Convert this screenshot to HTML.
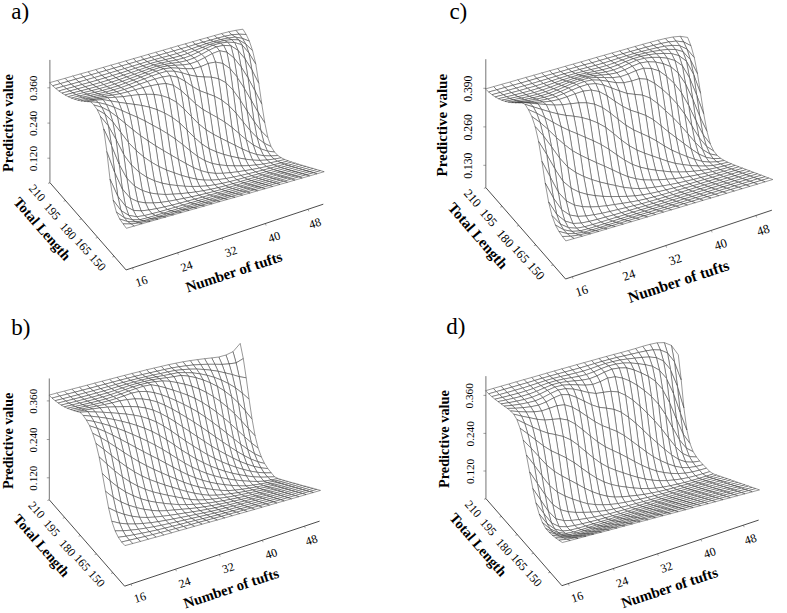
<!DOCTYPE html>
<html><head><meta charset="utf-8"><style>
html,body{margin:0;padding:0;background:#fff;width:787px;height:613px;overflow:hidden}
svg{display:block}
text{font-family:"Liberation Serif",serif;fill:#000}
.ax{stroke:#000;stroke-width:0.55;fill:none}
.ax2{stroke:#111;stroke-width:0.75;fill:none}
.tk{stroke:#444;stroke-width:0.5;fill:none}
.m path{fill:#fff;stroke:#333;stroke-width:0.5;stroke-linejoin:round}
</style></head><body>
<svg width="787" height="613" viewBox="0 0 787 613">
<g><path class="ax" d="M49.94 182.34L49.90 59.92"/>
<path class="ax2" d="M49.64 182.34L126.09 269.95L323.27 204.20"/>
<path class="tk" d="M49.9 158.2h-2.5M49.9 123.1h-2.5M49.9 87.8h-2.5M132.5 267.8l0.8 2M177.6 252.8l0.8 2M221.9 238.0l0.8 2M265.3 223.5l0.8 2M308.0 209.3l0.8 2M114.3 256.4l-2 0.6M97.7 237.5l-2 0.6M81.5 218.9l-2 0.6M65.6 200.6l-2 0.6M50.0 182.8l-2 0.6"/>
<text x="11.3" y="18.6" font-size="23">a)</text>
<text transform="translate(33.4 158.6) rotate(-90.0)" font-size="11.2" text-anchor="middle" dominant-baseline="central">0.120</text>
<text transform="translate(33.4 123.5) rotate(-90.0)" font-size="11.2" text-anchor="middle" dominant-baseline="central">0.240</text>
<text transform="translate(33.4 88.2) rotate(-90.0)" font-size="11.2" text-anchor="middle" dominant-baseline="central">0.360</text>
<text transform="translate(141.5 281.3) rotate(-18.4)" font-size="12.0" text-anchor="middle" dominant-baseline="central">16</text>
<text transform="translate(186.6 266.3) rotate(-18.4)" font-size="12.0" text-anchor="middle" dominant-baseline="central">24</text>
<text transform="translate(230.9 251.5) rotate(-18.4)" font-size="12.0" text-anchor="middle" dominant-baseline="central">32</text>
<text transform="translate(274.3 237.0) rotate(-18.4)" font-size="12.0" text-anchor="middle" dominant-baseline="central">40</text>
<text transform="translate(315.0 223.3) rotate(-18.4)" font-size="12.0" text-anchor="middle" dominant-baseline="central">48</text>
<text transform="translate(97.8 262.4) rotate(48.9)" font-size="12.0" text-anchor="middle" dominant-baseline="central">150</text>
<text transform="translate(83.3 246.3) rotate(48.9)" font-size="12.0" text-anchor="middle" dominant-baseline="central">165</text>
<text transform="translate(68.3 231.2) rotate(48.9)" font-size="12.0" text-anchor="middle" dominant-baseline="central">180</text>
<text transform="translate(52.4 211.3) rotate(48.9)" font-size="12.0" text-anchor="middle" dominant-baseline="central">195</text>
<text transform="translate(37.2 192.9) rotate(48.9)" font-size="12.0" text-anchor="middle" dominant-baseline="central">210</text>
<text transform="translate(8.1 123.0) rotate(-90.0)" font-size="14.3" font-weight="bold" text-anchor="middle" dominant-baseline="central">Predictive value</text>
<text transform="translate(42.4 228.7) rotate(48.9)" font-size="14.3" font-weight="bold" text-anchor="middle" dominant-baseline="central">Total Length</text>
<text transform="translate(233.9 271.9) rotate(-18.4)" font-size="14.8" font-weight="bold" text-anchor="middle" dominant-baseline="central">Number of tufts</text></g>
<g class="m"><path d="M239.1 34.2L246.2 34.5L242.9 29.2L235.8 30.3z"/>
<path d="M231.9 34.8L239.1 34.2L235.8 30.3L228.6 31.8z"/>
<path d="M242.4 38.4L249.4 41.2L246.2 34.5L239.1 34.2z"/>
<path d="M245.7 44.1L252.6 50.7L249.4 41.2L242.4 38.4z"/>
<path d="M224.7 36.3L231.9 34.8L228.6 31.8L221.4 33.6z"/>
<path d="M235.2 37.1L242.4 38.4L239.1 34.2L231.9 34.8z"/>
<path d="M248.9 53.0L255.8 64.2L252.6 50.7L245.7 44.1z"/>
<path d="M217.5 38.2L224.7 36.3L221.4 33.6L214.2 35.6z"/>
<path d="M251.9 70.0L258.8 83.5L255.8 64.2L248.9 53.0z"/>
<path d="M228.1 38.1L235.2 37.1L231.9 34.8L224.7 36.3z"/>
<path d="M254.9 90.8L261.8 104.2L258.8 83.5L251.9 70.0z"/>
<path d="M257.9 112.1L264.8 122.9L261.8 104.2L254.9 90.8z"/>
<path d="M238.6 39.9L245.7 44.1L242.4 38.4L235.2 37.1z"/>
<path d="M260.9 130.7L267.9 137.7L264.8 122.9L257.9 112.1z"/>
<path d="M210.3 40.2L217.5 38.2L214.2 35.6L207.0 37.7z"/>
<path d="M264.1 143.2L271.1 146.6L267.9 137.7L260.9 130.7z"/>
<path d="M220.8 39.6L228.1 38.1L224.7 36.3L217.5 38.2z"/>
<path d="M241.9 44.8L248.9 53.0L245.7 44.1L238.6 39.9z"/>
<path d="M231.4 39.7L238.6 39.9L235.2 37.1L228.1 38.1z"/>
<path d="M267.4 151.1L274.5 152.0L271.1 146.6L264.1 143.2z"/>
<path d="M203.0 42.2L210.3 40.2L207.0 37.7L199.7 39.7z"/>
<path d="M245.0 58.9L251.9 70.0L248.9 53.0L241.9 44.8z"/>
<path d="M248.0 77.9L254.9 90.8L251.9 70.0L245.0 58.9z"/>
<path d="M213.6 41.5L220.8 39.6L217.5 38.2L210.3 40.2z"/>
<path d="M251.0 99.9L257.9 112.1L254.9 90.8L248.0 77.9z"/>
<path d="M254.0 121.4L260.9 130.7L257.9 112.1L251.0 99.9z"/>
<path d="M257.1 137.7L264.1 143.2L260.9 130.7L254.0 121.4z"/>
<path d="M224.2 40.6L231.4 39.7L228.1 38.1L220.8 39.6z"/>
<path d="M234.7 42.6L241.9 44.8L238.6 39.9L231.4 39.7z"/>
<path d="M270.8 156.0L277.9 155.5L274.5 152.0L267.4 151.1z"/>
<path d="M195.7 44.4L203.0 42.2L199.7 39.7L192.4 41.8z"/>
<path d="M260.3 148.7L267.4 151.1L264.1 143.2L257.1 137.7z"/>
<path d="M206.3 43.7L213.6 41.5L210.3 40.2L203.0 42.2z"/>
<path d="M216.9 42.3L224.2 40.6L220.8 39.6L213.6 41.5z"/>
<path d="M238.0 50.4L245.0 58.9L241.9 44.8L234.7 42.6z"/>
<path d="M227.5 42.2L234.7 42.6L231.4 39.7L224.2 40.6z"/>
<path d="M188.4 46.6L195.7 44.4L192.4 41.8L185.1 43.9z"/>
<path d="M263.6 155.7L270.8 156.0L267.4 151.1L260.3 148.7z"/>
<path d="M274.2 159.1L281.3 157.8L277.9 155.5L270.8 156.0z"/>
<path d="M241.1 66.9L248.0 77.9L245.0 58.9L238.0 50.4z"/>
<path d="M247.0 110.7L254.0 121.4L251.0 99.9L244.1 87.8z"/>
<path d="M244.1 87.8L251.0 99.9L248.0 77.9L241.1 66.9z"/>
<path d="M199.0 46.2L206.3 43.7L203.0 42.2L195.7 44.4z"/>
<path d="M250.1 130.5L257.1 137.7L254.0 121.4L247.0 110.7z"/>
<path d="M209.6 44.6L216.9 42.3L213.6 41.5L206.3 43.7z"/>
<path d="M253.2 144.9L260.3 148.7L257.1 137.7L250.1 130.5z"/>
<path d="M181.0 48.8L188.4 46.6L185.1 43.9L177.8 45.9z"/>
<path d="M220.3 43.2L227.5 42.2L224.2 40.6L216.9 42.3z"/>
<path d="M230.9 45.8L238.0 50.4L234.7 42.6L227.5 42.2z"/>
<path d="M191.6 48.8L199.0 46.2L195.7 44.4L188.4 46.6z"/>
<path d="M267.0 160.0L274.2 159.1L270.8 156.0L263.6 155.7z"/>
<path d="M256.5 154.5L263.6 155.7L260.3 148.7L253.2 144.9z"/>
<path d="M277.6 161.3L284.8 159.5L281.3 157.8L274.2 159.1z"/>
<path d="M202.3 47.5L209.6 44.6L206.3 43.7L199.0 46.2z"/>
<path d="M234.0 58.1L241.1 66.9L238.0 50.4L230.9 45.8z"/>
<path d="M173.7 51.0L181.0 48.8L177.8 45.9L170.4 48.1z"/>
<path d="M213.0 45.3L220.3 43.2L216.9 42.3L209.6 44.6z"/>
<path d="M243.0 121.8L250.1 130.5L247.0 110.7L240.1 99.7z"/>
<path d="M240.1 99.7L247.0 110.7L244.1 87.8L237.1 77.0z"/>
<path d="M237.1 77.0L244.1 87.8L241.1 66.9L234.0 58.1z"/>
<path d="M184.3 51.3L191.6 48.8L188.4 46.6L181.0 48.8z"/>
<path d="M246.1 139.6L253.2 144.9L250.1 130.5L243.0 121.8z"/>
<path d="M223.6 45.4L230.9 45.8L227.5 42.2L220.3 43.2z"/>
<path d="M259.8 160.4L267.0 160.0L263.6 155.7L256.5 154.5z"/>
<path d="M270.4 162.8L277.6 161.3L274.2 159.1L267.0 160.0z"/>
<path d="M194.9 50.5L202.3 47.5L199.0 46.2L191.6 48.8z"/>
<path d="M281.1 162.9L288.3 160.9L284.8 159.5L277.6 161.3z"/>
<path d="M249.3 152.1L256.5 154.5L253.2 144.9L246.1 139.6z"/>
<path d="M166.3 53.1L173.7 51.0L170.4 48.1L163.1 50.2z"/>
<path d="M205.6 48.6L213.0 45.3L209.6 44.6L202.3 47.5z"/>
<path d="M176.9 53.6L184.3 51.3L181.0 48.8L173.7 51.0z"/>
<path d="M226.9 52.2L234.0 58.1L230.9 45.8L223.6 45.4z"/>
<path d="M216.3 46.9L223.6 45.4L220.3 43.2L213.0 45.3z"/>
<path d="M187.6 53.5L194.9 50.5L191.6 48.8L184.3 51.3z"/>
<path d="M263.2 164.1L270.4 162.8L267.0 160.0L259.8 160.4z"/>
<path d="M252.6 160.1L259.8 160.4L256.5 154.5L249.3 152.1z"/>
<path d="M273.9 164.8L281.1 162.9L277.6 161.3L270.4 162.8z"/>
<path d="M230.0 68.6L237.1 77.0L234.0 58.1L226.9 52.2z"/>
<path d="M236.0 113.1L243.0 121.8L240.1 99.7L233.0 89.9z"/>
<path d="M239.0 133.5L246.1 139.6L243.0 121.8L236.0 113.1z"/>
<path d="M198.2 52.2L205.6 48.6L202.3 47.5L194.9 50.5z"/>
<path d="M158.9 55.2L166.3 53.1L163.1 50.2L155.7 52.3z"/>
<path d="M233.0 89.9L240.1 99.7L237.1 77.0L230.0 68.6z"/>
<path d="M284.6 164.2L291.8 162.1L288.3 160.9L281.1 162.9z"/>
<path d="M169.5 55.7L176.9 53.6L173.7 51.0L166.3 53.1z"/>
<path d="M242.1 148.9L249.3 152.1L246.1 139.6L239.0 133.5z"/>
<path d="M208.9 50.3L216.3 46.9L213.0 45.3L205.6 48.6z"/>
<path d="M180.2 55.9L187.6 53.5L184.3 51.3L176.9 53.6z"/>
<path d="M219.6 50.8L226.9 52.2L223.6 45.4L216.3 46.9z"/>
<path d="M256.0 165.0L263.2 164.1L259.8 160.4L252.6 160.1z"/>
<path d="M190.9 55.6L198.2 52.2L194.9 50.5L187.6 53.5z"/>
<path d="M266.7 166.5L273.9 164.8L270.4 162.8L263.2 164.1z"/>
<path d="M245.4 159.2L252.6 160.1L249.3 152.1L242.1 148.9z"/>
<path d="M151.4 57.3L158.9 55.2L155.7 52.3L148.2 54.4z"/>
<path d="M277.4 166.3L284.6 164.2L281.1 162.9L273.9 164.8z"/>
<path d="M162.1 57.6L169.5 55.7L166.3 53.1L158.9 55.2z"/>
<path d="M201.6 54.3L208.9 50.3L205.6 48.6L198.2 52.2z"/>
<path d="M222.8 63.5L230.0 68.6L226.9 52.2L219.6 50.8z"/>
<path d="M172.8 57.9L180.2 55.9L176.9 53.6L169.5 55.7z"/>
<path d="M288.1 165.4L295.4 163.2L291.8 162.1L284.6 164.2z"/>
<path d="M231.9 127.4L239.0 133.5L236.0 113.1L228.9 105.5z"/>
<path d="M228.9 105.5L236.0 113.1L233.0 89.9L225.9 82.7z"/>
<path d="M212.3 53.6L219.6 50.8L216.3 46.9L208.9 50.3z"/>
<path d="M225.9 82.7L233.0 89.9L230.0 68.6L222.8 63.5z"/>
<path d="M235.0 145.3L242.1 148.9L239.0 133.5L231.9 127.4z"/>
<path d="M183.5 58.2L190.9 55.6L187.6 53.5L180.2 55.9z"/>
<path d="M248.7 165.6L256.0 165.0L252.6 160.1L245.4 159.2z"/>
<path d="M259.4 168.1L266.7 166.5L263.2 164.1L256.0 165.0z"/>
<path d="M144.0 59.4L151.4 57.3L148.2 54.4L140.8 56.6z"/>
<path d="M194.2 58.0L201.6 54.3L198.2 52.2L190.9 55.6z"/>
<path d="M270.1 168.2L277.4 166.3L273.9 164.8L266.7 166.5z"/>
<path d="M238.2 157.9L245.4 159.2L242.1 148.9L235.0 145.3z"/>
<path d="M154.7 59.6L162.1 57.6L158.9 55.2L151.4 57.3z"/>
<path d="M165.4 59.7L172.8 57.9L169.5 55.7L162.1 57.6z"/>
<path d="M204.9 57.6L212.3 53.6L208.9 50.3L201.6 54.3z"/>
<path d="M280.9 167.5L288.1 165.4L284.6 164.2L277.4 166.3z"/>
<path d="M215.5 62.1L222.8 63.5L219.6 50.8L212.3 53.6z"/>
<path d="M176.0 60.1L183.5 58.2L180.2 55.9L172.8 57.9z"/>
<path d="M291.7 166.5L298.9 164.3L295.4 163.2L288.1 165.4z"/>
<path d="M136.5 61.6L144.0 59.4L140.8 56.6L133.3 58.7z"/>
<path d="M252.1 169.5L259.4 168.1L256.0 165.0L248.7 165.6z"/>
<path d="M241.4 165.9L248.7 165.6L245.4 159.2L238.2 157.9z"/>
<path d="M218.6 78.8L225.9 82.7L222.8 63.5L215.5 62.1z"/>
<path d="M186.7 60.7L194.2 58.0L190.9 55.6L183.5 58.2z"/>
<path d="M224.7 122.1L231.9 127.4L228.9 105.5L221.7 100.0z"/>
<path d="M221.7 100.0L228.9 105.5L225.9 82.7L218.6 78.8z"/>
<path d="M227.7 141.7L235.0 145.3L231.9 127.4L224.7 122.1z"/>
<path d="M147.2 61.7L154.7 59.6L151.4 57.3L144.0 59.4z"/>
<path d="M262.9 170.2L270.1 168.2L266.7 166.5L259.4 168.1z"/>
<path d="M197.5 61.3L204.9 57.6L201.6 54.3L194.2 58.0z"/>
<path d="M157.9 61.5L165.4 59.7L162.1 57.6L154.7 59.6z"/>
<path d="M230.9 156.3L238.2 157.9L235.0 145.3L227.7 141.7z"/>
<path d="M273.6 169.6L280.9 167.5L277.4 166.3L270.1 168.2z"/>
<path d="M208.2 63.5L215.5 62.1L212.3 53.6L204.9 57.6z"/>
<path d="M168.6 61.5L176.0 60.1L172.8 57.9L165.4 59.7z"/>
<path d="M284.4 168.6L291.7 166.5L288.1 165.4L280.9 167.5z"/>
<path d="M129.0 63.8L136.5 61.6L133.3 58.7L125.8 60.9z"/>
<path d="M179.3 62.3L186.7 60.7L183.5 58.2L176.0 60.1z"/>
<path d="M244.8 170.7L252.1 169.5L248.7 165.6L241.4 165.9z"/>
<path d="M139.7 64.0L147.2 61.7L144.0 59.4L136.5 61.6z"/>
<path d="M234.2 165.9L241.4 165.9L238.2 157.9L230.9 156.3z"/>
<path d="M255.6 172.0L262.9 170.2L259.4 168.1L252.1 169.5z"/>
<path d="M211.3 77.2L218.6 78.8L215.5 62.1L208.2 63.5z"/>
<path d="M295.2 167.5L302.5 165.4L298.9 164.3L291.7 166.5z"/>
<path d="M190.0 63.9L197.5 61.3L194.2 58.0L186.7 60.7z"/>
<path d="M150.4 63.5L157.9 61.5L154.7 59.6L147.2 61.7z"/>
<path d="M200.7 66.7L208.2 63.5L204.9 57.6L197.5 61.3z"/>
<path d="M214.4 96.2L221.7 100.0L218.6 78.8L211.3 77.2z"/>
<path d="M266.3 171.7L273.6 169.6L270.1 168.2L262.9 170.2z"/>
<path d="M217.4 117.6L224.7 122.1L221.7 100.0L214.4 96.2z"/>
<path d="M220.5 138.0L227.7 141.7L224.7 122.1L217.4 117.6z"/>
<path d="M161.2 63.1L168.6 61.5L165.4 59.7L157.9 61.5z"/>
<path d="M223.6 154.4L230.9 156.3L227.7 141.7L220.5 138.0z"/>
<path d="M121.5 66.0L129.0 63.8L125.8 60.9L118.3 63.1z"/>
<path d="M277.1 170.8L284.4 168.6L280.9 167.5L273.6 169.6z"/>
<path d="M171.9 63.3L179.3 62.3L176.0 60.1L168.6 61.5z"/>
<path d="M132.2 66.3L139.7 64.0L136.5 61.6L129.0 63.8z"/>
<path d="M237.5 171.8L244.8 170.7L241.4 165.9L234.2 165.9z"/>
<path d="M288.0 169.7L295.2 167.5L291.7 166.5L284.4 168.6z"/>
<path d="M248.2 173.8L255.6 172.0L252.1 169.5L244.8 170.7z"/>
<path d="M182.6 65.0L190.0 63.9L186.7 60.7L179.3 62.3z"/>
<path d="M204.0 77.0L211.3 77.2L208.2 63.5L200.7 66.7z"/>
<path d="M226.8 165.6L234.2 165.9L230.9 156.3L223.6 154.4z"/>
<path d="M193.3 68.7L200.7 66.7L197.5 61.3L190.0 63.9z"/>
<path d="M142.9 65.9L150.4 63.5L147.2 61.7L139.7 64.0z"/>
<path d="M259.0 173.8L266.3 171.7L262.9 170.2L255.6 172.0z"/>
<path d="M298.8 168.6L306.1 166.4L302.5 165.4L295.2 167.5z"/>
<path d="M207.1 93.5L214.4 96.2L211.3 77.2L204.0 77.0z"/>
<path d="M153.7 65.0L161.2 63.1L157.9 61.5L150.4 63.5z"/>
<path d="M113.9 68.2L121.5 66.0L118.3 63.1L110.8 65.2z"/>
<path d="M269.8 173.0L277.1 170.8L273.6 169.6L266.3 171.7z"/>
<path d="M210.1 113.6L217.4 117.6L214.4 96.2L207.1 93.5z"/>
<path d="M213.2 134.2L220.5 138.0L217.4 117.6L210.1 113.6z"/>
<path d="M164.4 64.5L171.9 63.3L168.6 61.5L161.2 63.1z"/>
<path d="M124.7 68.6L132.2 66.3L129.0 63.8L121.5 66.0z"/>
<path d="M216.3 151.9L223.6 154.4L220.5 138.0L213.2 134.2z"/>
<path d="M280.7 171.9L288.0 169.7L284.4 168.6L277.1 170.8z"/>
<path d="M230.2 172.7L237.5 171.8L234.2 165.9L226.8 165.6z"/>
<path d="M240.9 175.5L248.2 173.8L244.8 170.7L237.5 171.8z"/>
<path d="M175.2 65.3L182.6 65.0L179.3 62.3L171.9 63.3z"/>
<path d="M196.6 76.4L204.0 77.0L200.7 66.7L193.3 68.7z"/>
<path d="M135.4 68.3L142.9 65.9L139.7 64.0L132.2 66.3z"/>
<path d="M185.9 68.8L193.3 68.7L190.0 63.9L182.6 65.0z"/>
<path d="M251.7 175.8L259.0 173.8L255.6 172.0L248.2 173.8z"/>
<path d="M219.5 164.9L226.8 165.6L223.6 154.4L216.3 151.9z"/>
<path d="M291.5 170.8L298.8 168.6L295.2 167.5L288.0 169.7z"/>
<path d="M146.2 67.5L153.7 65.0L150.4 63.5L142.9 65.9z"/>
<path d="M106.4 70.4L113.9 68.2L110.8 65.2L103.2 67.4z"/>
<path d="M262.5 175.1L269.8 173.0L266.3 171.7L259.0 173.8z"/>
<path d="M302.4 169.6L309.7 167.5L306.1 166.4L298.8 168.6z"/>
<path d="M199.7 90.7L207.1 93.5L204.0 77.0L196.6 76.4z"/>
<path d="M117.1 70.8L124.7 68.6L121.5 66.0L113.9 68.2z"/>
<path d="M156.9 66.2L164.4 64.5L161.2 63.1L153.7 65.0z"/>
<path d="M273.4 174.1L280.7 171.9L277.1 170.8L269.8 173.0z"/>
<path d="M202.8 109.4L210.1 113.6L207.1 93.5L199.7 90.7z"/>
<path d="M233.5 177.1L240.9 175.5L237.5 171.8L230.2 172.7z"/>
<path d="M205.9 129.7L213.2 134.2L210.1 113.6L202.8 109.4z"/>
<path d="M222.8 173.3L230.2 172.7L226.8 165.6L219.5 164.9z"/>
<path d="M127.9 70.7L135.4 68.3L132.2 66.3L124.7 68.6z"/>
<path d="M167.7 65.9L175.2 65.3L171.9 63.3L164.4 64.5z"/>
<path d="M189.2 75.0L196.6 76.4L193.3 68.7L185.9 68.8z"/>
<path d="M209.0 148.7L216.3 151.9L213.2 134.2L205.9 129.7z"/>
<path d="M244.3 177.8L251.7 175.8L248.2 173.8L240.9 175.5z"/>
<path d="M178.5 68.2L185.9 68.8L182.6 65.0L175.2 65.3z"/>
<path d="M284.2 172.9L291.5 170.8L288.0 169.7L280.7 171.9z"/>
<path d="M138.6 70.1L146.2 67.5L142.9 65.9L135.4 68.3z"/>
<path d="M98.8 72.6L106.4 70.4L103.2 67.4L95.6 69.6z"/>
<path d="M255.2 177.3L262.5 175.1L259.0 173.8L251.7 175.8z"/>
<path d="M212.2 163.5L219.5 164.9L216.3 151.9L209.0 148.7z"/>
<path d="M295.1 171.8L302.4 169.6L298.8 168.6L291.5 170.8z"/>
<path d="M109.5 73.1L117.1 70.8L113.9 68.2L106.4 70.4z"/>
<path d="M149.4 68.8L156.9 66.2L153.7 65.0L146.2 67.5z"/>
<path d="M266.0 176.3L273.4 174.1L269.8 173.0L262.5 175.1z"/>
<path d="M192.4 86.5L199.7 90.7L196.6 76.4L189.2 75.0z"/>
<path d="M120.3 73.2L127.9 70.7L124.7 68.6L117.1 70.8z"/>
<path d="M306.0 170.7L313.3 168.5L309.7 167.5L302.4 169.6z"/>
<path d="M226.1 178.5L233.5 177.1L230.2 172.7L222.8 173.3z"/>
<path d="M160.2 67.4L167.7 65.9L164.4 64.5L156.9 66.2z"/>
<path d="M215.4 173.4L222.8 173.3L219.5 164.9L212.2 163.5z"/>
<path d="M237.0 179.8L244.3 177.8L240.9 175.5L233.5 177.1z"/>
<path d="M276.9 175.1L284.2 172.9L280.7 171.9L273.4 174.1z"/>
<path d="M195.5 103.8L202.8 109.4L199.7 90.7L192.4 86.5z"/>
<path d="M131.1 72.6L138.6 70.1L135.4 68.3L127.9 70.7z"/>
<path d="M171.0 67.9L178.5 68.2L175.2 65.3L167.7 65.9z"/>
<path d="M181.8 72.8L189.2 75.0L185.9 68.8L178.5 68.2z"/>
<path d="M91.1 74.8L98.8 72.6L95.6 69.6L88.0 71.8z"/>
<path d="M198.6 123.8L205.9 129.7L202.8 109.4L195.5 103.8z"/>
<path d="M247.8 179.4L255.2 177.3L251.7 175.8L244.3 177.8z"/>
<path d="M201.7 143.9L209.0 148.7L205.9 129.7L198.6 123.8z"/>
<path d="M287.8 174.0L295.1 171.8L291.5 170.8L284.2 172.9z"/>
<path d="M141.9 71.5L149.4 68.8L146.2 67.5L138.6 70.1z"/>
<path d="M101.9 75.4L109.5 73.1L106.4 70.4L98.8 72.6z"/>
<path d="M204.8 160.7L212.2 163.5L209.0 148.7L201.7 143.9z"/>
<path d="M258.7 178.5L266.0 176.3L262.5 175.1L255.2 177.3z"/>
<path d="M112.7 75.5L120.3 73.2L117.1 70.8L109.5 73.1z"/>
<path d="M298.7 172.8L306.0 170.7L302.4 169.6L295.1 171.8z"/>
<path d="M152.7 70.0L160.2 67.4L156.9 66.2L149.4 68.8z"/>
<path d="M218.7 179.6L226.1 178.5L222.8 173.3L215.4 173.4z"/>
<path d="M229.6 181.7L237.0 179.8L233.5 177.1L226.1 178.5z"/>
<path d="M269.6 177.3L276.9 175.1L273.4 174.1L266.0 176.3z"/>
<path d="M185.0 81.3L192.4 86.5L189.2 75.0L181.8 72.8z"/>
<path d="M123.5 75.2L131.1 72.6L127.9 70.7L120.3 73.2z"/>
<path d="M309.6 171.7L316.9 169.6L313.3 168.5L306.0 170.7z"/>
<path d="M208.0 172.6L215.4 173.4L212.2 163.5L204.8 160.7z"/>
<path d="M163.5 68.9L171.0 67.9L167.7 65.9L160.2 67.4z"/>
<path d="M83.5 77.0L91.1 74.8L88.0 71.8L80.4 73.9z"/>
<path d="M240.4 181.6L247.8 179.4L244.3 177.8L237.0 179.8z"/>
<path d="M174.3 71.2L181.8 72.8L178.5 68.2L171.0 67.9z"/>
<path d="M280.5 176.2L287.8 174.0L284.2 172.9L276.9 175.1z"/>
<path d="M134.3 74.3L141.9 71.5L138.6 70.1L131.1 72.6z"/>
<path d="M94.3 77.6L101.9 75.4L98.8 72.6L91.1 74.8z"/>
<path d="M188.2 96.9L195.5 103.8L192.4 86.5L185.0 81.3z"/>
<path d="M251.3 180.7L258.7 178.5L255.2 177.3L247.8 179.4z"/>
<path d="M105.1 77.9L112.7 75.5L109.5 73.1L101.9 75.4z"/>
<path d="M291.4 175.0L298.7 172.8L295.1 171.8L287.8 174.0z"/>
<path d="M145.1 72.9L152.7 70.0L149.4 68.8L141.9 71.5z"/>
<path d="M191.3 116.4L198.6 123.8L195.5 103.8L188.2 96.9z"/>
<path d="M194.3 137.4L201.7 143.9L198.6 123.8L191.3 116.4z"/>
<path d="M262.2 179.6L269.6 177.3L266.0 176.3L258.7 178.5z"/>
<path d="M115.9 77.7L123.5 75.2L120.3 73.2L112.7 75.5z"/>
<path d="M211.3 180.2L218.7 179.6L215.4 173.4L208.0 172.6z"/>
<path d="M222.1 183.4L229.6 181.7L226.1 178.5L218.7 179.6z"/>
<path d="M197.4 156.3L204.8 160.7L201.7 143.9L194.3 137.4z"/>
<path d="M302.3 173.8L309.6 171.7L306.0 170.7L298.7 172.8z"/>
<path d="M75.8 79.2L83.5 77.0L80.4 73.9L72.7 76.1z"/>
<path d="M156.0 71.3L163.5 68.9L160.2 67.4L152.7 70.0z"/>
<path d="M233.0 183.7L240.4 181.6L237.0 179.8L229.6 181.7z"/>
<path d="M126.7 77.0L134.3 74.3L131.1 72.6L123.5 75.2z"/>
<path d="M177.6 77.2L185.0 81.3L181.8 72.8L174.3 71.2z"/>
<path d="M273.1 178.4L280.5 176.2L276.9 175.1L269.6 177.3z"/>
<path d="M86.6 79.8L94.3 77.6L91.1 74.8L83.5 77.0z"/>
<path d="M166.8 71.3L174.3 71.2L171.0 67.9L163.5 68.9z"/>
<path d="M200.6 170.6L208.0 172.6L204.8 160.7L197.4 156.3z"/>
<path d="M313.3 172.8L320.5 170.7L316.9 169.6L309.6 171.7z"/>
<path d="M243.9 182.9L251.3 180.7L247.8 179.4L240.4 181.6z"/>
<path d="M97.4 80.2L105.1 77.9L101.9 75.4L94.3 77.6z"/>
<path d="M137.5 75.8L145.1 72.9L141.9 71.5L134.3 74.3z"/>
<path d="M284.0 177.2L291.4 175.0L287.8 174.0L280.5 176.2z"/>
<path d="M108.3 80.2L115.9 77.7L112.7 75.5L105.1 77.9z"/>
<path d="M254.8 181.8L262.2 179.6L258.7 178.5L251.3 180.7z"/>
<path d="M180.8 90.3L188.2 96.9L185.0 81.3L177.6 77.2z"/>
<path d="M214.7 184.8L222.1 183.4L218.7 179.6L211.3 180.2z"/>
<path d="M148.4 74.3L156.0 71.3L152.7 70.0L145.1 72.9z"/>
<path d="M295.0 176.0L302.3 173.8L298.7 172.8L291.4 175.0z"/>
<path d="M68.1 81.4L75.8 79.2L72.7 76.1L65.0 78.3z"/>
<path d="M203.9 180.1L211.3 180.2L208.0 172.6L200.6 170.6z"/>
<path d="M225.6 185.8L233.0 183.7L229.6 181.7L222.1 183.4z"/>
<path d="M119.1 79.7L126.7 77.0L123.5 75.2L115.9 77.7z"/>
<path d="M265.7 180.6L273.1 178.4L269.6 177.3L262.2 179.6z"/>
<path d="M79.0 82.0L86.6 79.8L83.5 77.0L75.8 79.2z"/>
<path d="M183.9 108.8L191.3 116.4L188.2 96.9L180.8 90.3z"/>
<path d="M159.3 73.4L166.8 71.3L163.5 68.9L156.0 71.3z"/>
<path d="M305.9 174.9L313.3 172.8L309.6 171.7L302.3 173.8z"/>
<path d="M187.0 130.0L194.3 137.4L191.3 116.4L183.9 108.8z"/>
<path d="M190.1 150.7L197.4 156.3L194.3 137.4L187.0 130.0z"/>
<path d="M170.1 75.8L177.6 77.2L174.3 71.2L166.8 71.3z"/>
<path d="M236.5 185.2L243.9 182.9L240.4 181.6L233.0 183.7z"/>
<path d="M89.8 82.4L97.4 80.2L94.3 77.6L86.6 79.8z"/>
<path d="M129.9 78.6L137.5 75.8L134.3 74.3L126.7 77.0z"/>
<path d="M276.7 179.3L284.0 177.2L280.5 176.2L273.1 178.4z"/>
<path d="M193.2 167.5L200.6 170.6L197.4 156.3L190.1 150.7z"/>
<path d="M316.9 173.8L324.2 171.7L320.5 170.7L313.3 172.8z"/>
<path d="M100.6 82.5L108.3 80.2L105.1 77.9L97.4 80.2z"/>
<path d="M247.4 184.1L254.8 181.8L251.3 180.7L243.9 182.9z"/>
<path d="M140.8 77.2L148.4 74.3L145.1 72.9L137.5 75.8z"/>
<path d="M60.4 83.6L68.1 81.4L65.0 78.3L57.3 80.5z"/>
<path d="M287.6 178.1L295.0 176.0L291.4 175.0L284.0 177.2z"/>
<path d="M207.2 185.9L214.7 184.8L211.3 180.2L203.9 180.1z"/>
<path d="M111.5 82.2L119.1 79.7L115.9 77.7L108.3 80.2z"/>
<path d="M218.1 187.7L225.6 185.8L222.1 183.4L214.7 184.8z"/>
<path d="M258.3 182.8L265.7 180.6L262.2 179.6L254.8 181.8z"/>
<path d="M71.2 84.2L79.0 82.0L75.8 79.2L68.1 81.4z"/>
<path d="M196.4 179.2L203.9 180.1L200.6 170.6L193.2 167.5z"/>
<path d="M151.7 76.1L159.3 73.4L156.0 71.3L148.4 74.3z"/>
<path d="M173.3 85.3L180.8 90.3L177.6 77.2L170.1 75.8z"/>
<path d="M298.6 177.0L305.9 174.9L302.3 173.8L295.0 176.0z"/>
<path d="M229.0 187.4L236.5 185.2L233.0 183.7L225.6 185.8z"/>
<path d="M122.3 81.4L129.9 78.6L126.7 77.0L119.1 79.7z"/>
<path d="M82.1 84.5L89.8 82.4L86.6 79.8L79.0 82.0z"/>
<path d="M162.5 77.0L170.1 75.8L166.8 71.3L159.3 73.4z"/>
<path d="M269.3 181.5L276.7 179.3L273.1 178.4L265.7 180.6z"/>
<path d="M309.6 175.9L316.9 173.8L313.3 172.8L305.9 174.9z"/>
<path d="M92.9 84.7L100.6 82.5L97.4 80.2L89.8 82.4z"/>
<path d="M176.5 102.3L183.9 108.8L180.8 90.3L173.3 85.3z"/>
<path d="M239.9 186.3L247.4 184.1L243.9 182.9L236.5 185.2z"/>
<path d="M133.2 80.2L140.8 77.2L137.5 75.8L129.9 78.6z"/>
<path d="M52.7 85.8L60.4 83.6L57.3 80.5L49.6 82.7z"/>
<path d="M179.6 122.9L187.0 130.0L183.9 108.8L176.5 102.3z"/>
<path d="M280.3 180.3L287.6 178.1L284.0 177.2L276.7 179.3z"/>
<path d="M182.7 144.6L190.1 150.7L187.0 130.0L179.6 122.9z"/>
<path d="M103.8 84.6L111.5 82.2L108.3 80.2L100.6 82.5z"/>
<path d="M199.7 186.4L207.2 185.9L203.9 180.1L196.4 179.2z"/>
<path d="M185.8 163.5L193.2 167.5L190.1 150.7L182.7 144.6z"/>
<path d="M210.6 189.4L218.1 187.7L214.7 184.8L207.2 185.9z"/>
<path d="M250.9 185.0L258.3 182.8L254.8 181.8L247.4 184.1z"/>
<path d="M63.5 86.3L71.2 84.2L68.1 81.4L60.4 83.6z"/>
<path d="M144.1 79.0L151.7 76.1L148.4 74.3L140.8 77.2z"/>
<path d="M291.2 179.1L298.6 177.0L295.0 176.0L287.6 178.1z"/>
<path d="M114.7 84.1L122.3 81.4L119.1 79.7L111.5 82.2z"/>
<path d="M221.5 189.5L229.0 187.4L225.6 185.8L218.1 187.7z"/>
<path d="M74.4 86.7L82.1 84.5L79.0 82.0L71.2 84.2z"/>
<path d="M155.0 79.1L162.5 77.0L159.3 73.4L151.7 76.1z"/>
<path d="M165.8 83.5L173.3 85.3L170.1 75.8L162.5 77.0z"/>
<path d="M261.9 183.7L269.3 181.5L265.7 180.6L258.3 182.8z"/>
<path d="M189.0 177.5L196.4 179.2L193.2 167.5L185.8 163.5z"/>
<path d="M302.2 178.0L309.6 175.9L305.9 174.9L298.6 177.0z"/>
<path d="M85.2 86.8L92.9 84.7L89.8 82.4L82.1 84.5z"/>
<path d="M125.5 83.1L133.2 80.2L129.9 78.6L122.3 81.4z"/>
<path d="M232.5 188.6L239.9 186.3L236.5 185.2L229.0 187.4z"/>
<path d="M272.9 182.5L280.3 180.3L276.7 179.3L269.3 181.5z"/>
<path d="M96.1 86.8L103.8 84.6L100.6 82.5L92.9 84.7z"/>
<path d="M136.4 81.9L144.1 79.0L140.8 77.2L133.2 80.2z"/>
<path d="M243.4 187.3L250.9 185.0L247.4 184.1L239.9 186.3z"/>
<path d="M55.8 88.5L63.5 86.3L60.4 83.6L52.7 85.8z"/>
<path d="M169.0 98.1L176.5 102.3L173.3 85.3L165.8 83.5z"/>
<path d="M203.1 190.8L210.6 189.4L207.2 185.9L199.7 186.4z"/>
<path d="M192.2 186.5L199.7 186.4L196.4 179.2L189.0 177.5z"/>
<path d="M283.9 181.3L291.2 179.1L287.6 178.1L280.3 180.3z"/>
<path d="M107.0 86.6L114.7 84.1L111.5 82.2L103.8 84.6z"/>
<path d="M214.0 191.5L221.5 189.5L218.1 187.7L210.6 189.4z"/>
<path d="M66.6 88.8L74.4 86.7L71.2 84.2L63.5 86.3z"/>
<path d="M172.1 117.3L179.6 122.9L176.5 102.3L169.0 98.1z"/>
<path d="M147.4 81.5L155.0 79.1L151.7 76.1L144.1 79.0z"/>
<path d="M175.2 138.9L182.7 144.6L179.6 122.9L172.1 117.3z"/>
<path d="M254.4 186.0L261.9 183.7L258.3 182.8L250.9 185.0z"/>
<path d="M178.3 159.3L185.8 163.5L182.7 144.6L175.2 138.9z"/>
<path d="M158.2 84.4L165.8 83.5L162.5 77.0L155.0 79.1z"/>
<path d="M117.9 85.9L125.5 83.1L122.3 81.4L114.7 84.1z"/>
<path d="M294.9 180.1L302.2 178.0L298.6 177.0L291.2 179.1z"/>
<path d="M77.5 88.9L85.2 86.8L82.1 84.5L74.4 86.7z"/>
<path d="M225.0 190.8L232.5 188.6L229.0 187.4L221.5 189.5z"/>
<path d="M181.5 175.4L189.0 177.5L185.8 163.5L178.3 159.3z"/>
<path d="M265.4 184.7L272.9 182.5L269.3 181.5L261.9 183.7z"/>
<path d="M88.4 88.9L96.1 86.8L92.9 84.7L85.2 86.8z"/>
<path d="M128.8 84.8L136.4 81.9L133.2 80.2L125.5 83.1z"/>
<path d="M236.0 189.6L243.4 187.3L239.9 186.3L232.5 188.6z"/>
<path d="M195.6 192.0L203.1 190.8L199.7 186.4L192.2 186.5z"/>
<path d="M276.4 183.4L283.9 181.3L280.3 180.3L272.9 182.5z"/>
<path d="M99.3 88.7L107.0 86.6L103.8 84.6L96.1 86.8z"/>
<path d="M58.9 91.0L66.6 88.8L63.5 86.3L55.8 88.5z"/>
<path d="M139.7 84.2L147.4 81.5L144.1 79.0L136.4 81.9z"/>
<path d="M161.4 95.6L169.0 98.1L165.8 83.5L158.2 84.4z"/>
<path d="M206.5 193.4L214.0 191.5L210.6 189.4L203.1 190.8z"/>
<path d="M184.7 186.3L192.2 186.5L189.0 177.5L181.5 175.4z"/>
<path d="M247.0 188.2L254.4 186.0L250.9 185.0L243.4 187.3z"/>
<path d="M150.6 85.8L158.2 84.4L155.0 79.1L147.4 81.5z"/>
<path d="M110.2 88.3L117.9 85.9L114.7 84.1L107.0 86.6z"/>
<path d="M287.5 182.3L294.9 180.1L291.2 179.1L283.9 181.3z"/>
<path d="M69.8 91.0L77.5 88.9L74.4 86.7L66.6 88.8z"/>
<path d="M217.5 193.0L225.0 190.8L221.5 189.5L214.0 191.5z"/>
<path d="M164.6 113.1L172.1 117.3L169.0 98.1L161.4 95.6z"/>
<path d="M258.0 186.9L265.4 184.7L261.9 183.7L254.4 186.0z"/>
<path d="M167.7 133.8L175.2 138.9L172.1 117.3L164.6 113.1z"/>
<path d="M121.1 87.6L128.8 84.8L125.5 83.1L117.9 85.9z"/>
<path d="M80.7 90.9L88.4 88.9L85.2 86.8L77.5 88.9z"/>
<path d="M170.8 154.9L178.3 159.3L175.2 138.9L167.7 133.8z"/>
<path d="M228.5 191.8L236.0 189.6L232.5 188.6L225.0 190.8z"/>
<path d="M174.0 172.8L181.5 175.4L178.3 159.3L170.8 154.9z"/>
<path d="M269.0 185.6L276.4 183.4L272.9 182.5L265.4 184.7z"/>
<path d="M91.6 90.7L99.3 88.7L96.1 86.8L88.4 88.9z"/>
<path d="M132.1 86.9L139.7 84.2L136.4 81.9L128.8 84.8z"/>
<path d="M188.0 192.9L195.6 192.0L192.2 186.5L184.7 186.3z"/>
<path d="M199.0 195.2L206.5 193.4L203.1 190.8L195.6 192.0z"/>
<path d="M239.5 190.5L247.0 188.2L243.4 187.3L236.0 189.6z"/>
<path d="M153.9 94.4L161.4 95.6L158.2 84.4L150.6 85.8z"/>
<path d="M102.5 90.5L110.2 88.3L107.0 86.6L99.3 88.7z"/>
<path d="M143.0 87.7L150.6 85.8L147.4 81.5L139.7 84.2z"/>
<path d="M280.0 184.4L287.5 182.3L283.9 181.3L276.4 183.4z"/>
<path d="M62.0 93.1L69.8 91.0L66.6 88.8L58.9 91.0z"/>
<path d="M177.2 185.6L184.7 186.3L181.5 175.4L174.0 172.8z"/>
<path d="M209.9 195.1L217.5 193.0L214.0 191.5L206.5 193.4z"/>
<path d="M250.5 189.1L258.0 186.9L254.4 186.0L247.0 188.2z"/>
<path d="M113.4 90.0L121.1 87.6L117.9 85.9L110.2 88.3z"/>
<path d="M72.9 92.9L80.7 90.9L77.5 88.9L69.8 91.0z"/>
<path d="M221.0 194.1L228.5 191.8L225.0 190.8L217.5 193.0z"/>
<path d="M157.0 109.7L164.6 113.1L161.4 95.6L153.9 94.4z"/>
<path d="M261.6 187.8L269.0 185.6L265.4 184.7L258.0 186.9z"/>
<path d="M83.8 92.6L91.6 90.7L88.4 88.9L80.7 90.9z"/>
<path d="M124.4 89.5L132.1 86.9L128.8 84.8L121.1 87.6z"/>
<path d="M160.2 129.3L167.7 133.8L164.6 113.1L157.0 109.7z"/>
<path d="M163.3 150.5L170.8 154.9L167.7 133.8L160.2 129.3z"/>
<path d="M232.0 192.7L239.5 190.5L236.0 189.6L228.5 191.8z"/>
<path d="M191.4 196.9L199.0 195.2L195.6 192.0L188.0 192.9z"/>
<path d="M180.5 193.7L188.0 192.9L184.7 186.3L177.2 185.6z"/>
<path d="M166.4 170.0L174.0 172.8L170.8 154.9L163.3 150.5z"/>
<path d="M135.3 89.8L143.0 87.7L139.7 84.2L132.1 86.9z"/>
<path d="M94.8 92.4L102.5 90.5L99.3 88.7L91.6 90.7z"/>
<path d="M272.6 186.5L280.0 184.4L276.4 183.4L269.0 185.6z"/>
<path d="M146.2 94.3L153.9 94.4L150.6 85.8L143.0 87.7z"/>
<path d="M202.4 197.2L209.9 195.1L206.5 193.4L199.0 195.2z"/>
<path d="M243.0 191.3L250.5 189.1L247.0 188.2L239.5 190.5z"/>
<path d="M105.7 92.1L113.4 90.0L110.2 88.3L102.5 90.5z"/>
<path d="M169.6 184.7L177.2 185.6L174.0 172.8L166.4 170.0z"/>
<path d="M65.1 95.0L72.9 92.9L69.8 91.0L62.0 93.1z"/>
<path d="M213.4 196.3L221.0 194.1L217.5 193.0L209.9 195.1z"/>
<path d="M116.7 91.8L124.4 89.5L121.1 87.6L113.4 90.0z"/>
<path d="M254.1 189.9L261.6 187.8L258.0 186.9L250.5 189.1z"/>
<path d="M76.1 94.6L83.8 92.6L80.7 90.9L72.9 92.9z"/>
<path d="M149.4 107.2L157.0 109.7L153.9 94.4L146.2 94.3z"/>
<path d="M224.4 195.0L232.0 192.7L228.5 191.8L221.0 194.1z"/>
<path d="M127.6 91.9L135.3 89.8L132.1 86.9L124.4 89.5z"/>
<path d="M183.8 198.4L191.4 196.9L188.0 192.9L180.5 193.7z"/>
<path d="M87.0 94.2L94.8 92.4L91.6 90.7L83.8 92.6z"/>
<path d="M265.1 188.7L272.6 186.5L269.0 185.6L261.6 187.8z"/>
<path d="M172.9 194.2L180.5 193.7L177.2 185.6L169.6 184.7z"/>
<path d="M138.6 94.7L146.2 94.3L143.0 87.7L135.3 89.8z"/>
<path d="M152.6 125.2L160.2 129.3L157.0 109.7L149.4 107.2z"/>
<path d="M194.8 199.2L202.4 197.2L199.0 195.2L191.4 196.9z"/>
<path d="M235.5 193.5L243.0 191.3L239.5 190.5L232.0 192.7z"/>
<path d="M155.7 145.9L163.3 150.5L160.2 129.3L152.6 125.2z"/>
<path d="M98.0 93.8L105.7 92.1L102.5 90.5L94.8 92.4z"/>
<path d="M158.8 166.5L166.4 170.0L163.3 150.5L155.7 145.9z"/>
<path d="M205.8 198.5L213.4 196.3L209.9 195.1L202.4 197.2z"/>
<path d="M108.9 93.6L116.7 91.8L113.4 90.0L105.7 92.1z"/>
<path d="M162.0 183.2L169.6 184.7L166.4 170.0L158.8 166.5z"/>
<path d="M246.6 192.1L254.1 189.9L250.5 189.1L243.0 191.3z"/>
<path d="M68.3 96.7L76.1 94.6L72.9 92.9L65.1 95.0z"/>
<path d="M216.9 197.2L224.4 195.0L221.0 194.1L213.4 196.3z"/>
<path d="M119.9 93.8L127.6 91.9L124.4 89.5L116.7 91.8z"/>
<path d="M141.8 105.5L149.4 107.2L146.2 94.3L138.6 94.7z"/>
<path d="M79.2 96.0L87.0 94.2L83.8 92.6L76.1 94.6z"/>
<path d="M176.2 199.9L183.8 198.4L180.5 193.7L172.9 194.2z"/>
<path d="M257.6 190.8L265.1 188.7L261.6 187.8L254.1 189.9z"/>
<path d="M130.9 95.6L138.6 94.7L135.3 89.8L127.6 91.9z"/>
<path d="M187.2 201.2L194.8 199.2L191.4 196.9L183.8 198.4z"/>
<path d="M165.3 194.5L172.9 194.2L169.6 184.7L162.0 183.2z"/>
<path d="M227.9 195.8L235.5 193.5L232.0 192.7L224.4 195.0z"/>
<path d="M90.2 95.5L98.0 93.8L94.8 92.4L87.0 94.2z"/>
<path d="M145.0 121.0L152.6 125.2L149.4 107.2L141.8 105.5z"/>
<path d="M198.2 200.7L205.8 198.5L202.4 197.2L194.8 199.2z"/>
<path d="M101.2 95.1L108.9 93.6L105.7 92.1L98.0 93.8z"/>
<path d="M239.0 194.3L246.6 192.1L243.0 191.3L235.5 193.5z"/>
<path d="M148.1 140.9L155.7 145.9L152.6 125.2L145.0 121.0z"/>
<path d="M151.2 162.1L158.8 166.5L155.7 145.9L148.1 140.9z"/>
<path d="M209.3 199.5L216.9 197.2L213.4 196.3L205.8 198.5z"/>
<path d="M112.2 95.2L119.9 93.8L116.7 91.8L108.9 93.6z"/>
<path d="M154.4 180.8L162.0 183.2L158.8 166.5L151.2 162.1z"/>
<path d="M71.4 98.1L79.2 96.0L76.1 94.6L68.3 96.7z"/>
<path d="M250.1 193.0L257.6 190.8L254.1 189.9L246.6 192.1z"/>
<path d="M168.6 201.3L176.2 199.9L172.9 194.2L165.3 194.5z"/>
<path d="M134.1 104.4L141.8 105.5L138.6 94.7L130.9 95.6z"/>
<path d="M123.2 96.7L130.9 95.6L127.6 91.9L119.9 93.8z"/>
<path d="M179.6 203.2L187.2 201.2L183.8 198.4L176.2 199.9z"/>
<path d="M220.4 198.0L227.9 195.8L224.4 195.0L216.9 197.2z"/>
<path d="M82.4 97.3L90.2 95.5L87.0 94.2L79.2 96.0z"/>
<path d="M157.6 194.1L165.3 194.5L162.0 183.2L154.4 180.8z"/>
<path d="M190.6 202.9L198.2 200.7L194.8 199.2L187.2 201.2z"/>
<path d="M231.5 196.5L239.0 194.3L235.5 193.5L227.9 195.8z"/>
<path d="M93.4 96.6L101.2 95.1L98.0 93.8L90.2 95.5z"/>
<path d="M137.3 117.3L145.0 121.0L141.8 105.5L134.1 104.4z"/>
<path d="M201.7 201.7L209.3 199.5L205.8 198.5L198.2 200.7z"/>
<path d="M104.4 96.4L112.2 95.2L108.9 93.6L101.2 95.1z"/>
<path d="M242.6 195.1L250.1 193.0L246.6 192.1L239.0 194.3z"/>
<path d="M140.5 135.7L148.1 140.9L145.0 121.0L137.3 117.3z"/>
<path d="M160.9 202.4L168.6 201.3L165.3 194.5L157.6 194.1z"/>
<path d="M115.4 97.3L123.2 96.7L119.9 93.8L112.2 95.2z"/>
<path d="M171.9 205.2L179.6 203.2L176.2 199.9L168.6 201.3z"/>
<path d="M212.8 200.3L220.4 198.0L216.9 197.2L209.3 199.5z"/>
<path d="M143.6 156.9L151.2 162.1L148.1 140.9L140.5 135.7z"/>
<path d="M126.4 103.4L134.1 104.4L130.9 95.6L123.2 96.7z"/>
<path d="M74.6 99.2L82.4 97.3L79.2 96.0L71.4 98.1z"/>
<path d="M146.8 177.3L154.4 180.8L151.2 162.1L143.6 156.9z"/>
<path d="M183.0 205.1L190.6 202.9L187.2 201.2L179.6 203.2z"/>
<path d="M223.9 198.7L231.5 196.5L227.9 195.8L220.4 198.0z"/>
<path d="M150.0 193.0L157.6 194.1L154.4 180.8L146.8 177.3z"/>
<path d="M85.6 98.3L93.4 96.6L90.2 95.5L82.4 97.3z"/>
<path d="M194.1 204.0L201.7 201.7L198.2 200.7L190.6 202.9z"/>
<path d="M96.6 97.6L104.4 96.4L101.2 95.1L93.4 96.6z"/>
<path d="M235.0 197.3L242.6 195.1L239.0 194.3L231.5 196.5z"/>
<path d="M129.6 114.0L137.3 117.3L134.1 104.4L126.4 103.4z"/>
<path d="M205.2 202.5L212.8 200.3L209.3 199.5L201.7 201.7z"/>
<path d="M164.2 207.0L171.9 205.2L168.6 201.3L160.9 202.4z"/>
<path d="M107.7 97.8L115.4 97.3L112.2 95.2L104.4 96.4z"/>
<path d="M153.2 203.0L160.9 202.4L157.6 194.1L150.0 193.0z"/>
<path d="M118.7 102.3L126.4 103.4L123.2 96.7L115.4 97.3z"/>
<path d="M175.3 207.3L183.0 205.1L179.6 203.2L171.9 205.2z"/>
<path d="M132.8 129.7L140.5 135.7L137.3 117.3L129.6 114.0z"/>
<path d="M216.3 201.0L223.9 198.7L220.4 198.0L212.8 200.3z"/>
<path d="M77.8 100.2L85.6 98.3L82.4 97.3L74.6 99.2z"/>
<path d="M136.0 150.4L143.6 156.9L140.5 135.7L132.8 129.7z"/>
<path d="M139.1 172.2L146.8 177.3L143.6 156.9L136.0 150.4z"/>
<path d="M186.4 206.3L194.1 204.0L190.6 202.9L183.0 205.1z"/>
<path d="M142.3 190.5L150.0 193.0L146.8 177.3L139.1 172.2z"/>
<path d="M227.4 199.4L235.0 197.3L231.5 196.5L223.9 198.7z"/>
<path d="M88.8 99.1L96.6 97.6L93.4 96.6L85.6 98.3z"/>
<path d="M197.5 204.8L205.2 202.5L201.7 201.7L194.1 204.0z"/>
<path d="M121.9 110.6L129.6 114.0L126.4 103.4L118.7 102.3z"/>
<path d="M156.5 208.7L164.2 207.0L160.9 202.4L153.2 203.0z"/>
<path d="M99.9 98.5L107.7 97.8L104.4 96.4L96.6 97.6z"/>
<path d="M167.6 209.5L175.3 207.3L171.9 205.2L164.2 207.0z"/>
<path d="M110.9 101.0L118.7 102.3L115.4 97.3L107.7 97.8z"/>
<path d="M145.5 202.9L153.2 203.0L150.0 193.0L142.3 190.5z"/>
<path d="M208.7 203.2L216.3 201.0L212.8 200.3L205.2 202.5z"/>
<path d="M178.7 208.6L186.4 206.3L183.0 205.1L175.3 207.3z"/>
<path d="M125.1 123.4L132.8 129.7L129.6 114.0L121.9 110.6z"/>
<path d="M219.8 201.6L227.4 199.4L223.9 198.7L216.3 201.0z"/>
<path d="M81.0 100.9L88.8 99.1L85.6 98.3L77.8 100.2z"/>
<path d="M189.9 207.1L197.5 204.8L194.1 204.0L186.4 206.3z"/>
<path d="M128.3 142.3L136.0 150.4L132.8 129.7L125.1 123.4z"/>
<path d="M131.4 164.9L139.1 172.2L136.0 150.4L128.3 142.3z"/>
<path d="M148.8 210.0L156.5 208.7L153.2 203.0L145.5 202.9z"/>
<path d="M92.0 99.7L99.9 98.5L96.6 97.6L88.8 99.1z"/>
<path d="M134.6 186.2L142.3 190.5L139.1 172.2L131.4 164.9z"/>
<path d="M159.9 211.7L167.6 209.5L164.2 207.0L156.5 208.7z"/>
<path d="M114.2 107.3L121.9 110.6L118.7 102.3L110.9 101.0z"/>
<path d="M201.0 205.4L208.7 203.2L205.2 202.5L197.5 204.8z"/>
<path d="M103.1 99.7L110.9 101.0L107.7 97.8L99.9 98.5z"/>
<path d="M137.8 201.7L145.5 202.9L142.3 190.5L134.6 186.2z"/>
<path d="M171.0 210.9L178.7 208.6L175.3 207.3L167.6 209.5z"/>
<path d="M212.2 203.8L219.8 201.6L216.3 201.0L208.7 203.2z"/>
<path d="M182.2 209.4L189.9 207.1L186.4 206.3L178.7 208.6z"/>
<path d="M117.4 117.0L125.1 123.4L121.9 110.6L114.2 107.3z"/>
<path d="M84.2 101.3L92.0 99.7L88.8 99.1L81.0 100.9z"/>
<path d="M141.1 210.9L148.8 210.0L145.5 202.9L137.8 201.7z"/>
<path d="M152.1 213.7L159.9 211.7L156.5 208.7L148.8 210.0z"/>
<path d="M193.3 207.7L201.0 205.4L197.5 204.8L189.9 207.1z"/>
<path d="M95.3 100.2L103.1 99.7L99.9 98.5L92.0 99.7z"/>
<path d="M163.3 213.2L171.0 210.9L167.6 209.5L159.9 211.7z"/>
<path d="M106.4 104.5L114.2 107.3L110.9 101.0L103.1 99.7z"/>
<path d="M120.6 132.2L128.3 142.3L125.1 123.4L117.4 117.0z"/>
<path d="M204.5 206.0L212.2 203.8L208.7 203.2L201.0 205.4z"/>
<path d="M126.9 178.3L134.6 186.2L131.4 164.9L123.7 154.4z"/>
<path d="M123.7 154.4L131.4 164.9L128.3 142.3L120.6 132.2z"/>
<path d="M174.4 211.7L182.2 209.4L178.7 208.6L171.0 210.9z"/>
<path d="M130.1 198.1L137.8 201.7L134.6 186.2L126.9 178.3z"/>
<path d="M144.4 215.6L152.1 213.7L148.8 210.0L141.1 210.9z"/>
<path d="M185.6 209.9L193.3 207.7L189.9 207.1L182.2 209.4z"/>
<path d="M133.3 210.4L141.1 210.9L137.8 201.7L130.1 198.1z"/>
<path d="M155.5 215.5L163.3 213.2L159.9 211.7L152.1 213.7z"/>
<path d="M87.4 101.6L95.3 100.2L92.0 99.7L84.2 101.3z"/>
<path d="M109.6 111.3L117.4 117.0L114.2 107.3L106.4 104.5z"/>
<path d="M196.8 208.2L204.5 206.0L201.0 205.4L193.3 207.7z"/>
<path d="M98.5 102.6L106.4 104.5L103.1 99.7L95.3 100.2z"/>
<path d="M166.7 214.0L174.4 211.7L171.0 210.9L163.3 213.2z"/>
<path d="M112.8 122.0L120.6 132.2L117.4 117.0L109.6 111.3z"/>
<path d="M177.9 212.2L185.6 209.9L182.2 209.4L174.4 211.7z"/>
<path d="M136.6 216.8L144.4 215.6L141.1 210.9L133.3 210.4z"/>
<path d="M147.7 217.8L155.5 215.5L152.1 213.7L144.4 215.6z"/>
<path d="M122.3 188.9L130.1 198.1L126.9 178.3L119.2 164.2z"/>
<path d="M116.0 139.5L123.7 154.4L120.6 132.2L112.8 122.0z"/>
<path d="M119.2 164.2L126.9 178.3L123.7 154.4L116.0 139.5z"/>
<path d="M189.1 210.4L196.8 208.2L193.3 207.7L185.6 209.9z"/>
<path d="M125.5 206.1L133.3 210.4L130.1 198.1L122.3 188.9z"/>
<path d="M158.9 216.4L166.7 214.0L163.3 213.2L155.5 215.5z"/>
<path d="M101.8 107.3L109.6 111.3L106.4 104.5L98.5 102.6z"/>
<path d="M90.7 101.8L98.5 102.6L95.3 100.2L87.4 101.6z"/>
<path d="M170.1 214.5L177.9 212.2L174.4 211.7L166.7 214.0z"/>
<path d="M139.9 219.7L147.7 217.8L144.4 215.6L136.6 216.8z"/>
<path d="M128.8 215.4L136.6 216.8L133.3 210.4L125.5 206.1z"/>
<path d="M181.3 212.6L189.1 210.4L185.6 209.9L177.9 212.2z"/>
<path d="M105.0 114.2L112.8 122.0L109.6 111.3L101.8 107.3z"/>
<path d="M151.1 218.7L158.9 216.4L155.5 215.5L147.7 217.8z"/>
<path d="M93.9 105.0L101.8 107.3L98.5 102.6L90.7 101.8z"/>
<path d="M162.3 216.8L170.1 214.5L166.7 214.0L158.9 216.4z"/>
<path d="M108.3 125.8L116.0 139.5L112.8 122.0L105.0 114.2z"/>
<path d="M117.8 196.4L125.5 206.1L122.3 188.9L114.6 172.0z"/>
<path d="M132.1 219.8L139.9 219.7L136.6 216.8L128.8 215.4z"/>
<path d="M114.6 172.0L122.3 188.9L119.2 164.2L111.5 145.4z"/>
<path d="M173.6 214.8L181.3 212.6L177.9 212.2L170.1 214.5z"/>
<path d="M111.5 145.4L119.2 164.2L116.0 139.5L108.3 125.8z"/>
<path d="M143.3 220.9L151.1 218.7L147.7 217.8L139.9 219.7z"/>
<path d="M121.0 210.6L128.8 215.4L125.5 206.1L117.8 196.4z"/>
<path d="M154.5 219.1L162.3 216.8L158.9 216.4L151.1 218.7z"/>
<path d="M97.2 109.6L105.0 114.2L101.8 107.3L93.9 105.0z"/>
<path d="M165.8 217.0L173.6 214.8L170.1 214.5L162.3 216.8z"/>
<path d="M124.3 217.8L132.1 219.8L128.8 215.4L121.0 210.6z"/>
<path d="M135.5 221.9L143.3 220.9L139.9 219.7L132.1 219.8z"/>
<path d="M100.4 116.4L108.3 125.8L105.0 114.2L97.2 109.6z"/>
<path d="M146.7 221.3L154.5 219.1L151.1 218.7L143.3 220.9z"/>
<path d="M158.0 219.2L165.8 217.0L162.3 216.8L154.5 219.1z"/>
<path d="M110.0 179.1L117.8 196.4L114.6 172.0L106.8 151.2z"/>
<path d="M113.2 200.2L121.0 210.6L117.8 196.4L110.0 179.1z"/>
<path d="M103.7 128.9L111.5 145.4L108.3 125.8L100.4 116.4z"/>
<path d="M106.8 151.2L114.6 172.0L111.5 145.4L103.7 128.9z"/>
<path d="M127.6 221.6L135.5 221.9L132.1 219.8L124.3 217.8z"/>
<path d="M138.8 223.0L146.7 221.3L143.3 220.9L135.5 221.9z"/>
<path d="M116.4 212.1L124.3 217.8L121.0 210.6L113.2 200.2z"/>
<path d="M150.1 221.5L158.0 219.2L154.5 219.1L146.7 221.3z"/>
<path d="M131.0 224.0L138.8 223.0L135.5 221.9L127.6 221.6z"/>
<path d="M119.7 219.0L127.6 221.6L124.3 217.8L116.4 212.1z"/>
<path d="M142.2 223.7L150.1 221.5L146.7 221.3L138.8 223.0z"/>
<path d="M123.1 223.9L131.0 224.0L127.6 221.6L119.7 219.0z"/>
<path d="M134.3 226.0L142.2 223.7L138.8 223.0L131.0 224.0z"/>
<path d="M126.4 228.3L134.3 226.0L131.0 224.0L123.1 223.9z"/></g>
<g><path class="ax" d="M49.32 499.53L49.28 378.48"/>
<path class="ax2" d="M49.02 499.53L124.61 586.15L319.59 521.14"/>
<path class="tk" d="M49.3 477.8h-2.5M49.3 439.5h-2.5M49.3 400.9h-2.5M131.0 584.0l0.8 2M175.6 569.2l0.8 2M219.3 554.6l0.8 2M262.3 540.2l0.8 2M304.5 526.2l0.8 2M113.0 572.8l-2 0.6M96.6 554.0l-2 0.6M80.5 535.6l-2 0.6M64.8 517.6l-2 0.6M49.4 499.9l-2 0.6"/>
<text x="11.3" y="334.8" font-size="23">b)</text>
<text transform="translate(33.0 478.2) rotate(-90.0)" font-size="11.1" text-anchor="middle" dominant-baseline="central">0.120</text>
<text transform="translate(33.0 439.9) rotate(-90.0)" font-size="11.1" text-anchor="middle" dominant-baseline="central">0.240</text>
<text transform="translate(33.0 401.3) rotate(-90.0)" font-size="11.1" text-anchor="middle" dominant-baseline="central">0.360</text>
<text transform="translate(139.9 597.4) rotate(-18.4)" font-size="11.9" text-anchor="middle" dominant-baseline="central">16</text>
<text transform="translate(184.5 582.5) rotate(-18.4)" font-size="11.9" text-anchor="middle" dominant-baseline="central">24</text>
<text transform="translate(228.2 567.9) rotate(-18.4)" font-size="11.9" text-anchor="middle" dominant-baseline="central">32</text>
<text transform="translate(271.2 553.6) rotate(-18.4)" font-size="11.9" text-anchor="middle" dominant-baseline="central">40</text>
<text transform="translate(311.4 540.0) rotate(-18.4)" font-size="11.9" text-anchor="middle" dominant-baseline="central">48</text>
<text transform="translate(96.7 578.7) rotate(48.9)" font-size="11.9" text-anchor="middle" dominant-baseline="central">150</text>
<text transform="translate(82.3 562.7) rotate(48.9)" font-size="11.9" text-anchor="middle" dominant-baseline="central">165</text>
<text transform="translate(67.5 547.8) rotate(48.9)" font-size="11.9" text-anchor="middle" dominant-baseline="central">180</text>
<text transform="translate(51.8 528.2) rotate(48.9)" font-size="11.9" text-anchor="middle" dominant-baseline="central">195</text>
<text transform="translate(36.7 509.9) rotate(48.9)" font-size="11.9" text-anchor="middle" dominant-baseline="central">210</text>
<text transform="translate(8.0 440.9) rotate(-90.0)" font-size="14.1" font-weight="bold" text-anchor="middle" dominant-baseline="central">Predictive value</text>
<text transform="translate(41.8 545.4) rotate(48.9)" font-size="14.1" font-weight="bold" text-anchor="middle" dominant-baseline="central">Total Length</text>
<text transform="translate(231.2 588.1) rotate(-18.4)" font-size="14.6" font-weight="bold" text-anchor="middle" dominant-baseline="central">Number of tufts</text></g>
<g class="m"><path d="M236.1 362.9L243.3 358.6L240.2 343.4L233.0 351.7z"/>
<path d="M239.2 376.7L246.2 377.8L243.3 358.6L236.1 362.9z"/>
<path d="M242.2 393.1L249.1 399.2L246.2 377.8L239.2 376.7z"/>
<path d="M245.2 410.7L252.1 419.3L249.1 399.2L242.2 393.1z"/>
<path d="M229.1 363.9L236.1 362.9L233.0 351.7L225.9 355.0z"/>
<path d="M248.2 428.4L255.1 435.9L252.1 419.3L245.2 410.7z"/>
<path d="M251.3 442.8L258.2 448.2L255.1 435.9L248.2 428.4z"/>
<path d="M232.2 374.6L239.2 376.7L236.1 362.9L229.1 363.9z"/>
<path d="M222.0 364.4L229.1 363.9L225.9 355.0L218.8 357.0z"/>
<path d="M254.4 453.7L261.4 457.0L258.2 448.2L251.3 442.8z"/>
<path d="M235.3 387.7L242.2 393.1L239.2 376.7L232.2 374.6z"/>
<path d="M238.3 402.9L245.2 410.7L242.2 393.1L235.3 387.7z"/>
<path d="M241.3 420.8L248.2 428.4L245.2 410.7L238.3 402.9z"/>
<path d="M225.1 372.9L232.2 374.6L229.1 363.9L222.0 364.4z"/>
<path d="M257.7 461.7L264.6 463.5L261.4 457.0L254.4 453.7z"/>
<path d="M244.4 436.6L251.3 442.8L248.2 428.4L241.3 420.8z"/>
<path d="M214.9 364.3L222.0 364.4L218.8 357.0L211.7 357.9z"/>
<path d="M228.3 383.5L235.3 387.7L232.2 374.6L225.1 372.9z"/>
<path d="M247.5 449.2L254.4 453.7L251.3 442.8L244.4 436.6z"/>
<path d="M260.9 467.9L267.9 468.6L264.6 463.5L257.7 461.7z"/>
<path d="M218.1 371.3L225.1 372.9L222.0 364.4L214.9 364.3z"/>
<path d="M231.4 396.3L238.3 402.9L235.3 387.7L228.3 383.5z"/>
<path d="M207.7 364.3L214.9 364.3L211.7 357.9L204.6 358.7z"/>
<path d="M250.7 459.0L257.7 461.7L254.4 453.7L247.5 449.2z"/>
<path d="M234.4 413.6L241.3 420.8L238.3 402.9L231.4 396.3z"/>
<path d="M237.4 430.1L244.4 436.6L241.3 420.8L234.4 413.6z"/>
<path d="M221.2 380.0L228.3 383.5L225.1 372.9L218.1 371.3z"/>
<path d="M264.2 472.9L271.3 472.9L267.9 468.6L260.9 467.9z"/>
<path d="M240.5 444.1L247.5 449.2L244.4 436.6L237.4 430.1z"/>
<path d="M210.9 370.2L218.1 371.3L214.9 364.3L207.7 364.3z"/>
<path d="M253.9 466.4L260.9 467.9L257.7 461.7L250.7 459.0z"/>
<path d="M200.6 364.5L207.7 364.3L204.6 358.7L197.4 359.6z"/>
<path d="M224.4 390.9L231.4 396.3L228.3 383.5L221.2 380.0z"/>
<path d="M243.7 455.4L250.7 459.0L247.5 449.2L240.5 444.1z"/>
<path d="M227.4 407.2L234.4 413.6L231.4 396.3L224.4 390.9z"/>
<path d="M214.1 377.3L221.2 380.0L218.1 371.3L210.9 370.2z"/>
<path d="M267.6 477.1L274.6 476.8L271.3 472.9L264.2 472.9z"/>
<path d="M257.2 472.3L264.2 472.9L260.9 467.9L253.9 466.4z"/>
<path d="M230.4 423.6L237.4 430.1L234.4 413.6L227.4 407.2z"/>
<path d="M203.8 369.5L210.9 370.2L207.7 364.3L200.6 364.5z"/>
<path d="M193.4 365.0L200.6 364.5L197.4 359.6L190.2 360.6z"/>
<path d="M246.9 464.2L253.9 466.4L250.7 459.0L243.7 455.4z"/>
<path d="M233.5 438.6L240.5 444.1L237.4 430.1L230.4 423.6z"/>
<path d="M217.3 386.4L224.4 390.9L221.2 380.0L214.1 377.3z"/>
<path d="M236.6 451.2L243.7 455.4L240.5 444.1L233.5 438.6z"/>
<path d="M260.5 477.2L267.6 477.1L264.2 472.9L257.2 472.3z"/>
<path d="M207.0 375.3L214.1 377.3L210.9 370.2L203.8 369.5z"/>
<path d="M271.0 480.0L278.1 478.5L274.6 476.8L267.6 477.1z"/>
<path d="M186.2 365.8L193.4 365.0L190.2 360.6L183.0 361.8z"/>
<path d="M250.1 471.1L257.2 472.3L253.9 466.4L246.9 464.2z"/>
<path d="M196.6 369.1L203.8 369.5L200.6 364.5L193.4 365.0z"/>
<path d="M220.4 401.5L227.4 407.2L224.4 390.9L217.3 386.4z"/>
<path d="M223.4 417.6L230.4 423.6L227.4 407.2L220.4 401.5z"/>
<path d="M239.8 461.4L246.9 464.2L243.7 455.4L236.6 451.2z"/>
<path d="M226.5 433.0L233.5 438.6L230.4 423.6L223.4 417.6z"/>
<path d="M210.2 382.8L217.3 386.4L214.1 377.3L207.0 375.3z"/>
<path d="M178.9 366.8L186.2 365.8L183.0 361.8L175.7 363.2z"/>
<path d="M263.9 481.2L271.0 480.0L267.6 477.1L260.5 477.2z"/>
<path d="M253.4 476.8L260.5 477.2L257.2 472.3L250.1 471.1z"/>
<path d="M199.8 373.8L207.0 375.3L203.8 369.5L196.6 369.1z"/>
<path d="M189.4 369.2L196.6 369.1L193.4 365.0L186.2 365.8z"/>
<path d="M229.6 446.6L236.6 451.2L233.5 438.6L226.5 433.0z"/>
<path d="M274.4 481.2L281.5 479.6L278.1 478.5L271.0 480.0z"/>
<path d="M243.1 469.4L250.1 471.1L246.9 464.2L239.8 461.4z"/>
<path d="M213.3 396.6L220.4 401.5L217.3 386.4L210.2 382.8z"/>
<path d="M232.8 458.0L239.8 461.4L236.6 451.2L229.6 446.6z"/>
<path d="M216.4 412.0L223.4 417.6L220.4 401.5L213.3 396.6z"/>
<path d="M171.7 368.0L178.9 366.8L175.7 363.2L168.5 364.7z"/>
<path d="M203.0 379.9L210.2 382.8L207.0 375.3L199.8 373.8z"/>
<path d="M256.8 481.5L263.9 481.2L260.5 477.2L253.4 476.8z"/>
<path d="M182.2 369.7L189.4 369.2L186.2 365.8L178.9 366.8z"/>
<path d="M246.3 475.9L253.4 476.8L250.1 471.1L243.1 469.4z"/>
<path d="M219.4 427.4L226.5 433.0L223.4 417.6L216.4 412.0z"/>
<path d="M192.6 372.9L199.8 373.8L196.6 369.1L189.4 369.2z"/>
<path d="M267.3 482.7L274.4 481.2L271.0 480.0L263.9 481.2z"/>
<path d="M236.0 467.3L243.1 469.4L239.8 461.4L232.8 458.0z"/>
<path d="M277.9 482.4L285.0 480.6L281.5 479.6L274.4 481.2z"/>
<path d="M222.5 441.8L229.6 446.6L226.5 433.0L219.4 427.4z"/>
<path d="M206.2 392.4L213.3 396.6L210.2 382.8L203.0 379.9z"/>
<path d="M164.4 369.6L171.7 368.0L168.5 364.7L161.2 366.4z"/>
<path d="M225.7 454.3L232.8 458.0L229.6 446.6L222.5 441.8z"/>
<path d="M174.9 370.5L182.2 369.7L178.9 366.8L171.7 368.0z"/>
<path d="M249.6 481.3L256.8 481.5L253.4 476.8L246.3 475.9z"/>
<path d="M209.2 406.9L216.4 412.0L213.3 396.6L206.2 392.4z"/>
<path d="M260.1 484.1L267.3 482.7L263.9 481.2L256.8 481.5z"/>
<path d="M195.9 377.7L203.0 379.9L199.8 373.8L192.6 372.9z"/>
<path d="M185.4 372.6L192.6 372.9L189.4 369.2L182.2 369.7z"/>
<path d="M239.2 474.7L246.3 475.9L243.1 469.4L236.0 467.3z"/>
<path d="M270.7 484.0L277.9 482.4L274.4 481.2L267.3 482.7z"/>
<path d="M212.3 422.1L219.4 427.4L216.4 412.0L209.2 406.9z"/>
<path d="M228.8 464.7L236.0 467.3L232.8 458.0L225.7 454.3z"/>
<path d="M281.3 483.4L288.4 481.6L285.0 480.6L277.9 482.4z"/>
<path d="M157.1 371.2L164.4 369.6L161.2 366.4L153.9 368.1z"/>
<path d="M215.4 436.9L222.5 441.8L219.4 427.4L212.3 422.1z"/>
<path d="M199.0 388.9L206.2 392.4L203.0 379.9L195.9 377.7z"/>
<path d="M167.6 372.0L174.9 370.5L171.7 368.0L164.4 369.6z"/>
<path d="M253.0 485.1L260.1 484.1L256.8 481.5L249.6 481.3z"/>
<path d="M242.5 480.8L249.6 481.3L246.3 475.9L239.2 474.7z"/>
<path d="M178.1 372.7L185.4 372.6L182.2 369.7L174.9 370.5z"/>
<path d="M188.6 376.2L195.9 377.7L192.6 372.9L185.4 372.6z"/>
<path d="M218.5 450.3L225.7 454.3L222.5 441.8L215.4 436.9z"/>
<path d="M263.6 485.6L270.7 484.0L267.3 482.7L260.1 484.1z"/>
<path d="M232.1 473.2L239.2 474.7L236.0 467.3L228.8 464.7z"/>
<path d="M202.1 402.3L209.2 406.9L206.2 392.4L199.0 388.9z"/>
<path d="M274.2 485.2L281.3 483.4L277.9 482.4L270.7 484.0z"/>
<path d="M149.7 372.9L157.1 371.2L153.9 368.1L146.5 369.8z"/>
<path d="M205.2 417.0L212.3 422.1L209.2 406.9L202.1 402.3z"/>
<path d="M221.7 461.8L228.8 464.7L225.7 454.3L218.5 450.3z"/>
<path d="M160.3 373.6L167.6 372.0L164.4 369.6L157.1 371.2z"/>
<path d="M284.8 484.5L291.9 482.6L288.4 481.6L281.3 483.4z"/>
<path d="M191.8 386.2L199.0 388.9L195.9 377.7L188.6 376.2z"/>
<path d="M245.8 486.0L253.0 485.1L249.6 481.3L242.5 480.8z"/>
<path d="M170.8 374.2L178.1 372.7L174.9 370.5L167.6 372.0z"/>
<path d="M208.3 431.9L215.4 436.9L212.3 422.1L205.2 417.0z"/>
<path d="M235.3 480.1L242.5 480.8L239.2 474.7L232.1 473.2z"/>
<path d="M256.4 487.0L263.6 485.6L260.1 484.1L253.0 485.1z"/>
<path d="M181.4 375.4L188.6 376.2L185.4 372.6L178.1 372.7z"/>
<path d="M267.0 486.9L274.2 485.2L270.7 484.0L263.6 485.6z"/>
<path d="M224.9 471.3L232.1 473.2L228.8 464.7L221.7 461.8z"/>
<path d="M211.4 446.0L218.5 450.3L215.4 436.9L208.3 431.9z"/>
<path d="M142.3 374.6L149.7 372.9L146.5 369.8L139.2 371.7z"/>
<path d="M194.9 398.4L202.1 402.3L199.0 388.9L191.8 386.2z"/>
<path d="M152.9 375.1L160.3 373.6L157.1 371.2L149.7 372.9z"/>
<path d="M277.7 486.3L284.8 484.5L281.3 483.4L274.2 485.2z"/>
<path d="M163.5 375.6L170.8 374.2L167.6 372.0L160.3 373.6z"/>
<path d="M198.0 412.2L205.2 417.0L202.1 402.3L194.9 398.4z"/>
<path d="M214.5 458.4L221.7 461.8L218.5 450.3L211.4 446.0z"/>
<path d="M238.6 485.8L245.8 486.0L242.5 480.8L235.3 480.1z"/>
<path d="M288.3 485.5L295.5 483.5L291.9 482.6L284.8 484.5z"/>
<path d="M184.5 384.2L191.8 386.2L188.6 376.2L181.4 375.4z"/>
<path d="M249.2 488.2L256.4 487.0L253.0 485.1L245.8 486.0z"/>
<path d="M174.0 376.7L181.4 375.4L178.1 372.7L170.8 374.2z"/>
<path d="M228.1 479.0L235.3 480.1L232.1 473.2L224.9 471.3z"/>
<path d="M259.8 488.5L267.0 486.9L263.6 485.6L256.4 487.0z"/>
<path d="M201.1 426.9L208.3 431.9L205.2 417.0L198.0 412.2z"/>
<path d="M134.9 376.4L142.3 374.6L139.2 371.7L131.8 373.5z"/>
<path d="M217.7 468.9L224.9 471.3L221.7 461.8L214.5 458.4z"/>
<path d="M145.5 376.8L152.9 375.1L149.7 372.9L142.3 374.6z"/>
<path d="M270.5 488.1L277.7 486.3L274.2 485.2L267.0 486.9z"/>
<path d="M187.7 395.2L194.9 398.4L191.8 386.2L184.5 384.2z"/>
<path d="M204.2 441.3L211.4 446.0L208.3 431.9L201.1 426.9z"/>
<path d="M156.1 376.9L163.5 375.6L160.3 373.6L152.9 375.1z"/>
<path d="M281.1 487.4L288.3 485.5L284.8 484.5L277.7 486.3z"/>
<path d="M166.7 377.8L174.0 376.7L170.8 374.2L163.5 375.6z"/>
<path d="M242.0 489.3L249.2 488.2L245.8 486.0L238.6 485.8z"/>
<path d="M231.4 485.4L238.6 485.8L235.3 480.1L228.1 479.0z"/>
<path d="M177.2 382.7L184.5 384.2L181.4 375.4L174.0 376.7z"/>
<path d="M190.8 408.0L198.0 412.2L194.9 398.4L187.7 395.2z"/>
<path d="M207.3 454.6L214.5 458.4L211.4 446.0L204.2 441.3z"/>
<path d="M252.6 490.0L259.8 488.5L256.4 487.0L249.2 488.2z"/>
<path d="M291.8 486.5L299.0 484.5L295.5 483.5L288.3 485.5z"/>
<path d="M127.5 378.3L134.9 376.4L131.8 373.5L124.4 375.4z"/>
<path d="M220.9 477.6L228.1 479.0L224.9 471.3L217.7 468.9z"/>
<path d="M138.1 378.5L145.5 376.8L142.3 374.6L134.9 376.4z"/>
<path d="M263.3 489.9L270.5 488.1L267.0 486.9L259.8 488.5z"/>
<path d="M193.9 422.1L201.1 426.9L198.0 412.2L190.8 408.0z"/>
<path d="M148.7 378.4L156.1 376.9L152.9 375.1L145.5 376.8z"/>
<path d="M210.5 466.1L217.7 468.9L214.5 458.4L207.3 454.6z"/>
<path d="M180.4 392.6L187.7 395.2L184.5 384.2L177.2 382.7z"/>
<path d="M274.0 489.3L281.1 487.4L277.7 486.3L270.5 488.1z"/>
<path d="M159.3 378.7L166.7 377.8L163.5 375.6L156.1 376.9z"/>
<path d="M234.8 490.2L242.0 489.3L238.6 485.8L231.4 485.4z"/>
<path d="M197.0 436.5L204.2 441.3L201.1 426.9L193.9 422.1z"/>
<path d="M169.9 381.3L177.2 382.7L174.0 376.7L166.7 377.8z"/>
<path d="M224.2 484.7L231.4 485.4L228.1 479.0L220.9 477.6z"/>
<path d="M120.1 380.2L127.5 378.3L124.4 375.4L117.0 377.3z"/>
<path d="M284.6 488.4L291.8 486.5L288.3 485.5L281.1 487.4z"/>
<path d="M245.4 491.4L252.6 490.0L249.2 488.2L242.0 489.3z"/>
<path d="M130.7 380.4L138.1 378.5L134.9 376.4L127.5 378.3z"/>
<path d="M183.5 404.3L190.8 408.0L187.7 395.2L180.4 392.6z"/>
<path d="M256.1 491.5L263.3 489.9L259.8 488.5L252.6 490.0z"/>
<path d="M213.7 475.7L220.9 477.6L217.7 468.9L210.5 466.1z"/>
<path d="M295.4 487.5L302.5 485.5L299.0 484.5L291.8 486.5z"/>
<path d="M200.1 450.3L207.3 454.6L204.2 441.3L197.0 436.5z"/>
<path d="M141.3 380.1L148.7 378.4L145.5 376.8L138.1 378.5z"/>
<path d="M266.7 491.1L274.0 489.3L270.5 488.1L263.3 489.9z"/>
<path d="M151.9 379.9L159.3 378.7L156.1 376.9L148.7 378.4z"/>
<path d="M186.7 417.6L193.9 422.1L190.8 408.0L183.5 404.3z"/>
<path d="M173.1 390.2L180.4 392.6L177.2 382.7L169.9 381.3z"/>
<path d="M203.3 462.7L210.5 466.1L207.3 454.6L200.1 450.3z"/>
<path d="M112.6 382.2L120.1 380.2L117.0 377.3L109.5 379.3z"/>
<path d="M277.4 490.3L284.6 488.4L281.1 487.4L274.0 489.3z"/>
<path d="M227.5 490.7L234.8 490.2L231.4 485.4L224.2 484.7z"/>
<path d="M162.6 381.0L169.9 381.3L166.7 377.8L159.3 378.7z"/>
<path d="M238.1 492.7L245.4 491.4L242.0 489.3L234.8 490.2z"/>
<path d="M217.0 483.7L224.2 484.7L220.9 477.6L213.7 475.7z"/>
<path d="M123.2 382.4L130.7 380.4L127.5 378.3L120.1 380.2z"/>
<path d="M189.8 431.7L197.0 436.5L193.9 422.1L186.7 417.6z"/>
<path d="M248.8 493.1L256.1 491.5L252.6 490.0L245.4 491.4z"/>
<path d="M288.2 489.4L295.4 487.5L291.8 486.5L284.6 488.4z"/>
<path d="M133.9 382.1L141.3 380.1L138.1 378.5L130.7 380.4z"/>
<path d="M176.2 400.8L183.5 404.3L180.4 392.6L173.1 390.2z"/>
<path d="M206.5 473.4L213.7 475.7L210.5 466.1L203.3 462.7z"/>
<path d="M259.5 492.9L266.7 491.1L263.3 489.9L256.1 491.5z"/>
<path d="M298.9 488.5L306.1 486.4L302.5 485.5L295.4 487.5z"/>
<path d="M192.9 445.8L200.1 450.3L197.0 436.5L189.8 431.7z"/>
<path d="M144.5 381.5L151.9 379.9L148.7 378.4L141.3 380.1z"/>
<path d="M105.1 384.2L112.6 382.2L109.5 379.3L102.0 381.2z"/>
<path d="M270.2 492.2L277.4 490.3L274.0 489.3L266.7 491.1z"/>
<path d="M165.7 387.9L173.1 390.2L169.9 381.3L162.6 381.0z"/>
<path d="M155.2 381.7L162.6 381.0L159.3 378.7L151.9 379.9z"/>
<path d="M220.2 490.3L227.5 490.7L224.2 484.7L217.0 483.7z"/>
<path d="M230.9 493.7L238.1 492.7L234.8 490.2L227.5 490.7z"/>
<path d="M115.8 384.5L123.2 382.4L120.1 380.2L112.6 382.2z"/>
<path d="M179.4 413.2L186.7 417.6L183.5 404.3L176.2 400.8z"/>
<path d="M196.0 459.0L203.3 462.7L200.1 450.3L192.9 445.8z"/>
<path d="M281.0 491.4L288.2 489.4L284.6 488.4L277.4 490.3z"/>
<path d="M241.5 494.6L248.8 493.1L245.4 491.4L238.1 492.7z"/>
<path d="M209.7 482.2L217.0 483.7L213.7 475.7L206.5 473.4z"/>
<path d="M126.4 384.2L133.9 382.1L130.7 380.4L123.2 382.4z"/>
<path d="M252.3 494.6L259.5 492.9L256.1 491.5L248.8 493.1z"/>
<path d="M291.7 490.5L298.9 488.5L295.4 487.5L288.2 489.4z"/>
<path d="M182.5 426.8L189.8 431.7L186.7 417.6L179.4 413.2z"/>
<path d="M137.1 383.4L144.5 381.5L141.3 380.1L133.9 382.1z"/>
<path d="M168.9 397.6L176.2 400.8L173.1 390.2L165.7 387.9z"/>
<path d="M97.6 386.2L105.1 384.2L102.0 381.2L94.5 383.2z"/>
<path d="M199.2 470.5L206.5 473.4L203.3 462.7L196.0 459.0z"/>
<path d="M263.0 494.1L270.2 492.2L266.7 491.1L259.5 492.9z"/>
<path d="M302.5 489.5L309.7 487.4L306.1 486.4L298.9 488.5z"/>
<path d="M147.7 382.9L155.2 381.7L151.9 379.9L144.5 381.5z"/>
<path d="M108.3 386.6L115.8 384.5L112.6 382.2L105.1 384.2z"/>
<path d="M185.6 441.0L192.9 445.8L189.8 431.7L182.5 426.8z"/>
<path d="M223.6 494.6L230.9 493.7L227.5 490.7L220.2 490.3z"/>
<path d="M158.4 386.0L165.7 387.9L162.6 381.0L155.2 381.7z"/>
<path d="M213.0 489.6L220.2 490.3L217.0 483.7L209.7 482.2z"/>
<path d="M273.7 493.4L281.0 491.4L277.4 490.3L270.2 492.2z"/>
<path d="M234.3 496.0L241.5 494.6L238.1 492.7L230.9 493.7z"/>
<path d="M118.9 386.4L126.4 384.2L123.2 382.4L115.8 384.5z"/>
<path d="M172.1 409.0L179.4 413.2L176.2 400.8L168.9 397.6z"/>
<path d="M245.0 496.3L252.3 494.6L248.8 493.1L241.5 494.6z"/>
<path d="M202.4 480.3L209.7 482.2L206.5 473.4L199.2 470.5z"/>
<path d="M284.5 492.5L291.7 490.5L288.2 489.4L281.0 491.4z"/>
<path d="M188.8 454.6L196.0 459.0L192.9 445.8L185.6 441.0z"/>
<path d="M129.6 385.6L137.1 383.4L133.9 382.1L126.4 384.2z"/>
<path d="M90.1 388.2L97.6 386.2L94.5 383.2L87.0 385.2z"/>
<path d="M255.7 496.0L263.0 494.1L259.5 492.9L252.3 494.6z"/>
<path d="M295.3 491.5L302.5 489.5L298.9 488.5L291.7 490.5z"/>
<path d="M140.3 384.7L147.7 382.9L144.5 381.5L137.1 383.4z"/>
<path d="M100.7 388.7L108.3 386.6L105.1 384.2L97.6 386.2z"/>
<path d="M175.2 421.9L182.5 426.8L179.4 413.2L172.1 409.0z"/>
<path d="M161.5 394.7L168.9 397.6L165.7 387.9L158.4 386.0z"/>
<path d="M191.9 467.1L199.2 470.5L196.0 459.0L188.8 454.6z"/>
<path d="M266.5 495.3L273.7 493.4L270.2 492.2L263.0 494.1z"/>
<path d="M216.3 495.2L223.6 494.6L220.2 490.3L213.0 489.6z"/>
<path d="M151.0 384.8L158.4 386.0L155.2 381.7L147.7 382.9z"/>
<path d="M306.1 490.5L313.3 488.4L309.7 487.4L302.5 489.5z"/>
<path d="M111.4 388.7L118.9 386.4L115.8 384.5L108.3 386.6z"/>
<path d="M226.9 497.3L234.3 496.0L230.9 493.7L223.6 494.6z"/>
<path d="M205.7 488.5L213.0 489.6L209.7 482.2L202.4 480.3z"/>
<path d="M178.3 435.9L185.6 441.0L182.5 426.8L175.2 421.9z"/>
<path d="M277.2 494.5L284.5 492.5L281.0 491.4L273.7 493.4z"/>
<path d="M237.7 497.9L245.0 496.3L241.5 494.6L234.3 496.0z"/>
<path d="M122.1 388.1L129.6 385.6L126.4 384.2L118.9 386.4z"/>
<path d="M82.5 390.2L90.1 388.2L87.0 385.2L79.4 387.2z"/>
<path d="M164.7 405.2L172.1 409.0L168.9 397.6L161.5 394.7z"/>
<path d="M195.1 477.8L202.4 480.3L199.2 470.5L191.9 467.1z"/>
<path d="M248.4 497.8L255.7 496.0L252.3 494.6L245.0 496.3z"/>
<path d="M288.0 493.5L295.3 491.5L291.7 490.5L284.5 492.5z"/>
<path d="M132.8 387.0L140.3 384.7L137.1 383.4L129.6 385.6z"/>
<path d="M93.2 390.8L100.7 388.7L97.6 386.2L90.1 388.2z"/>
<path d="M181.4 449.9L188.8 454.6L185.6 441.0L178.3 435.9z"/>
<path d="M259.2 497.2L266.5 495.3L263.0 494.1L255.7 496.0z"/>
<path d="M298.8 492.5L306.1 490.5L302.5 489.5L295.3 491.5z"/>
<path d="M103.9 391.0L111.4 388.7L108.3 386.6L100.7 388.7z"/>
<path d="M154.1 392.7L161.5 394.7L158.4 386.0L151.0 384.8z"/>
<path d="M143.5 386.3L151.0 384.8L147.7 382.9L140.3 384.7z"/>
<path d="M208.9 495.3L216.3 495.2L213.0 489.6L205.7 488.5z"/>
<path d="M219.6 498.3L226.9 497.3L223.6 494.6L216.3 495.2z"/>
<path d="M167.8 417.3L175.2 421.9L172.1 409.0L164.7 405.2z"/>
<path d="M270.0 496.4L277.2 494.5L273.7 493.4L266.5 495.3z"/>
<path d="M184.6 463.1L191.9 467.1L188.8 454.6L181.4 449.9z"/>
<path d="M230.3 499.4L237.7 497.9L234.3 496.0L226.9 497.3z"/>
<path d="M114.6 390.6L122.1 388.1L118.9 386.4L111.4 388.7z"/>
<path d="M198.3 486.9L205.7 488.5L202.4 480.3L195.1 477.8z"/>
<path d="M309.6 491.5L316.9 489.4L313.3 488.4L306.1 490.5z"/>
<path d="M74.9 392.2L82.5 390.2L79.4 387.2L71.9 389.1z"/>
<path d="M241.1 499.5L248.4 497.8L245.0 496.3L237.7 497.9z"/>
<path d="M280.8 495.5L288.0 493.5L284.5 492.5L277.2 494.5z"/>
<path d="M125.3 389.6L132.8 387.0L129.6 385.6L122.1 388.1z"/>
<path d="M171.0 430.8L178.3 435.9L175.2 421.9L167.8 417.3z"/>
<path d="M85.6 392.8L93.2 390.8L90.1 388.2L82.5 390.2z"/>
<path d="M157.3 402.1L164.7 405.2L161.5 394.7L154.1 392.7z"/>
<path d="M187.8 474.8L195.1 477.8L191.9 467.1L184.6 463.1z"/>
<path d="M251.9 499.1L259.2 497.2L255.7 496.0L248.4 497.8z"/>
<path d="M96.3 393.1L103.9 391.0L100.7 388.7L93.2 390.8z"/>
<path d="M291.6 494.6L298.8 492.5L295.3 491.5L288.0 493.5z"/>
<path d="M136.0 388.6L143.5 386.3L140.3 384.7L132.8 387.0z"/>
<path d="M146.7 391.5L154.1 392.7L151.0 384.8L143.5 386.3z"/>
<path d="M212.3 499.2L219.6 498.3L216.3 495.2L208.9 495.3z"/>
<path d="M174.1 444.8L181.4 449.9L178.3 435.9L171.0 430.8z"/>
<path d="M262.7 498.4L270.0 496.4L266.5 495.3L259.2 497.2z"/>
<path d="M201.6 494.5L208.9 495.3L205.7 488.5L198.3 486.9z"/>
<path d="M107.0 393.0L114.6 390.6L111.4 388.7L103.9 391.0z"/>
<path d="M223.0 500.8L230.3 499.4L226.9 497.3L219.6 498.3z"/>
<path d="M302.4 493.5L309.6 491.5L306.1 490.5L298.8 492.5z"/>
<path d="M67.3 394.1L74.9 392.2L71.9 389.1L64.3 391.1z"/>
<path d="M160.5 413.3L167.8 417.3L164.7 405.2L157.3 402.1z"/>
<path d="M233.8 501.2L241.1 499.5L237.7 497.9L230.3 499.4z"/>
<path d="M117.7 392.3L125.3 389.6L122.1 388.1L114.6 390.6z"/>
<path d="M273.5 497.6L280.8 495.5L277.2 494.5L270.0 496.4z"/>
<path d="M191.0 484.8L198.3 486.9L195.1 477.8L187.8 474.8z"/>
<path d="M78.0 394.8L85.6 392.8L82.5 390.2L74.9 392.2z"/>
<path d="M177.3 458.6L184.6 463.1L181.4 449.9L174.1 444.8z"/>
<path d="M313.3 492.5L320.5 490.4L316.9 489.4L309.6 491.5z"/>
<path d="M244.6 501.0L251.9 499.1L248.4 497.8L241.1 499.5z"/>
<path d="M88.7 395.2L96.3 393.1L93.2 390.8L85.6 392.8z"/>
<path d="M284.3 496.6L291.6 494.6L288.0 493.5L280.8 495.5z"/>
<path d="M128.5 391.2L136.0 388.6L132.8 387.0L125.3 389.6z"/>
<path d="M149.9 400.0L157.3 402.1L154.1 392.7L146.7 391.5z"/>
<path d="M163.6 426.0L171.0 430.8L167.8 417.3L160.5 413.3z"/>
<path d="M99.4 395.2L107.0 393.0L103.9 391.0L96.3 393.1z"/>
<path d="M139.2 391.5L146.7 391.5L143.5 386.3L136.0 388.6z"/>
<path d="M255.4 500.4L262.7 498.4L259.2 497.2L251.9 499.1z"/>
<path d="M180.4 471.2L187.8 474.8L184.6 463.1L177.3 458.6z"/>
<path d="M204.9 499.8L212.3 499.2L208.9 495.3L201.6 494.5z"/>
<path d="M295.2 495.6L302.4 493.5L298.8 492.5L291.6 494.6z"/>
<path d="M215.6 502.0L223.0 500.8L219.6 498.3L212.3 499.2z"/>
<path d="M59.7 396.1L67.3 394.1L64.3 391.1L56.6 393.1z"/>
<path d="M194.2 493.2L201.6 494.5L198.3 486.9L191.0 484.8z"/>
<path d="M110.2 394.8L117.7 392.3L114.6 390.6L107.0 393.0z"/>
<path d="M266.2 499.6L273.5 497.6L270.0 496.4L262.7 498.4z"/>
<path d="M226.4 502.8L233.8 501.2L230.3 499.4L223.0 500.8z"/>
<path d="M166.7 439.9L174.1 444.8L171.0 430.8L163.6 426.0z"/>
<path d="M70.4 396.8L78.0 394.8L74.9 392.2L67.3 394.1z"/>
<path d="M306.0 494.6L313.3 492.5L309.6 491.5L302.4 493.5z"/>
<path d="M153.0 410.1L160.5 413.3L157.3 402.1L149.9 400.0z"/>
<path d="M120.9 394.0L128.5 391.2L125.3 389.6L117.7 392.3z"/>
<path d="M237.2 502.8L244.6 501.0L241.1 499.5L233.8 501.2z"/>
<path d="M81.1 397.2L88.7 395.2L85.6 392.8L78.0 394.8z"/>
<path d="M183.6 482.2L191.0 484.8L187.8 474.8L180.4 471.2z"/>
<path d="M277.0 498.7L284.3 496.6L280.8 495.5L273.5 497.6z"/>
<path d="M169.9 453.9L177.3 458.6L174.1 444.8L166.7 439.9z"/>
<path d="M91.8 397.3L99.4 395.2L96.3 393.1L88.7 395.2z"/>
<path d="M131.7 393.2L139.2 391.5L136.0 388.6L128.5 391.2z"/>
<path d="M248.0 502.3L255.4 500.4L251.9 499.1L244.6 501.0z"/>
<path d="M142.4 399.0L149.9 400.0L146.7 391.5L139.2 391.5z"/>
<path d="M287.9 497.7L295.2 495.6L291.6 494.6L284.3 496.6z"/>
<path d="M52.0 398.1L59.7 396.1L56.6 393.1L49.0 395.1z"/>
<path d="M197.5 500.0L204.9 499.8L201.6 494.5L194.2 493.2z"/>
<path d="M208.2 503.1L215.6 502.0L212.3 499.2L204.9 499.8z"/>
<path d="M156.2 422.0L163.6 426.0L160.5 413.3L153.0 410.1z"/>
<path d="M102.6 397.1L110.2 394.8L107.0 393.0L99.4 395.2z"/>
<path d="M258.9 501.6L266.2 499.6L262.7 498.4L255.4 500.4z"/>
<path d="M62.8 398.8L70.4 396.8L67.3 394.1L59.7 396.1z"/>
<path d="M219.0 504.3L226.4 502.8L223.0 500.8L215.6 502.0z"/>
<path d="M173.0 467.2L180.4 471.2L177.3 458.6L169.9 453.9z"/>
<path d="M298.8 496.7L306.0 494.6L302.4 493.5L295.2 495.6z"/>
<path d="M186.8 491.6L194.2 493.2L191.0 484.8L183.6 482.2z"/>
<path d="M113.3 396.6L120.9 394.0L117.7 392.3L110.2 394.8z"/>
<path d="M73.5 399.2L81.1 397.2L78.0 394.8L70.4 396.8z"/>
<path d="M229.8 504.6L237.2 502.8L233.8 501.2L226.4 502.8z"/>
<path d="M269.7 500.7L277.0 498.7L273.5 497.6L266.2 499.6z"/>
<path d="M159.3 435.3L166.7 439.9L163.6 426.0L156.2 422.0z"/>
<path d="M145.6 408.0L153.0 410.1L149.9 400.0L142.4 399.0z"/>
<path d="M84.2 399.3L91.8 397.3L88.7 395.2L81.1 397.2z"/>
<path d="M124.1 395.9L131.7 393.2L128.5 391.2L120.9 394.0z"/>
<path d="M240.7 504.2L248.0 502.3L244.6 501.0L237.2 502.8z"/>
<path d="M176.2 479.2L183.6 482.2L180.4 471.2L173.0 467.2z"/>
<path d="M280.6 499.8L287.9 497.7L284.3 496.6L277.0 498.7z"/>
<path d="M134.9 398.9L142.4 399.0L139.2 391.5L131.7 393.2z"/>
<path d="M95.0 399.2L102.6 397.1L99.4 395.2L91.8 397.3z"/>
<path d="M200.8 503.8L208.2 503.1L204.9 499.8L197.5 500.0z"/>
<path d="M162.5 449.3L169.9 453.9L166.7 439.9L159.3 435.3z"/>
<path d="M251.5 503.6L258.9 501.6L255.4 500.4L248.0 502.3z"/>
<path d="M190.1 499.4L197.5 500.0L194.2 493.2L186.8 491.6z"/>
<path d="M55.1 400.7L62.8 398.8L59.7 396.1L52.0 398.1z"/>
<path d="M291.5 498.8L298.8 496.7L295.2 495.6L287.9 497.7z"/>
<path d="M211.6 505.7L219.0 504.3L215.6 502.0L208.2 503.1z"/>
<path d="M105.8 399.0L113.3 396.6L110.2 394.8L102.6 397.1z"/>
<path d="M148.7 418.9L156.2 422.0L153.0 410.1L145.6 408.0z"/>
<path d="M65.8 401.1L73.5 399.2L70.4 396.8L62.8 398.8z"/>
<path d="M262.4 502.8L269.7 500.7L266.2 499.6L258.9 501.6z"/>
<path d="M222.4 506.2L229.8 504.6L226.4 502.8L219.0 504.3z"/>
<path d="M179.4 489.5L186.8 491.6L183.6 482.2L176.2 479.2z"/>
<path d="M165.6 463.2L173.0 467.2L169.9 453.9L162.5 449.3z"/>
<path d="M116.5 398.5L124.1 395.9L120.9 394.0L113.3 396.6z"/>
<path d="M76.6 401.3L84.2 399.3L81.1 397.2L73.5 399.2z"/>
<path d="M233.3 506.1L240.7 504.2L237.2 502.8L229.8 504.6z"/>
<path d="M138.0 406.9L145.6 408.0L142.4 399.0L134.9 398.9z"/>
<path d="M273.3 501.9L280.6 499.8L277.0 498.7L269.7 500.7z"/>
<path d="M127.3 399.6L134.9 398.9L131.7 393.2L124.1 395.9z"/>
<path d="M151.9 431.4L159.3 435.3L156.2 422.0L148.7 418.9z"/>
<path d="M87.4 401.2L95.0 399.2L91.8 397.3L84.2 399.3z"/>
<path d="M244.1 505.6L251.5 503.6L248.0 502.3L240.7 504.2z"/>
<path d="M168.8 476.0L176.2 479.2L173.0 467.2L165.6 463.2z"/>
<path d="M193.4 504.4L200.8 503.8L197.5 500.0L190.1 499.4z"/>
<path d="M284.2 500.9L291.5 498.8L287.9 497.7L280.6 499.8z"/>
<path d="M204.2 506.9L211.6 505.7L208.2 503.1L200.8 503.8z"/>
<path d="M98.1 401.0L105.8 399.0L102.6 397.1L95.0 399.2z"/>
<path d="M182.7 498.2L190.1 499.4L186.8 491.6L179.4 489.5z"/>
<path d="M58.2 403.0L65.8 401.1L62.8 398.8L55.1 400.7z"/>
<path d="M255.0 504.8L262.4 502.8L258.9 501.6L251.5 503.6z"/>
<path d="M155.0 445.1L162.5 449.3L159.3 435.3L151.9 431.4z"/>
<path d="M215.0 507.9L222.4 506.2L219.0 504.3L211.6 505.7z"/>
<path d="M141.2 416.6L148.7 418.9L145.6 408.0L138.0 406.9z"/>
<path d="M108.9 400.8L116.5 398.5L113.3 396.6L105.8 399.0z"/>
<path d="M68.9 403.2L76.6 401.3L73.5 399.2L65.8 401.1z"/>
<path d="M225.9 507.9L233.3 506.1L229.8 504.6L222.4 506.2z"/>
<path d="M265.9 504.0L273.3 501.9L269.7 500.7L262.4 502.8z"/>
<path d="M172.0 487.2L179.4 489.5L176.2 479.2L168.8 476.0z"/>
<path d="M119.7 400.9L127.3 399.6L124.1 395.9L116.5 398.5z"/>
<path d="M130.5 406.5L138.0 406.9L134.9 398.9L127.3 399.6z"/>
<path d="M79.7 403.1L87.4 401.2L84.2 399.3L76.6 401.3z"/>
<path d="M158.2 459.2L165.6 463.2L162.5 449.3L155.0 445.1z"/>
<path d="M236.7 507.5L244.1 505.6L240.7 504.2L233.3 506.1z"/>
<path d="M276.8 503.0L284.2 500.9L280.6 499.8L273.3 501.9z"/>
<path d="M90.5 402.9L98.1 401.0L95.0 399.2L87.4 401.2z"/>
<path d="M144.4 428.2L151.9 431.4L148.7 418.9L141.2 416.6z"/>
<path d="M185.9 504.6L193.4 504.4L190.1 499.4L182.7 498.2z"/>
<path d="M196.7 507.9L204.2 506.9L200.8 503.8L193.4 504.4z"/>
<path d="M247.6 506.9L255.0 504.8L251.5 503.6L244.1 505.6z"/>
<path d="M161.3 472.7L168.8 476.0L165.6 463.2L158.2 459.2z"/>
<path d="M207.6 509.3L215.0 507.9L211.6 505.7L204.2 506.9z"/>
<path d="M101.3 402.7L108.9 400.8L105.8 399.0L98.1 401.0z"/>
<path d="M175.2 496.8L182.7 498.2L179.4 489.5L172.0 487.2z"/>
<path d="M61.2 405.1L68.9 403.2L65.8 401.1L58.2 403.0z"/>
<path d="M133.7 415.1L141.2 416.6L138.0 406.9L130.5 406.5z"/>
<path d="M218.4 509.7L225.9 507.9L222.4 506.2L215.0 507.9z"/>
<path d="M258.5 506.0L265.9 504.0L262.4 502.8L255.0 504.8z"/>
<path d="M147.5 441.3L155.0 445.1L151.9 431.4L144.4 428.2z"/>
<path d="M112.1 402.9L119.7 400.9L116.5 398.5L108.9 400.8z"/>
<path d="M72.0 405.0L79.7 403.1L76.6 401.3L68.9 403.2z"/>
<path d="M122.9 406.7L130.5 406.5L127.3 399.6L119.7 400.9z"/>
<path d="M229.3 509.5L236.7 507.5L233.3 506.1L225.9 507.9z"/>
<path d="M164.5 484.9L172.0 487.2L168.8 476.0L161.3 472.7z"/>
<path d="M269.5 505.1L276.8 503.0L273.3 501.9L265.9 504.0z"/>
<path d="M82.8 404.7L90.5 402.9L87.4 401.2L79.7 403.1z"/>
<path d="M150.7 455.4L158.2 459.2L155.0 445.1L147.5 441.3z"/>
<path d="M189.3 508.7L196.7 507.9L193.4 504.4L185.9 504.6z"/>
<path d="M240.2 508.9L247.6 506.9L244.1 505.6L236.7 507.5z"/>
<path d="M178.5 504.6L185.9 504.6L182.7 498.2L175.2 496.8z"/>
<path d="M136.8 425.5L144.4 428.2L141.2 416.6L133.7 415.1z"/>
<path d="M93.7 404.5L101.3 402.7L98.1 401.0L90.5 402.9z"/>
<path d="M200.1 510.7L207.6 509.3L204.2 506.9L196.7 507.9z"/>
<path d="M251.1 508.1L258.5 506.0L255.0 504.8L247.6 506.9z"/>
<path d="M211.0 511.4L218.4 509.7L215.0 507.9L207.6 509.3z"/>
<path d="M167.7 495.3L175.2 496.8L172.0 487.2L164.5 484.9z"/>
<path d="M104.5 404.6L112.1 402.9L108.9 400.8L101.3 402.7z"/>
<path d="M153.8 469.4L161.3 472.7L158.2 459.2L150.7 455.4z"/>
<path d="M64.3 406.8L72.0 405.0L68.9 403.2L61.2 405.1z"/>
<path d="M126.1 414.1L133.7 415.1L130.5 406.5L122.9 406.7z"/>
<path d="M115.3 406.9L122.9 406.7L119.7 400.9L112.1 402.9z"/>
<path d="M221.9 511.4L229.3 509.5L225.9 507.9L218.4 509.7z"/>
<path d="M262.1 507.2L269.5 505.1L265.9 504.0L258.5 506.0z"/>
<path d="M140.0 437.7L147.5 441.3L144.4 428.2L136.8 425.5z"/>
<path d="M75.2 406.5L82.8 404.7L79.7 403.1L72.0 405.0z"/>
<path d="M232.8 510.9L240.2 508.9L236.7 507.5L229.3 509.5z"/>
<path d="M157.0 482.3L164.5 484.9L161.3 472.7L153.8 469.4z"/>
<path d="M181.8 509.3L189.3 508.7L185.9 504.6L178.5 504.6z"/>
<path d="M86.0 406.2L93.7 404.5L90.5 402.9L82.8 404.7z"/>
<path d="M192.6 511.9L200.1 510.7L196.7 507.9L189.3 508.7z"/>
<path d="M171.0 504.1L178.5 504.6L175.2 496.8L167.7 495.3z"/>
<path d="M143.2 451.5L150.7 455.4L147.5 441.3L140.0 437.7z"/>
<path d="M243.7 510.2L251.1 508.1L247.6 506.9L240.2 508.9z"/>
<path d="M129.3 423.2L136.8 425.5L133.7 415.1L126.1 414.1z"/>
<path d="M203.5 513.0L211.0 511.4L207.6 509.3L200.1 510.7z"/>
<path d="M96.8 406.1L104.5 404.6L101.3 402.7L93.7 404.5z"/>
<path d="M118.5 413.4L126.1 414.1L122.9 406.7L115.3 406.9z"/>
<path d="M160.2 493.7L167.7 495.3L164.5 484.9L157.0 482.3z"/>
<path d="M107.7 407.1L115.3 406.9L112.1 402.9L104.5 404.6z"/>
<path d="M214.4 513.2L221.9 511.4L218.4 509.7L211.0 511.4z"/>
<path d="M254.7 509.4L262.1 507.2L258.5 506.0L251.1 508.1z"/>
<path d="M146.3 465.7L153.8 469.4L150.7 455.4L143.2 451.5z"/>
<path d="M67.4 408.3L75.2 406.5L72.0 405.0L64.3 406.8z"/>
<path d="M225.3 512.9L232.8 510.9L229.3 509.5L221.9 511.4z"/>
<path d="M132.5 434.4L140.0 437.7L136.8 425.5L129.3 423.2z"/>
<path d="M78.3 407.9L86.0 406.2L82.8 404.7L75.2 406.5z"/>
<path d="M174.3 510.0L181.8 509.3L178.5 504.6L171.0 504.1z"/>
<path d="M185.1 513.0L192.6 511.9L189.3 508.7L181.8 509.3z"/>
<path d="M149.5 479.5L157.0 482.3L153.8 469.4L146.3 465.7z"/>
<path d="M236.3 512.3L243.7 510.2L240.2 508.9L232.8 510.9z"/>
<path d="M163.4 503.3L171.0 504.1L167.7 495.3L160.2 493.7z"/>
<path d="M196.0 514.5L203.5 513.0L200.1 510.7L192.6 511.9z"/>
<path d="M89.1 407.6L96.8 406.1L93.7 404.5L86.0 406.2z"/>
<path d="M121.7 421.3L129.3 423.2L126.1 414.1L118.5 413.4z"/>
<path d="M135.6 447.4L143.2 451.5L140.0 437.7L132.5 434.4z"/>
<path d="M247.2 511.5L254.7 509.4L251.1 508.1L243.7 510.2z"/>
<path d="M206.9 515.0L214.4 513.2L211.0 511.4L203.5 513.0z"/>
<path d="M100.0 407.9L107.7 407.1L104.5 404.6L96.8 406.1z"/>
<path d="M110.9 412.8L118.5 413.4L115.3 406.9L107.7 407.1z"/>
<path d="M152.7 491.8L160.2 493.7L157.0 482.3L149.5 479.5z"/>
<path d="M217.9 514.9L225.3 512.9L221.9 511.4L214.4 513.2z"/>
<path d="M70.6 409.5L78.3 407.9L75.2 406.5L67.4 408.3z"/>
<path d="M138.8 461.7L146.3 465.7L143.2 451.5L135.6 447.4z"/>
<path d="M177.6 514.2L185.1 513.0L181.8 509.3L174.3 510.0z"/>
<path d="M166.7 510.6L174.3 510.0L171.0 504.1L163.4 503.3z"/>
<path d="M228.8 514.3L236.3 512.3L232.8 510.9L225.3 512.9z"/>
<path d="M124.9 431.2L132.5 434.4L129.3 423.2L121.7 421.3z"/>
<path d="M81.4 409.1L89.1 407.6L86.0 406.2L78.3 407.9z"/>
<path d="M188.5 516.0L196.0 514.5L192.6 511.9L185.1 513.0z"/>
<path d="M155.9 502.3L163.4 503.3L160.2 493.7L152.7 491.8z"/>
<path d="M239.8 513.6L247.2 511.5L243.7 510.2L236.3 512.3z"/>
<path d="M141.9 476.0L149.5 479.5L146.3 465.7L138.8 461.7z"/>
<path d="M199.4 516.7L206.9 515.0L203.5 513.0L196.0 514.5z"/>
<path d="M92.3 409.0L100.0 407.9L96.8 406.1L89.1 407.6z"/>
<path d="M114.0 419.6L121.7 421.3L118.5 413.4L110.9 412.8z"/>
<path d="M103.2 412.3L110.9 412.8L107.7 407.1L100.0 407.9z"/>
<path d="M210.3 516.8L217.9 514.9L214.4 513.2L206.9 515.0z"/>
<path d="M128.0 443.3L135.6 447.4L132.5 434.4L124.9 431.2z"/>
<path d="M145.1 489.3L152.7 491.8L149.5 479.5L141.9 476.0z"/>
<path d="M221.3 516.4L228.8 514.3L225.3 512.9L217.9 514.9z"/>
<path d="M170.0 515.3L177.6 514.2L174.3 510.0L166.7 510.6z"/>
<path d="M73.7 410.6L81.4 409.1L78.3 407.9L70.6 409.5z"/>
<path d="M159.1 511.0L166.7 510.6L163.4 503.3L155.9 502.3z"/>
<path d="M180.9 517.5L188.5 516.0L185.1 513.0L177.6 514.2z"/>
<path d="M131.2 457.1L138.8 461.7L135.6 447.4L128.0 443.3z"/>
<path d="M117.2 428.3L124.9 431.2L121.7 421.3L114.0 419.6z"/>
<path d="M232.3 515.7L239.8 513.6L236.3 512.3L228.8 514.3z"/>
<path d="M191.9 518.4L199.4 516.7L196.0 514.5L188.5 516.0z"/>
<path d="M84.6 410.2L92.3 409.0L89.1 407.6L81.4 409.1z"/>
<path d="M148.3 500.9L155.9 502.3L152.7 491.8L145.1 489.3z"/>
<path d="M106.4 418.2L114.0 419.6L110.9 412.8L103.2 412.3z"/>
<path d="M95.5 412.0L103.2 412.3L100.0 407.9L92.3 409.0z"/>
<path d="M202.8 518.7L210.3 516.8L206.9 515.0L199.4 516.7z"/>
<path d="M134.3 471.8L141.9 476.0L138.8 461.7L131.2 457.1z"/>
<path d="M213.8 518.4L221.3 516.4L217.9 514.9L210.3 516.8z"/>
<path d="M120.4 439.2L128.0 443.3L124.9 431.2L117.2 428.3z"/>
<path d="M162.4 516.3L170.0 515.3L166.7 510.6L159.1 511.0z"/>
<path d="M173.3 519.0L180.9 517.5L177.6 514.2L170.0 515.3z"/>
<path d="M137.5 486.0L145.1 489.3L141.9 476.0L134.3 471.8z"/>
<path d="M151.5 510.4L159.1 511.0L155.9 502.3L148.3 500.9z"/>
<path d="M224.8 517.9L232.3 515.7L228.8 514.3L221.3 516.4z"/>
<path d="M184.3 520.2L191.9 518.4L188.5 516.0L180.9 517.5z"/>
<path d="M76.8 411.5L84.6 410.2L81.4 409.1L73.7 410.6z"/>
<path d="M109.6 425.7L117.2 428.3L114.0 419.6L106.4 418.2z"/>
<path d="M123.6 452.2L131.2 457.1L128.0 443.3L120.4 439.2z"/>
<path d="M195.3 520.5L202.8 518.7L199.4 516.7L191.9 518.4z"/>
<path d="M87.8 411.7L95.5 412.0L92.3 409.0L84.6 410.2z"/>
<path d="M98.7 417.1L106.4 418.2L103.2 412.3L95.5 412.0z"/>
<path d="M140.7 498.7L148.3 500.9L145.1 489.3L137.5 486.0z"/>
<path d="M206.3 520.4L213.8 518.4L210.3 516.8L202.8 518.7z"/>
<path d="M126.7 466.9L134.3 471.8L131.2 457.1L123.6 452.2z"/>
<path d="M154.8 517.1L162.4 516.3L159.1 511.0L151.5 510.4z"/>
<path d="M165.7 520.4L173.3 519.0L170.0 515.3L162.4 516.3z"/>
<path d="M217.3 520.0L224.8 517.9L221.3 516.4L213.8 518.4z"/>
<path d="M112.7 435.2L120.4 439.2L117.2 428.3L109.6 425.7z"/>
<path d="M176.7 521.9L184.3 520.2L180.9 517.5L173.3 519.0z"/>
<path d="M143.9 509.3L151.5 510.4L148.3 500.9L140.7 498.7z"/>
<path d="M129.9 481.9L137.5 486.0L134.3 471.8L126.7 466.9z"/>
<path d="M187.7 522.4L195.3 520.5L191.9 518.4L184.3 520.2z"/>
<path d="M101.9 423.5L109.6 425.7L106.4 418.2L98.7 417.1z"/>
<path d="M80.0 412.3L87.8 411.7L84.6 410.2L76.8 411.5z"/>
<path d="M90.9 416.2L98.7 417.1L95.5 412.0L87.8 411.7z"/>
<path d="M198.7 522.4L206.3 520.4L202.8 518.7L195.3 520.5z"/>
<path d="M115.9 447.1L123.6 452.2L120.4 439.2L112.7 435.2z"/>
<path d="M133.1 495.7L140.7 498.7L137.5 486.0L129.9 481.9z"/>
<path d="M209.7 522.1L217.3 520.0L213.8 518.4L206.3 520.4z"/>
<path d="M158.1 521.7L165.7 520.4L162.4 516.3L154.8 517.1z"/>
<path d="M147.2 517.5L154.8 517.1L151.5 510.4L143.9 509.3z"/>
<path d="M169.1 523.6L176.7 521.9L173.3 519.0L165.7 520.4z"/>
<path d="M119.1 461.4L126.7 466.9L123.6 452.2L115.9 447.1z"/>
<path d="M105.1 431.6L112.7 435.2L109.6 425.7L101.9 423.5z"/>
<path d="M180.1 524.4L187.7 522.4L184.3 520.2L176.7 521.9z"/>
<path d="M136.3 507.6L143.9 509.3L140.7 498.7L133.1 495.7z"/>
<path d="M191.1 524.5L198.7 522.4L195.3 520.5L187.7 522.4z"/>
<path d="M94.1 421.6L101.9 423.5L98.7 417.1L90.9 416.2z"/>
<path d="M122.3 476.8L129.9 481.9L126.7 466.9L119.1 461.4z"/>
<path d="M83.2 415.4L90.9 416.2L87.8 411.7L80.0 412.3z"/>
<path d="M202.1 524.2L209.7 522.1L206.3 520.4L198.7 522.4z"/>
<path d="M150.5 522.8L158.1 521.7L154.8 517.1L147.2 517.5z"/>
<path d="M108.2 442.1L115.9 447.1L112.7 435.2L105.1 431.6z"/>
<path d="M161.4 525.3L169.1 523.6L165.7 520.4L158.1 521.7z"/>
<path d="M125.4 491.9L133.1 495.7L129.9 481.9L122.3 476.8z"/>
<path d="M139.5 517.3L147.2 517.5L143.9 509.3L136.3 507.6z"/>
<path d="M172.5 526.3L180.1 524.4L176.7 521.9L169.1 523.6z"/>
<path d="M97.3 428.4L105.1 431.6L101.9 423.5L94.1 421.6z"/>
<path d="M183.5 526.5L191.1 524.5L187.7 522.4L180.1 524.4z"/>
<path d="M111.4 455.4L119.1 461.4L115.9 447.1L108.2 442.1z"/>
<path d="M128.6 505.2L136.3 507.6L133.1 495.7L125.4 491.9z"/>
<path d="M86.4 420.1L94.1 421.6L90.9 416.2L83.2 415.4z"/>
<path d="M194.5 526.3L202.1 524.2L198.7 522.4L191.1 524.5z"/>
<path d="M142.8 523.5L150.5 522.8L147.2 517.5L139.5 517.3z"/>
<path d="M153.8 526.8L161.4 525.3L158.1 521.7L150.5 522.8z"/>
<path d="M114.6 470.8L122.3 476.8L119.1 461.4L111.4 455.4z"/>
<path d="M164.8 528.2L172.5 526.3L169.1 523.6L161.4 525.3z"/>
<path d="M131.8 516.2L139.5 517.3L136.3 507.6L128.6 505.2z"/>
<path d="M100.5 437.4L108.2 442.1L105.1 431.6L97.3 428.4z"/>
<path d="M117.7 486.9L125.4 491.9L122.3 476.8L114.6 470.8z"/>
<path d="M175.8 528.6L183.5 526.5L180.1 524.4L172.5 526.3z"/>
<path d="M89.6 425.8L97.3 428.4L94.1 421.6L86.4 420.1z"/>
<path d="M186.9 528.5L194.5 526.3L191.1 524.5L183.5 526.5z"/>
<path d="M120.9 501.9L128.6 505.2L125.4 491.9L117.7 486.9z"/>
<path d="M103.7 449.3L111.4 455.4L108.2 442.1L100.5 437.4z"/>
<path d="M146.1 528.1L153.8 526.8L150.5 522.8L142.8 523.5z"/>
<path d="M135.1 524.0L142.8 523.5L139.5 517.3L131.8 516.2z"/>
<path d="M157.1 530.0L164.8 528.2L161.4 525.3L153.8 526.8z"/>
<path d="M168.2 530.6L175.8 528.6L172.5 526.3L164.8 528.2z"/>
<path d="M124.1 514.4L131.8 516.2L128.6 505.2L120.9 501.9z"/>
<path d="M106.9 464.1L114.6 470.8L111.4 455.4L103.7 449.3z"/>
<path d="M92.7 433.3L100.5 437.4L97.3 428.4L89.6 425.8z"/>
<path d="M179.2 530.6L186.9 528.5L183.5 526.5L175.8 528.6z"/>
<path d="M110.0 480.8L117.7 486.9L114.6 470.8L106.9 464.1z"/>
<path d="M138.4 529.3L146.1 528.1L142.8 523.5L135.1 524.0z"/>
<path d="M149.4 531.7L157.1 530.0L153.8 526.8L146.1 528.1z"/>
<path d="M127.4 524.0L135.1 524.0L131.8 516.2L124.1 514.4z"/>
<path d="M113.2 497.3L120.9 501.9L117.7 486.9L110.0 480.8z"/>
<path d="M95.9 443.4L103.7 449.3L100.5 437.4L92.7 433.3z"/>
<path d="M160.5 532.6L168.2 530.6L164.8 528.2L157.1 530.0z"/>
<path d="M171.6 532.8L179.2 530.6L175.8 528.6L168.2 530.6z"/>
<path d="M116.4 511.7L124.1 514.4L120.9 501.9L113.2 497.3z"/>
<path d="M99.1 456.9L106.9 464.1L103.7 449.3L95.9 443.4z"/>
<path d="M130.6 530.2L138.4 529.3L135.1 524.0L127.4 524.0z"/>
<path d="M141.7 533.3L149.4 531.7L146.1 528.1L138.4 529.3z"/>
<path d="M119.6 523.2L127.4 524.0L124.1 514.4L116.4 511.7z"/>
<path d="M152.8 534.6L160.5 532.6L157.1 530.0L149.4 531.7z"/>
<path d="M102.3 473.5L110.0 480.8L106.9 464.1L99.1 456.9z"/>
<path d="M163.8 535.0L171.6 532.8L168.2 530.6L160.5 532.6z"/>
<path d="M105.5 491.3L113.2 497.3L110.0 480.8L102.3 473.5z"/>
<path d="M108.6 507.9L116.4 511.7L113.2 497.3L105.5 491.3z"/>
<path d="M133.9 534.8L141.7 533.3L138.4 529.3L130.6 530.2z"/>
<path d="M122.9 530.8L130.6 530.2L127.4 524.0L119.6 523.2z"/>
<path d="M145.0 536.5L152.8 534.6L149.4 531.7L141.7 533.3z"/>
<path d="M156.1 537.1L163.8 535.0L160.5 532.6L152.8 534.6z"/>
<path d="M111.8 521.3L119.6 523.2L116.4 511.7L108.6 507.9z"/>
<path d="M126.1 536.2L133.9 534.8L130.6 530.2L122.9 530.8z"/>
<path d="M115.1 530.9L122.9 530.8L119.6 523.2L111.8 521.3z"/>
<path d="M137.2 538.4L145.0 536.5L141.7 533.3L133.9 534.8z"/>
<path d="M148.4 539.2L156.1 537.1L152.8 534.6L145.0 536.5z"/>
<path d="M118.3 537.3L126.1 536.2L122.9 530.8L115.1 530.9z"/>
<path d="M129.4 540.2L137.2 538.4L133.9 534.8L126.1 536.2z"/>
<path d="M140.6 541.4L148.4 539.2L145.0 536.5L137.2 538.4z"/>
<path d="M121.6 542.0L129.4 540.2L126.1 536.2L118.3 537.3z"/>
<path d="M132.8 543.5L140.6 541.4L137.2 538.4L129.4 540.2z"/>
<path d="M124.9 545.6L132.8 543.5L129.4 540.2L121.6 542.0z"/></g>
<g><path class="ax" d="M485.85 187.32L485.81 59.21"/>
<path class="ax2" d="M485.55 187.32L565.55 278.99L771.89 210.19"/>
<path class="tk" d="M485.8 165.3h-2.5M485.8 126.9h-2.5M485.8 88.3h-2.5M572.3 276.8l0.8 2M619.5 261.0l0.8 2M665.8 245.6l0.8 2M711.3 230.4l0.8 2M755.9 215.5l0.8 2M553.2 264.9l-2 0.6M535.9 245.0l-2 0.6M518.9 225.5l-2 0.6M502.3 206.5l-2 0.6M485.9 187.8l-2 0.6"/>
<text x="449.4" y="18.6" font-size="23">c)</text>
<text transform="translate(468.6 165.7) rotate(-90.0)" font-size="11.7" text-anchor="middle" dominant-baseline="central">0.130</text>
<text transform="translate(468.6 127.3) rotate(-90.0)" font-size="11.7" text-anchor="middle" dominant-baseline="central">0.260</text>
<text transform="translate(468.6 88.7) rotate(-90.0)" font-size="11.7" text-anchor="middle" dominant-baseline="central">0.390</text>
<text transform="translate(581.7 290.9) rotate(-18.4)" font-size="12.6" text-anchor="middle" dominant-baseline="central">16</text>
<text transform="translate(628.9 275.1) rotate(-18.4)" font-size="12.6" text-anchor="middle" dominant-baseline="central">24</text>
<text transform="translate(675.2 259.7) rotate(-18.4)" font-size="12.6" text-anchor="middle" dominant-baseline="central">32</text>
<text transform="translate(720.7 244.5) rotate(-18.4)" font-size="12.6" text-anchor="middle" dominant-baseline="central">40</text>
<text transform="translate(763.3 230.2) rotate(-18.4)" font-size="12.6" text-anchor="middle" dominant-baseline="central">48</text>
<text transform="translate(536.0 271.1) rotate(48.9)" font-size="12.6" text-anchor="middle" dominant-baseline="central">150</text>
<text transform="translate(520.7 254.2) rotate(48.9)" font-size="12.6" text-anchor="middle" dominant-baseline="central">165</text>
<text transform="translate(505.1 238.4) rotate(48.9)" font-size="12.6" text-anchor="middle" dominant-baseline="central">180</text>
<text transform="translate(488.5 217.7) rotate(48.9)" font-size="12.6" text-anchor="middle" dominant-baseline="central">195</text>
<text transform="translate(472.5 198.3) rotate(48.9)" font-size="12.6" text-anchor="middle" dominant-baseline="central">210</text>
<text transform="translate(442.1 125.2) rotate(-90.0)" font-size="15.0" font-weight="bold" text-anchor="middle" dominant-baseline="central">Predictive value</text>
<text transform="translate(477.9 235.8) rotate(48.9)" font-size="15.0" font-weight="bold" text-anchor="middle" dominant-baseline="central">Total Length</text>
<text transform="translate(678.4 281.0) rotate(-18.4)" font-size="15.5" font-weight="bold" text-anchor="middle" dominant-baseline="central">Number of tufts</text></g>
<g class="m"><path d="M683.6 41.9L691.0 45.8L687.6 37.4L680.2 36.3z"/>
<path d="M687.0 49.2L694.3 57.7L691.0 45.8L683.6 41.9z"/>
<path d="M676.1 41.1L683.6 41.9L680.2 36.3L672.7 37.0z"/>
<path d="M690.3 59.6L697.5 73.9L694.3 57.7L687.0 49.2z"/>
<path d="M693.6 74.5L700.6 93.5L697.5 73.9L690.3 59.6z"/>
<path d="M696.7 95.3L703.8 114.2L700.6 93.5L693.6 74.5z"/>
<path d="M679.6 45.6L687.0 49.2L683.6 41.9L676.1 41.1z"/>
<path d="M668.6 42.0L676.1 41.1L672.7 37.0L665.2 38.5z"/>
<path d="M699.8 116.6L707.0 131.5L703.8 114.2L696.7 95.3z"/>
<path d="M703.0 134.6L710.3 144.0L707.0 131.5L699.8 116.6z"/>
<path d="M683.0 51.7L690.3 59.6L687.0 49.2L679.6 45.6z"/>
<path d="M706.4 146.3L713.7 151.0L710.3 144.0L703.0 134.6z"/>
<path d="M661.1 43.5L668.6 42.0L665.2 38.5L657.7 40.3z"/>
<path d="M672.1 45.4L679.6 45.6L676.1 41.1L668.6 42.0z"/>
<path d="M686.4 61.2L693.6 74.5L690.3 59.6L683.0 51.7z"/>
<path d="M709.8 153.9L717.2 155.4L713.7 151.0L706.4 146.3z"/>
<path d="M653.5 45.4L661.1 43.5L657.7 40.3L650.1 42.3z"/>
<path d="M689.6 78.0L696.7 95.3L693.6 74.5L686.4 61.2z"/>
<path d="M664.5 46.3L672.1 45.4L668.6 42.0L661.1 43.5z"/>
<path d="M692.7 99.2L699.8 116.6L696.7 95.3L689.6 78.0z"/>
<path d="M675.5 49.5L683.0 51.7L679.6 45.6L672.1 45.4z"/>
<path d="M695.9 120.7L703.0 134.6L699.8 116.6L692.7 99.2z"/>
<path d="M699.1 137.6L706.4 146.3L703.0 134.6L695.9 120.7z"/>
<path d="M713.3 158.7L720.8 158.4L717.2 155.4L709.8 153.9z"/>
<path d="M645.9 47.3L653.5 45.4L650.1 42.3L642.5 44.4z"/>
<path d="M657.0 47.8L664.5 46.3L661.1 43.5L653.5 45.4z"/>
<path d="M679.0 55.7L686.4 61.2L683.0 51.7L675.5 49.5z"/>
<path d="M702.4 149.5L709.8 153.9L706.4 146.3L699.1 137.6z"/>
<path d="M668.0 49.4L675.5 49.5L672.1 45.4L664.5 46.3z"/>
<path d="M638.3 49.4L645.9 47.3L642.5 44.4L634.9 46.5z"/>
<path d="M682.3 65.7L689.6 78.0L686.4 61.2L679.0 55.7z"/>
<path d="M716.9 161.8L724.4 160.5L720.8 158.4L713.3 158.7z"/>
<path d="M705.9 157.3L713.3 158.7L709.8 153.9L702.4 149.5z"/>
<path d="M649.4 49.6L657.0 47.8L653.5 45.4L645.9 47.3z"/>
<path d="M685.5 83.9L692.7 99.2L689.6 78.0L682.3 65.7z"/>
<path d="M688.7 105.6L695.9 120.7L692.7 99.2L685.5 83.9z"/>
<path d="M660.4 50.3L668.0 49.4L664.5 46.3L657.0 47.8z"/>
<path d="M671.5 53.6L679.0 55.7L675.5 49.5L668.0 49.4z"/>
<path d="M691.8 125.9L699.1 137.6L695.9 120.7L688.7 105.6z"/>
<path d="M695.1 142.3L702.4 149.5L699.1 137.6L691.8 125.9z"/>
<path d="M630.6 51.5L638.3 49.4L634.9 46.5L627.2 48.7z"/>
<path d="M641.7 51.5L649.4 49.6L645.9 47.3L638.3 49.4z"/>
<path d="M709.4 162.2L716.9 161.8L713.3 158.7L705.9 157.3z"/>
<path d="M720.5 164.1L728.0 162.3L724.4 160.5L716.9 161.8z"/>
<path d="M652.8 51.5L660.4 50.3L657.0 47.8L649.4 49.6z"/>
<path d="M674.9 60.6L682.3 65.7L679.0 55.7L671.5 53.6z"/>
<path d="M698.5 153.9L705.9 157.3L702.4 149.5L695.1 142.3z"/>
<path d="M663.9 53.4L671.5 53.6L668.0 49.4L660.4 50.3z"/>
<path d="M623.0 53.7L630.6 51.5L627.2 48.7L619.6 50.9z"/>
<path d="M678.2 73.0L685.5 83.9L682.3 65.7L674.9 60.6z"/>
<path d="M634.1 53.5L641.7 51.5L638.3 49.4L630.6 51.5z"/>
<path d="M681.4 92.7L688.7 105.6L685.5 83.9L678.2 73.0z"/>
<path d="M713.0 165.5L720.5 164.1L716.9 161.8L709.4 162.2z"/>
<path d="M701.9 161.3L709.4 162.2L705.9 157.3L698.5 153.9z"/>
<path d="M645.2 53.1L652.8 51.5L649.4 49.6L641.7 51.5z"/>
<path d="M684.6 114.0L691.8 125.9L688.7 105.6L681.4 92.7z"/>
<path d="M687.7 133.6L695.1 142.3L691.8 125.9L684.6 114.0z"/>
<path d="M656.3 53.8L663.9 53.4L660.4 50.3L652.8 51.5z"/>
<path d="M724.1 166.0L731.6 163.9L728.0 162.3L720.5 164.1z"/>
<path d="M667.3 58.3L674.9 60.6L671.5 53.6L663.9 53.4z"/>
<path d="M615.3 56.0L623.0 53.7L619.6 50.9L611.9 53.0z"/>
<path d="M691.0 148.8L698.5 153.9L695.1 142.3L687.7 133.6z"/>
<path d="M626.4 55.8L634.1 53.5L630.6 51.5L623.0 53.7z"/>
<path d="M637.5 55.0L645.2 53.1L641.7 51.5L634.1 53.5z"/>
<path d="M705.4 166.1L713.0 165.5L709.4 162.2L701.9 161.3z"/>
<path d="M670.7 66.7L678.2 73.0L674.9 60.6L667.3 58.3z"/>
<path d="M716.6 167.8L724.1 166.0L720.5 164.1L713.0 165.5z"/>
<path d="M648.7 54.8L656.3 53.8L652.8 51.5L645.2 53.1z"/>
<path d="M694.4 159.3L701.9 161.3L698.5 153.9L691.0 148.8z"/>
<path d="M607.5 58.3L615.3 56.0L611.9 53.0L604.2 55.2z"/>
<path d="M659.8 57.4L667.3 58.3L663.9 53.4L656.3 53.8z"/>
<path d="M727.8 167.6L735.3 165.4L731.6 163.9L724.1 166.0z"/>
<path d="M618.7 58.3L626.4 55.8L623.0 53.7L615.3 56.0z"/>
<path d="M674.0 83.3L681.4 92.7L678.2 73.0L670.7 66.7z"/>
<path d="M677.2 104.1L684.6 114.0L681.4 92.7L674.0 83.3z"/>
<path d="M680.3 125.2L687.7 133.6L684.6 114.0L677.2 104.1z"/>
<path d="M629.8 57.3L637.5 55.0L634.1 53.5L626.4 55.8z"/>
<path d="M683.6 143.3L691.0 148.8L687.7 133.6L680.3 125.2z"/>
<path d="M697.9 166.0L705.4 166.1L701.9 161.3L694.4 159.3z"/>
<path d="M709.0 169.3L716.6 167.8L713.0 165.5L705.4 166.1z"/>
<path d="M641.0 56.4L648.7 54.8L645.2 53.1L637.5 55.0z"/>
<path d="M599.8 60.5L607.5 58.3L604.2 55.2L596.4 57.4z"/>
<path d="M663.2 63.7L670.7 66.7L667.3 58.3L659.8 57.4z"/>
<path d="M652.1 57.4L659.8 57.4L656.3 53.8L648.7 54.8z"/>
<path d="M720.2 169.7L727.8 167.6L724.1 166.0L716.6 167.8z"/>
<path d="M610.9 60.8L618.7 58.3L615.3 56.0L607.5 58.3z"/>
<path d="M686.9 156.6L694.4 159.3L691.0 148.8L683.6 143.3z"/>
<path d="M731.4 169.1L739.0 166.8L735.3 165.4L727.8 167.6z"/>
<path d="M622.1 60.1L629.8 57.3L626.4 55.8L618.7 58.3z"/>
<path d="M666.5 76.3L674.0 83.3L670.7 66.7L663.2 63.7z"/>
<path d="M633.3 58.7L641.0 56.4L637.5 55.0L629.8 57.3z"/>
<path d="M592.0 62.8L599.8 60.5L596.4 57.4L588.7 59.7z"/>
<path d="M701.4 170.4L709.0 169.3L705.4 166.1L697.9 166.0z"/>
<path d="M690.3 165.5L697.9 166.0L694.4 159.3L686.9 156.6z"/>
<path d="M669.7 96.0L677.2 104.1L674.0 83.3L666.5 76.3z"/>
<path d="M603.2 63.2L610.9 60.8L607.5 58.3L599.8 60.5z"/>
<path d="M712.6 171.6L720.2 169.7L716.6 167.8L709.0 169.3z"/>
<path d="M672.9 117.5L680.3 125.2L677.2 104.1L669.7 96.0z"/>
<path d="M644.5 58.3L652.1 57.4L648.7 54.8L641.0 56.4z"/>
<path d="M655.6 62.1L663.2 63.7L659.8 57.4L652.1 57.4z"/>
<path d="M676.1 137.7L683.6 143.3L680.3 125.2L672.9 117.5z"/>
<path d="M614.3 63.0L622.1 60.1L618.7 58.3L610.9 60.8z"/>
<path d="M723.9 171.3L731.4 169.1L727.8 167.6L720.2 169.7z"/>
<path d="M679.4 153.6L686.9 156.6L683.6 143.3L676.1 137.7z"/>
<path d="M735.1 170.5L742.7 168.2L739.0 166.8L731.4 169.1z"/>
<path d="M625.5 61.7L633.3 58.7L629.8 57.3L622.1 60.1z"/>
<path d="M584.2 64.9L592.0 62.8L588.7 59.7L580.9 61.9z"/>
<path d="M693.9 171.2L701.4 170.4L697.9 166.0L690.3 165.5z"/>
<path d="M595.4 65.4L603.2 63.2L599.8 60.5L592.0 62.8z"/>
<path d="M659.0 70.9L666.5 76.3L663.2 63.7L655.6 62.1z"/>
<path d="M705.0 173.3L712.6 171.6L709.0 169.3L701.4 170.4z"/>
<path d="M636.7 60.3L644.5 58.3L641.0 56.4L633.3 58.7z"/>
<path d="M682.8 164.6L690.3 165.5L686.9 156.6L679.4 153.6z"/>
<path d="M647.9 61.8L655.6 62.1L652.1 57.4L644.5 58.3z"/>
<path d="M606.6 65.6L614.3 63.0L610.9 60.8L603.2 63.2z"/>
<path d="M716.3 173.5L723.9 171.3L720.2 169.7L712.6 171.6z"/>
<path d="M662.2 89.2L669.7 96.0L666.5 76.3L659.0 70.9z"/>
<path d="M617.8 65.0L625.5 61.7L622.1 60.1L614.3 63.0z"/>
<path d="M665.4 110.5L672.9 117.5L669.7 96.0L662.2 89.2z"/>
<path d="M727.5 172.8L735.1 170.5L731.4 169.1L723.9 171.3z"/>
<path d="M668.6 132.0L676.1 137.7L672.9 117.5L665.4 110.5z"/>
<path d="M576.4 67.1L584.2 64.9L580.9 61.9L573.1 64.1z"/>
<path d="M671.8 150.2L679.4 153.6L676.1 137.7L668.6 132.0z"/>
<path d="M587.6 67.5L595.4 65.4L592.0 62.8L584.2 64.9z"/>
<path d="M629.0 63.5L636.7 60.3L633.3 58.7L625.5 61.7z"/>
<path d="M738.8 171.9L746.4 169.6L742.7 168.2L735.1 170.5z"/>
<path d="M686.2 171.8L693.9 171.2L690.3 165.5L682.8 164.6z"/>
<path d="M697.4 174.9L705.0 173.3L701.4 170.4L693.9 171.2z"/>
<path d="M598.8 67.8L606.6 65.6L603.2 63.2L595.4 65.4z"/>
<path d="M651.3 68.5L659.0 70.9L655.6 62.1L647.9 61.8z"/>
<path d="M640.2 63.0L647.9 61.8L644.5 58.3L636.7 60.3z"/>
<path d="M708.6 175.5L716.3 173.5L712.6 171.6L705.0 173.3z"/>
<path d="M675.2 163.4L682.8 164.6L679.4 153.6L671.8 150.2z"/>
<path d="M610.0 67.8L617.8 65.0L614.3 63.0L606.6 65.6z"/>
<path d="M719.9 175.1L727.5 172.8L723.9 171.3L716.3 173.5z"/>
<path d="M568.6 69.3L576.4 67.1L573.1 64.1L565.2 66.3z"/>
<path d="M621.2 67.1L629.0 63.5L625.5 61.7L617.8 65.0z"/>
<path d="M654.6 83.4L662.2 89.2L659.0 70.9L651.3 68.5z"/>
<path d="M579.7 69.5L587.6 67.5L584.2 64.9L576.4 67.1z"/>
<path d="M731.2 174.2L738.8 171.9L735.1 170.5L727.5 172.8z"/>
<path d="M689.8 176.4L697.4 174.9L693.9 171.2L686.2 171.8z"/>
<path d="M657.8 103.7L665.4 110.5L662.2 89.2L654.6 83.4z"/>
<path d="M678.6 172.1L686.2 171.8L682.8 164.6L675.2 163.4z"/>
<path d="M591.0 69.6L598.8 67.8L595.4 65.4L587.6 67.5z"/>
<path d="M661.0 125.8L668.6 132.0L665.4 110.5L657.8 103.7z"/>
<path d="M632.4 66.2L640.2 63.0L636.7 60.3L629.0 63.5z"/>
<path d="M701.0 177.5L708.6 175.5L705.0 173.3L697.4 174.9z"/>
<path d="M742.5 173.3L750.1 171.0L746.4 169.6L738.8 171.9z"/>
<path d="M664.2 145.9L671.8 150.2L668.6 132.0L661.0 125.8z"/>
<path d="M643.6 68.3L651.3 68.5L647.9 61.8L640.2 63.0z"/>
<path d="M602.2 69.9L610.0 67.8L606.6 65.6L598.8 67.8z"/>
<path d="M712.3 177.3L719.9 175.1L716.3 173.5L708.6 175.5z"/>
<path d="M560.7 71.6L568.6 69.3L565.2 66.3L557.4 68.6z"/>
<path d="M667.5 161.3L675.2 163.4L671.8 150.2L664.2 145.9z"/>
<path d="M613.4 70.1L621.2 67.1L617.8 65.0L610.0 67.8z"/>
<path d="M571.9 71.7L579.7 69.5L576.4 67.1L568.6 69.3z"/>
<path d="M723.6 176.6L731.2 174.2L727.5 172.8L719.9 175.1z"/>
<path d="M624.6 69.9L632.4 66.2L629.0 63.5L621.2 67.1z"/>
<path d="M682.1 177.7L689.8 176.4L686.2 171.8L678.6 172.1z"/>
<path d="M583.1 71.5L591.0 69.6L587.6 67.5L579.7 69.5z"/>
<path d="M647.0 79.3L654.6 83.4L651.3 68.5L643.6 68.3z"/>
<path d="M734.9 175.7L742.5 173.3L738.8 171.9L731.2 174.2z"/>
<path d="M693.4 179.5L701.0 177.5L697.4 174.9L689.8 176.4z"/>
<path d="M670.9 171.9L678.6 172.1L675.2 163.4L667.5 161.3z"/>
<path d="M635.9 70.7L643.6 68.3L640.2 63.0L632.4 66.2z"/>
<path d="M594.3 71.5L602.2 69.9L598.8 67.8L591.0 69.6z"/>
<path d="M704.6 179.5L712.3 177.3L708.6 175.5L701.0 177.5z"/>
<path d="M552.8 73.8L560.7 71.6L557.4 68.6L549.5 70.8z"/>
<path d="M650.2 98.1L657.8 103.7L654.6 83.4L647.0 79.3z"/>
<path d="M746.2 174.7L753.8 172.4L750.1 171.0L742.5 173.3z"/>
<path d="M653.4 119.7L661.0 125.8L657.8 103.7L650.2 98.1z"/>
<path d="M605.6 72.0L613.4 70.1L610.0 67.8L602.2 69.9z"/>
<path d="M656.6 141.0L664.2 145.9L661.0 125.8L653.4 119.7z"/>
<path d="M564.0 73.9L571.9 71.7L568.6 69.3L560.7 71.6z"/>
<path d="M716.0 178.9L723.6 176.6L719.9 175.1L712.3 177.3z"/>
<path d="M659.9 158.6L667.5 161.3L664.2 145.9L656.6 141.0z"/>
<path d="M616.8 72.9L624.6 69.9L621.2 67.1L613.4 70.1z"/>
<path d="M575.3 73.5L583.1 71.5L579.7 69.5L571.9 71.7z"/>
<path d="M674.4 178.7L682.1 177.7L678.6 172.1L670.9 171.9z"/>
<path d="M727.3 178.0L734.9 175.7L731.2 174.2L723.6 176.6z"/>
<path d="M628.1 74.1L635.9 70.7L632.4 66.2L624.6 69.9z"/>
<path d="M685.7 181.3L693.4 179.5L689.8 176.4L682.1 177.7z"/>
<path d="M639.3 78.7L647.0 79.3L643.6 68.3L635.9 70.7z"/>
<path d="M586.5 73.1L594.3 71.5L591.0 69.6L583.1 71.5z"/>
<path d="M663.3 171.1L670.9 171.9L667.5 161.3L659.9 158.6z"/>
<path d="M544.9 76.1L552.8 73.8L549.5 70.8L541.6 73.0z"/>
<path d="M697.0 181.7L704.6 179.5L701.0 177.5L693.4 179.5z"/>
<path d="M738.6 177.1L746.2 174.7L742.5 173.3L734.9 175.7z"/>
<path d="M597.8 73.3L605.6 72.0L602.2 69.9L594.3 71.5z"/>
<path d="M556.1 76.3L564.0 73.9L560.7 71.6L552.8 73.8z"/>
<path d="M708.3 181.2L716.0 178.9L712.3 177.3L704.6 179.5z"/>
<path d="M642.6 95.2L650.2 98.1L647.0 79.3L639.3 78.7z"/>
<path d="M750.0 176.1L757.6 173.8L753.8 172.4L746.2 174.7z"/>
<path d="M609.0 74.4L616.8 72.9L613.4 70.1L605.6 72.0z"/>
<path d="M645.8 115.5L653.4 119.7L650.2 98.1L642.6 95.2z"/>
<path d="M567.4 75.8L575.3 73.5L571.9 71.7L564.0 73.9z"/>
<path d="M649.0 136.9L656.6 141.0L653.4 119.7L645.8 115.5z"/>
<path d="M620.3 76.8L628.1 74.1L624.6 69.9L616.8 72.9z"/>
<path d="M719.6 180.3L727.3 178.0L723.6 176.6L716.0 178.9z"/>
<path d="M631.5 81.1L639.3 78.7L635.9 70.7L628.1 74.1z"/>
<path d="M678.0 183.0L685.7 181.3L682.1 177.7L674.4 178.7z"/>
<path d="M652.2 155.9L659.9 158.6L656.6 141.0L649.0 136.9z"/>
<path d="M666.7 179.3L674.4 178.7L670.9 171.9L663.3 171.1z"/>
<path d="M578.6 74.9L586.5 73.1L583.1 71.5L575.3 73.5z"/>
<path d="M536.9 78.4L544.9 76.1L541.6 73.0L533.6 75.3z"/>
<path d="M689.3 183.9L697.0 181.7L693.4 179.5L685.7 181.3z"/>
<path d="M731.0 179.4L738.6 177.1L734.9 175.7L727.3 178.0z"/>
<path d="M589.9 74.4L597.8 73.3L594.3 71.5L586.5 73.1z"/>
<path d="M655.6 170.2L663.3 171.1L659.9 158.6L652.2 155.9z"/>
<path d="M548.2 78.7L556.1 76.3L552.8 73.8L544.9 76.1z"/>
<path d="M700.6 183.5L708.3 181.2L704.6 179.5L697.0 181.7z"/>
<path d="M742.4 178.5L750.0 176.1L746.2 174.7L738.6 177.1z"/>
<path d="M601.2 75.1L609.0 74.4L605.6 72.0L597.8 73.3z"/>
<path d="M634.8 94.4L642.6 95.2L639.3 78.7L631.5 81.1z"/>
<path d="M559.4 78.3L567.4 75.8L564.0 73.9L556.1 76.3z"/>
<path d="M612.4 77.7L620.3 76.8L616.8 72.9L609.0 74.4z"/>
<path d="M712.0 182.7L719.6 180.3L716.0 178.9L708.3 181.2z"/>
<path d="M623.7 82.8L631.5 81.1L628.1 74.1L620.3 76.8z"/>
<path d="M753.8 177.5L761.4 175.2L757.6 173.8L750.0 176.1z"/>
<path d="M638.1 112.7L645.8 115.5L642.6 95.2L634.8 94.4z"/>
<path d="M670.2 184.6L678.0 183.0L674.4 178.7L666.7 179.3z"/>
<path d="M570.7 77.3L578.6 74.9L575.3 73.5L567.4 75.8z"/>
<path d="M529.0 80.7L536.9 78.4L533.6 75.3L525.7 77.5z"/>
<path d="M659.0 179.8L666.7 179.3L663.3 171.1L655.6 170.2z"/>
<path d="M641.3 133.4L649.0 136.9L645.8 115.5L638.1 112.7z"/>
<path d="M681.5 186.0L689.3 183.9L685.7 181.3L678.0 183.0z"/>
<path d="M723.3 181.8L731.0 179.4L727.3 178.0L719.6 180.3z"/>
<path d="M644.5 153.2L652.2 155.9L649.0 136.9L641.3 133.4z"/>
<path d="M540.2 81.1L548.2 78.7L544.9 76.1L536.9 78.4z"/>
<path d="M582.0 76.0L589.9 74.4L586.5 73.1L578.6 74.9z"/>
<path d="M692.9 185.8L700.6 183.5L697.0 181.7L689.3 183.9z"/>
<path d="M734.7 180.8L742.4 178.5L738.6 177.1L731.0 179.4z"/>
<path d="M647.9 169.0L655.6 170.2L652.2 155.9L644.5 153.2z"/>
<path d="M551.5 80.9L559.4 78.3L556.1 76.3L548.2 78.7z"/>
<path d="M593.3 75.8L601.2 75.1L597.8 73.3L589.9 74.4z"/>
<path d="M627.0 93.5L634.8 94.4L631.5 81.1L623.7 82.8z"/>
<path d="M704.3 185.1L712.0 182.7L708.3 181.2L700.6 183.5z"/>
<path d="M604.6 77.6L612.4 77.7L609.0 74.4L601.2 75.1z"/>
<path d="M746.1 179.9L753.8 177.5L750.0 176.1L742.4 178.5z"/>
<path d="M615.9 82.7L623.7 82.8L620.3 76.8L612.4 77.7z"/>
<path d="M562.8 79.9L570.7 77.3L567.4 75.8L559.4 78.3z"/>
<path d="M662.5 186.0L670.2 184.6L666.7 179.3L659.0 179.8z"/>
<path d="M521.0 83.0L529.0 80.7L525.7 77.5L517.7 79.8z"/>
<path d="M715.6 184.1L723.3 181.8L719.6 180.3L712.0 182.7z"/>
<path d="M673.8 188.0L681.5 186.0L678.0 183.0L670.2 184.6z"/>
<path d="M630.3 110.2L638.1 112.7L634.8 94.4L627.0 93.5z"/>
<path d="M757.5 178.9L765.2 176.7L761.4 175.2L753.8 177.5z"/>
<path d="M651.2 180.1L659.0 179.8L655.6 170.2L647.9 169.0z"/>
<path d="M532.2 83.5L540.2 81.1L536.9 78.4L529.0 80.7z"/>
<path d="M574.1 78.4L582.0 76.0L578.6 74.9L570.7 77.3z"/>
<path d="M685.1 188.1L692.9 185.8L689.3 183.9L681.5 186.0z"/>
<path d="M633.6 129.9L641.3 133.4L638.1 112.7L630.3 110.2z"/>
<path d="M727.0 183.2L734.7 180.8L731.0 179.4L723.3 181.8z"/>
<path d="M636.8 150.0L644.5 153.2L641.3 133.4L633.6 129.9z"/>
<path d="M543.5 83.5L551.5 80.9L548.2 78.7L540.2 81.1z"/>
<path d="M585.4 77.0L593.3 75.8L589.9 74.4L582.0 76.0z"/>
<path d="M696.5 187.4L704.3 185.1L700.6 183.5L692.9 185.8z"/>
<path d="M738.5 182.2L746.1 179.9L742.4 178.5L734.7 180.8z"/>
<path d="M619.3 90.9L627.0 93.5L623.7 82.8L615.9 82.7z"/>
<path d="M640.1 167.2L647.9 169.0L644.5 153.2L636.8 150.0z"/>
<path d="M554.8 82.7L562.8 79.9L559.4 78.3L551.5 80.9z"/>
<path d="M596.8 77.4L604.6 77.6L601.2 75.1L593.3 75.8z"/>
<path d="M512.9 85.3L521.0 83.0L517.7 79.8L509.7 82.1z"/>
<path d="M608.0 81.4L615.9 82.7L612.4 77.7L604.6 77.6z"/>
<path d="M707.9 186.5L715.6 184.1L712.0 182.7L704.3 185.1z"/>
<path d="M654.7 187.2L662.5 186.0L659.0 179.8L651.2 180.1z"/>
<path d="M666.0 189.9L673.8 188.0L670.2 184.6L662.5 186.0z"/>
<path d="M749.9 181.3L757.5 178.9L753.8 177.5L746.1 179.9z"/>
<path d="M524.2 85.8L532.2 83.5L529.0 80.7L521.0 83.0z"/>
<path d="M566.2 81.2L574.1 78.4L570.7 77.3L562.8 79.9z"/>
<path d="M643.5 179.9L651.2 180.1L647.9 169.0L640.1 167.2z"/>
<path d="M677.4 190.3L685.1 188.1L681.5 186.0L673.8 188.0z"/>
<path d="M719.3 185.5L727.0 183.2L723.3 181.8L715.6 184.1z"/>
<path d="M622.6 106.3L630.3 110.2L627.0 93.5L619.3 90.9z"/>
<path d="M535.5 86.0L543.5 83.5L540.2 81.1L532.2 83.5z"/>
<path d="M761.3 180.4L769.0 178.1L765.2 176.7L757.5 178.9z"/>
<path d="M577.5 79.3L585.4 77.0L582.0 76.0L574.1 78.4z"/>
<path d="M688.8 189.8L696.5 187.4L692.9 185.8L685.1 188.1z"/>
<path d="M625.8 125.2L633.6 129.9L630.3 110.2L622.6 106.3z"/>
<path d="M730.8 184.5L738.5 182.2L734.7 180.8L727.0 183.2z"/>
<path d="M546.9 85.5L554.8 82.7L551.5 80.9L543.5 83.5z"/>
<path d="M629.1 145.7L636.8 150.0L633.6 129.9L625.8 125.2z"/>
<path d="M504.9 87.5L512.9 85.3L509.7 82.1L501.7 84.3z"/>
<path d="M588.9 78.1L596.8 77.4L593.3 75.8L585.4 77.0z"/>
<path d="M611.5 88.0L619.3 90.9L615.9 82.7L608.0 81.4z"/>
<path d="M700.2 188.9L707.9 186.5L704.3 185.1L696.5 187.4z"/>
<path d="M742.2 183.6L749.9 181.3L746.1 179.9L738.5 182.2z"/>
<path d="M632.3 164.4L640.1 167.2L636.8 150.0L629.1 145.7z"/>
<path d="M600.2 80.2L608.0 81.4L604.6 77.6L596.8 77.4z"/>
<path d="M658.2 191.8L666.0 189.9L662.5 186.0L654.7 187.2z"/>
<path d="M646.9 188.2L654.7 187.2L651.2 180.1L643.5 179.9z"/>
<path d="M558.2 84.2L566.2 81.2L562.8 79.9L554.8 82.7z"/>
<path d="M516.2 88.1L524.2 85.8L521.0 83.0L512.9 85.3z"/>
<path d="M669.6 192.6L677.4 190.3L673.8 188.0L666.0 189.9z"/>
<path d="M711.6 187.9L719.3 185.5L715.6 184.1L707.9 186.5z"/>
<path d="M527.5 88.3L535.5 86.0L532.2 83.5L524.2 85.8z"/>
<path d="M753.7 182.7L761.3 180.4L757.5 178.9L749.9 181.3z"/>
<path d="M635.7 178.8L643.5 179.9L640.1 167.2L632.3 164.4z"/>
<path d="M569.6 82.2L577.5 79.3L574.1 78.4L566.2 81.2z"/>
<path d="M681.0 192.2L688.8 189.8L685.1 188.1L677.4 190.3z"/>
<path d="M723.1 186.9L730.8 184.5L727.0 183.2L719.3 185.5z"/>
<path d="M614.8 101.2L622.6 106.3L619.3 90.9L611.5 88.0z"/>
<path d="M538.9 88.2L546.9 85.5L543.5 83.5L535.5 86.0z"/>
<path d="M765.1 181.8L772.8 179.5L769.0 178.1L761.3 180.4z"/>
<path d="M496.8 89.8L504.9 87.5L501.7 84.3L493.6 86.6z"/>
<path d="M580.9 80.2L588.9 78.1L585.4 77.0L577.5 79.3z"/>
<path d="M692.4 191.3L700.2 188.9L696.5 187.4L688.8 189.8z"/>
<path d="M734.5 185.9L742.2 183.6L738.5 182.2L730.8 184.5z"/>
<path d="M550.2 87.3L558.2 84.2L554.8 82.7L546.9 85.5z"/>
<path d="M618.1 119.3L625.8 125.2L622.6 106.3L614.8 101.2z"/>
<path d="M508.2 90.3L516.2 88.1L512.9 85.3L504.9 87.5z"/>
<path d="M650.4 193.5L658.2 191.8L654.7 187.2L646.9 188.2z"/>
<path d="M592.3 80.0L600.2 80.2L596.8 77.4L588.9 78.1z"/>
<path d="M603.6 85.1L611.5 88.0L608.0 81.4L600.2 80.2z"/>
<path d="M639.1 188.6L646.9 188.2L643.5 179.9L635.7 178.8z"/>
<path d="M661.8 194.8L669.6 192.6L666.0 189.9L658.2 191.8z"/>
<path d="M621.3 140.0L629.1 145.7L625.8 125.2L618.1 119.3z"/>
<path d="M703.9 190.3L711.6 187.9L707.9 186.5L700.2 188.9z"/>
<path d="M519.5 90.6L527.5 88.3L524.2 85.8L516.2 88.1z"/>
<path d="M746.0 185.0L753.7 182.7L749.9 181.3L742.2 183.6z"/>
<path d="M561.6 85.5L569.6 82.2L566.2 81.2L558.2 84.2z"/>
<path d="M624.6 160.1L632.3 164.4L629.1 145.7L621.3 140.0z"/>
<path d="M673.2 194.6L681.0 192.2L677.4 190.3L669.6 192.6z"/>
<path d="M715.3 189.3L723.1 186.9L719.3 185.5L711.6 187.9z"/>
<path d="M530.8 90.6L538.9 88.2L535.5 86.0L527.5 88.3z"/>
<path d="M757.5 184.1L765.1 181.8L761.3 180.4L753.7 182.7z"/>
<path d="M627.9 176.7L635.7 178.8L632.3 164.4L624.6 160.1z"/>
<path d="M488.7 92.0L496.8 89.8L493.6 86.6L485.5 88.9z"/>
<path d="M573.0 83.2L580.9 80.2L577.5 79.3L569.6 82.2z"/>
<path d="M684.6 193.7L692.4 191.3L688.8 189.8L681.0 192.2z"/>
<path d="M542.2 90.1L550.2 87.3L546.9 85.5L538.9 88.2z"/>
<path d="M726.8 188.3L734.5 185.9L730.8 184.5L723.1 186.9z"/>
<path d="M607.0 95.8L614.8 101.2L611.5 88.0L603.6 85.1z"/>
<path d="M500.1 92.5L508.2 90.3L504.9 87.5L496.8 89.8z"/>
<path d="M642.6 194.9L650.4 193.5L646.9 188.2L639.1 188.6z"/>
<path d="M584.3 81.6L592.3 80.0L588.9 78.1L580.9 80.2z"/>
<path d="M696.1 192.7L703.9 190.3L700.2 188.9L692.4 191.3z"/>
<path d="M654.0 196.9L661.8 194.8L658.2 191.8L650.4 193.5z"/>
<path d="M511.4 92.7L519.5 90.6L516.2 88.1L508.2 90.3z"/>
<path d="M553.6 88.8L561.6 85.5L558.2 84.2L550.2 87.3z"/>
<path d="M738.3 187.3L746.0 185.0L742.2 183.6L734.5 185.9z"/>
<path d="M631.3 188.3L639.1 188.6L635.7 178.8L627.9 176.7z"/>
<path d="M595.7 83.6L603.6 85.1L600.2 80.2L592.3 80.0z"/>
<path d="M665.4 196.9L673.2 194.6L669.6 192.6L661.8 194.8z"/>
<path d="M610.3 113.0L618.1 119.3L614.8 101.2L607.0 95.8z"/>
<path d="M707.6 191.7L715.3 189.3L711.6 187.9L703.9 190.3z"/>
<path d="M522.8 92.8L530.8 90.6L527.5 88.3L519.5 90.6z"/>
<path d="M749.8 186.4L757.5 184.1L753.7 182.7L746.0 185.0z"/>
<path d="M613.5 133.5L621.3 140.0L618.1 119.3L610.3 113.0z"/>
<path d="M565.0 86.7L573.0 83.2L569.6 82.2L561.6 85.5z"/>
<path d="M676.8 196.2L684.6 193.7L681.0 192.2L673.2 194.6z"/>
<path d="M616.8 154.9L624.6 160.1L621.3 140.0L613.5 133.5z"/>
<path d="M534.1 92.6L542.2 90.1L538.9 88.2L530.8 90.6z"/>
<path d="M719.1 190.6L726.8 188.3L723.1 186.9L715.3 189.3z"/>
<path d="M492.0 94.7L500.1 92.5L496.8 89.8L488.7 92.0z"/>
<path d="M620.1 173.5L627.9 176.7L624.6 160.1L616.8 154.9z"/>
<path d="M576.4 84.6L584.3 81.6L580.9 80.2L573.0 83.2z"/>
<path d="M688.3 195.1L696.1 192.7L692.4 191.3L684.6 193.7z"/>
<path d="M634.7 195.9L642.6 194.9L639.1 188.6L631.3 188.3z"/>
<path d="M545.5 91.8L553.6 88.8L550.2 87.3L542.2 90.1z"/>
<path d="M646.1 198.9L654.0 196.9L650.4 193.5L642.6 194.9z"/>
<path d="M503.3 94.8L511.4 92.7L508.2 90.3L500.1 92.5z"/>
<path d="M730.6 189.6L738.3 187.3L734.5 185.9L726.8 188.3z"/>
<path d="M599.1 91.6L607.0 95.8L603.6 85.1L595.7 83.6z"/>
<path d="M587.8 84.4L595.7 83.6L592.3 80.0L584.3 81.6z"/>
<path d="M657.5 199.3L665.4 196.9L661.8 194.8L654.0 196.9z"/>
<path d="M699.8 194.1L707.6 191.7L703.9 190.3L696.1 192.7z"/>
<path d="M623.4 187.3L631.3 188.3L627.9 176.7L620.1 173.5z"/>
<path d="M514.7 94.9L522.8 92.8L519.5 90.6L511.4 92.7z"/>
<path d="M556.9 90.2L565.0 86.7L561.6 85.5L553.6 88.8z"/>
<path d="M742.1 188.7L749.8 186.4L746.0 185.0L738.3 187.3z"/>
<path d="M669.0 198.6L676.8 196.2L673.2 194.6L665.4 196.9z"/>
<path d="M526.1 94.7L534.1 92.6L530.8 90.6L522.8 92.8z"/>
<path d="M711.3 193.0L719.1 190.6L715.3 189.3L707.6 191.7z"/>
<path d="M602.4 107.5L610.3 113.0L607.0 95.8L599.1 91.6z"/>
<path d="M568.4 88.1L576.4 84.6L573.0 83.2L565.0 86.7z"/>
<path d="M680.5 197.6L688.3 195.1L684.6 193.7L676.8 196.2z"/>
<path d="M537.5 94.3L545.5 91.8L542.2 90.1L534.1 92.6z"/>
<path d="M605.7 127.4L613.5 133.5L610.3 113.0L602.4 107.5z"/>
<path d="M495.2 96.9L503.3 94.8L500.1 92.5L492.0 94.7z"/>
<path d="M638.2 200.7L646.1 198.9L642.6 194.9L634.7 195.9z"/>
<path d="M722.8 192.0L730.6 189.6L726.8 188.3L719.1 190.6z"/>
<path d="M626.8 196.4L634.7 195.9L631.3 188.3L623.4 187.3z"/>
<path d="M608.9 149.3L616.8 154.9L613.5 133.5L605.7 127.4z"/>
<path d="M579.8 86.9L587.8 84.4L584.3 81.6L576.4 84.6z"/>
<path d="M649.7 201.5L657.5 199.3L654.0 196.9L646.1 198.9z"/>
<path d="M612.2 169.7L620.1 173.5L616.8 154.9L608.9 149.3z"/>
<path d="M692.0 196.5L699.8 194.1L696.1 192.7L688.3 195.1z"/>
<path d="M506.6 96.8L514.7 94.9L511.4 92.7L503.3 94.8z"/>
<path d="M591.2 90.1L599.1 91.6L595.7 83.6L587.8 84.4z"/>
<path d="M548.9 93.4L556.9 90.2L553.6 88.8L545.5 91.8z"/>
<path d="M734.3 191.0L742.1 188.7L738.3 187.3L730.6 189.6z"/>
<path d="M661.1 201.0L669.0 198.6L665.4 196.9L657.5 199.3z"/>
<path d="M615.5 185.6L623.4 187.3L620.1 173.5L612.2 169.7z"/>
<path d="M518.0 96.7L526.1 94.7L522.8 92.8L514.7 94.9z"/>
<path d="M703.5 195.4L711.3 193.0L707.6 191.7L699.8 194.1z"/>
<path d="M560.3 91.7L568.4 88.1L565.0 86.7L556.9 90.2z"/>
<path d="M672.6 200.0L680.5 197.6L676.8 196.2L669.0 198.6z"/>
<path d="M529.4 96.4L537.5 94.3L534.1 92.6L526.1 94.7z"/>
<path d="M715.0 194.3L722.8 192.0L719.1 190.6L711.3 193.0z"/>
<path d="M594.5 104.2L602.4 107.5L599.1 91.6L591.2 90.1z"/>
<path d="M630.3 202.1L638.2 200.7L634.7 195.9L626.8 196.4z"/>
<path d="M571.8 90.2L579.8 86.9L576.4 84.6L568.4 88.1z"/>
<path d="M641.8 203.7L649.7 201.5L646.1 198.9L638.2 200.7z"/>
<path d="M618.9 196.5L626.8 196.4L623.4 187.3L615.5 185.6z"/>
<path d="M540.8 95.9L548.9 93.4L545.5 91.8L537.5 94.3z"/>
<path d="M684.2 198.9L692.0 196.5L688.3 195.1L680.5 197.6z"/>
<path d="M498.5 98.7L506.6 96.8L503.3 94.8L495.2 96.9z"/>
<path d="M583.2 91.2L591.2 90.1L587.8 84.4L579.8 86.9z"/>
<path d="M726.6 193.3L734.3 191.0L730.6 189.6L722.8 192.0z"/>
<path d="M597.8 123.0L605.7 127.4L602.4 107.5L594.5 104.2z"/>
<path d="M653.3 203.4L661.1 201.0L657.5 199.3L649.7 201.5z"/>
<path d="M601.1 144.6L608.9 149.3L605.7 127.4L597.8 123.0z"/>
<path d="M509.9 98.5L518.0 96.7L514.7 94.9L506.6 96.8z"/>
<path d="M552.3 95.0L560.3 91.7L556.9 90.2L548.9 93.4z"/>
<path d="M695.7 197.8L703.5 195.4L699.8 194.1L692.0 196.5z"/>
<path d="M604.3 166.1L612.2 169.7L608.9 149.3L601.1 144.6z"/>
<path d="M664.8 202.5L672.6 200.0L669.0 198.6L661.1 201.0z"/>
<path d="M607.6 183.9L615.5 185.6L612.2 169.7L604.3 166.1z"/>
<path d="M521.3 98.2L529.4 96.4L526.1 94.7L518.0 96.7z"/>
<path d="M707.2 196.7L715.0 194.3L711.3 193.0L703.5 195.4z"/>
<path d="M563.7 93.7L571.8 90.2L568.4 88.1L560.3 91.7z"/>
<path d="M622.4 203.4L630.3 202.1L626.8 196.4L618.9 196.5z"/>
<path d="M532.7 97.9L540.8 95.9L537.5 94.3L529.4 96.4z"/>
<path d="M676.3 201.4L684.2 198.9L680.5 197.6L672.6 200.0z"/>
<path d="M586.6 102.8L594.5 104.2L591.2 90.1L583.2 91.2z"/>
<path d="M633.9 205.7L641.8 203.7L638.2 200.7L630.3 202.1z"/>
<path d="M575.2 93.8L583.2 91.2L579.8 86.9L571.8 90.2z"/>
<path d="M718.8 195.7L726.6 193.3L722.8 192.0L715.0 194.3z"/>
<path d="M611.0 196.6L618.9 196.5L615.5 185.6L607.6 183.9z"/>
<path d="M645.3 205.8L653.3 203.4L649.7 201.5L641.8 203.7z"/>
<path d="M544.2 97.4L552.3 95.0L548.9 93.4L540.8 95.9z"/>
<path d="M501.7 100.2L509.9 98.5L506.6 96.8L498.5 98.7z"/>
<path d="M687.8 200.2L695.7 197.8L692.0 196.5L684.2 198.9z"/>
<path d="M589.9 119.8L597.8 123.0L594.5 104.2L586.6 102.8z"/>
<path d="M656.9 205.0L664.8 202.5L661.1 201.0L653.3 203.4z"/>
<path d="M593.1 140.7L601.1 144.6L597.8 123.0L589.9 119.8z"/>
<path d="M513.2 99.8L521.3 98.2L518.0 96.7L509.9 98.5z"/>
<path d="M555.7 96.8L563.7 93.7L560.3 91.7L552.3 95.0z"/>
<path d="M699.4 199.1L707.2 196.7L703.5 195.4L695.7 197.8z"/>
<path d="M596.4 162.7L604.3 166.1L601.1 144.6L593.1 140.7z"/>
<path d="M599.7 182.0L607.6 183.9L604.3 166.1L596.4 162.7z"/>
<path d="M668.4 203.8L676.3 201.4L672.6 200.0L664.8 202.5z"/>
<path d="M524.6 99.5L532.7 97.9L529.4 96.4L521.3 98.2z"/>
<path d="M614.4 204.6L622.4 203.4L618.9 196.5L611.0 196.6z"/>
<path d="M625.9 207.7L633.9 205.7L630.3 202.1L622.4 203.4z"/>
<path d="M567.1 96.8L575.2 93.8L571.8 90.2L563.7 93.7z"/>
<path d="M578.6 102.9L586.6 102.8L583.2 91.2L575.2 93.8z"/>
<path d="M711.0 198.0L718.8 195.7L715.0 194.3L707.2 196.7z"/>
<path d="M637.4 208.1L645.3 205.8L641.8 203.7L633.9 205.7z"/>
<path d="M536.1 99.2L544.2 97.4L540.8 95.9L532.7 97.9z"/>
<path d="M680.0 202.6L687.8 200.2L684.2 198.9L676.3 201.4z"/>
<path d="M603.0 196.4L611.0 196.6L607.6 183.9L599.7 182.0z"/>
<path d="M648.9 207.4L656.9 205.0L653.3 203.4L645.3 205.8z"/>
<path d="M547.6 99.1L555.7 96.8L552.3 95.0L544.2 97.4z"/>
<path d="M581.9 117.6L589.9 119.8L586.6 102.8L578.6 102.9z"/>
<path d="M505.0 101.3L513.2 99.8L509.9 98.5L501.7 100.2z"/>
<path d="M691.5 201.4L699.4 199.1L695.7 197.8L687.8 200.2z"/>
<path d="M660.5 206.3L668.4 203.8L664.8 202.5L656.9 205.0z"/>
<path d="M559.1 99.5L567.1 96.8L563.7 93.7L555.7 96.8z"/>
<path d="M585.2 137.3L593.1 140.7L589.9 119.8L581.9 117.6z"/>
<path d="M516.5 100.9L524.6 99.5L521.3 98.2L513.2 99.8z"/>
<path d="M617.9 209.6L625.9 207.7L622.4 203.4L614.4 204.6z"/>
<path d="M703.1 200.3L711.0 198.0L707.2 196.7L699.4 199.1z"/>
<path d="M570.5 103.8L578.6 102.9L575.2 93.8L567.1 96.8z"/>
<path d="M606.5 205.8L614.4 204.6L611.0 196.6L603.0 196.4z"/>
<path d="M588.4 159.0L596.4 162.7L593.1 140.7L585.2 137.3z"/>
<path d="M591.7 179.6L599.7 182.0L596.4 162.7L588.4 159.0z"/>
<path d="M629.5 210.4L637.4 208.1L633.9 205.7L625.9 207.7z"/>
<path d="M528.0 100.6L536.1 99.2L532.7 97.9L524.6 99.5z"/>
<path d="M672.1 205.0L680.0 202.6L676.3 201.4L668.4 203.8z"/>
<path d="M641.0 209.8L648.9 207.4L645.3 205.8L637.4 208.1z"/>
<path d="M595.1 195.7L603.0 196.4L599.7 182.0L591.7 179.6z"/>
<path d="M539.5 100.6L547.6 99.1L544.2 97.4L536.1 99.2z"/>
<path d="M683.7 203.8L691.5 201.4L687.8 200.2L680.0 202.6z"/>
<path d="M573.9 116.3L581.9 117.6L578.6 102.9L570.5 103.8z"/>
<path d="M551.0 101.2L559.1 99.5L555.7 96.8L547.6 99.1z"/>
<path d="M652.6 208.7L660.5 206.3L656.9 205.0L648.9 207.4z"/>
<path d="M508.3 102.1L516.5 100.9L513.2 99.8L505.0 101.3z"/>
<path d="M695.3 202.7L703.1 200.3L699.4 199.1L691.5 201.4z"/>
<path d="M609.9 211.5L617.9 209.6L614.4 204.6L606.5 205.8z"/>
<path d="M562.4 104.8L570.5 103.8L567.1 96.8L559.1 99.5z"/>
<path d="M598.5 206.6L606.5 205.8L603.0 196.4L595.1 195.7z"/>
<path d="M621.5 212.7L629.5 210.4L625.9 207.7L617.9 209.6z"/>
<path d="M577.2 133.8L585.2 137.3L581.9 117.6L573.9 116.3z"/>
<path d="M664.2 207.5L672.1 205.0L668.4 203.8L660.5 206.3z"/>
<path d="M519.8 101.7L528.0 100.6L524.6 99.5L516.5 100.9z"/>
<path d="M580.5 155.2L588.4 159.0L585.2 137.3L577.2 133.8z"/>
<path d="M633.0 212.2L641.0 209.8L637.4 208.1L629.5 210.4z"/>
<path d="M583.7 176.5L591.7 179.6L588.4 159.0L580.5 155.2z"/>
<path d="M531.3 101.6L539.5 100.6L536.1 99.2L528.0 100.6z"/>
<path d="M675.8 206.2L683.7 203.8L680.0 202.6L672.1 205.0z"/>
<path d="M587.1 194.4L595.1 195.7L591.7 179.6L583.7 176.5z"/>
<path d="M644.6 211.2L652.6 208.7L648.9 207.4L641.0 209.8z"/>
<path d="M542.8 102.1L551.0 101.2L547.6 99.1L539.5 100.6z"/>
<path d="M565.8 115.4L573.9 116.3L570.5 103.8L562.4 104.8z"/>
<path d="M687.4 205.0L695.3 202.7L691.5 201.4L683.7 203.8z"/>
<path d="M554.4 105.1L562.4 104.8L559.1 99.5L551.0 101.2z"/>
<path d="M601.9 213.3L609.9 211.5L606.5 205.8L598.5 206.6z"/>
<path d="M613.5 215.0L621.5 212.7L617.9 209.6L609.9 211.5z"/>
<path d="M656.2 209.9L664.2 207.5L660.5 206.3L652.6 208.7z"/>
<path d="M590.4 207.0L598.5 206.6L595.1 195.7L587.1 194.4z"/>
<path d="M511.6 102.6L519.8 101.7L516.5 100.9L508.3 102.1z"/>
<path d="M569.1 130.5L577.2 133.8L573.9 116.3L565.8 115.4z"/>
<path d="M625.0 214.7L633.0 212.2L629.5 210.4L621.5 212.7z"/>
<path d="M667.8 208.6L675.8 206.2L672.1 205.0L664.2 207.5z"/>
<path d="M523.2 102.2L531.3 101.6L528.0 100.6L519.8 101.7z"/>
<path d="M572.4 150.7L580.5 155.2L577.2 133.8L569.1 130.5z"/>
<path d="M636.6 213.7L644.6 211.2L641.0 209.8L633.0 212.2z"/>
<path d="M575.7 172.5L583.7 176.5L580.5 155.2L572.4 150.7z"/>
<path d="M534.7 102.6L542.8 102.1L539.5 100.6L531.3 101.6z"/>
<path d="M679.5 207.4L687.4 205.0L683.7 203.8L675.8 206.2z"/>
<path d="M557.7 113.9L565.8 115.4L562.4 104.8L554.4 105.1z"/>
<path d="M579.0 192.1L587.1 194.4L583.7 176.5L575.7 172.5z"/>
<path d="M593.9 214.8L601.9 213.3L598.5 206.6L590.4 207.0z"/>
<path d="M546.2 104.6L554.4 105.1L551.0 101.2L542.8 102.1z"/>
<path d="M648.2 212.4L656.2 209.9L652.6 208.7L644.6 211.2z"/>
<path d="M605.4 217.2L613.5 215.0L609.9 211.5L601.9 213.3z"/>
<path d="M617.0 217.2L625.0 214.7L621.5 212.7L613.5 215.0z"/>
<path d="M582.4 206.7L590.4 207.0L587.1 194.4L579.0 192.1z"/>
<path d="M659.9 211.1L667.8 208.6L664.2 207.5L656.2 209.9z"/>
<path d="M515.0 102.7L523.2 102.2L519.8 101.7L511.6 102.6z"/>
<path d="M561.1 126.7L569.1 130.5L565.8 115.4L557.7 113.9z"/>
<path d="M628.6 216.2L636.6 213.7L633.0 212.2L625.0 214.7z"/>
<path d="M671.5 209.8L679.5 207.4L675.8 206.2L667.8 208.6z"/>
<path d="M526.5 102.7L534.7 102.6L531.3 101.6L523.2 102.2z"/>
<path d="M564.4 144.6L572.4 150.7L569.1 130.5L561.1 126.7z"/>
<path d="M640.2 214.8L648.2 212.4L644.6 211.2L636.6 213.7z"/>
<path d="M597.4 219.4L605.4 217.2L601.9 213.3L593.9 214.8z"/>
<path d="M549.6 111.8L557.7 113.9L554.4 105.1L546.2 104.6z"/>
<path d="M585.8 216.0L593.9 214.8L590.4 207.0L582.4 206.7z"/>
<path d="M538.1 103.9L546.2 104.6L542.8 102.1L534.7 102.6z"/>
<path d="M567.7 166.9L575.7 172.5L572.4 150.7L564.4 144.6z"/>
<path d="M571.0 188.1L579.0 192.1L575.7 172.5L567.7 166.9z"/>
<path d="M609.0 219.6L617.0 217.2L613.5 215.0L605.4 217.2z"/>
<path d="M651.9 213.5L659.9 211.1L656.2 209.9L648.2 212.4z"/>
<path d="M574.3 205.1L582.4 206.7L579.0 192.1L571.0 188.1z"/>
<path d="M620.6 218.7L628.6 216.2L625.0 214.7L617.0 217.2z"/>
<path d="M663.5 212.1L671.5 209.8L667.8 208.6L659.9 211.1z"/>
<path d="M553.0 122.3L561.1 126.7L557.7 113.9L549.6 111.8z"/>
<path d="M518.3 102.7L526.5 102.7L523.2 102.2L515.0 102.7z"/>
<path d="M632.2 217.3L640.2 214.8L636.6 213.7L628.6 216.2z"/>
<path d="M589.3 221.4L597.4 219.4L593.9 214.8L585.8 216.0z"/>
<path d="M577.7 216.4L585.8 216.0L582.4 206.7L574.3 205.1z"/>
<path d="M529.9 103.2L538.1 103.9L534.7 102.6L526.5 102.7z"/>
<path d="M541.5 109.4L549.6 111.8L546.2 104.6L538.1 103.9z"/>
<path d="M600.9 222.1L609.0 219.6L605.4 217.2L597.4 219.4z"/>
<path d="M643.9 215.9L651.9 213.5L648.2 212.4L640.2 214.8z"/>
<path d="M556.3 137.5L564.4 144.6L561.1 126.7L553.0 122.3z"/>
<path d="M612.5 221.2L620.6 218.7L617.0 217.2L609.0 219.6z"/>
<path d="M559.6 158.1L567.7 166.9L564.4 144.6L556.3 137.5z"/>
<path d="M655.5 214.5L663.5 212.1L659.9 211.1L651.9 213.5z"/>
<path d="M562.9 181.2L571.0 188.1L567.7 166.9L559.6 158.1z"/>
<path d="M566.2 200.9L574.3 205.1L571.0 188.1L562.9 181.2z"/>
<path d="M624.2 219.8L632.2 217.3L628.6 216.2L620.6 218.7z"/>
<path d="M581.2 223.1L589.3 221.4L585.8 216.0L577.7 216.4z"/>
<path d="M544.8 117.6L553.0 122.3L549.6 111.8L541.5 109.4z"/>
<path d="M592.8 224.5L600.9 222.1L597.4 219.4L589.3 221.4z"/>
<path d="M635.8 218.3L643.9 215.9L640.2 214.8L632.2 217.3z"/>
<path d="M521.7 102.5L529.9 103.2L526.5 102.7L518.3 102.7z"/>
<path d="M569.6 215.0L577.7 216.4L574.3 205.1L566.2 200.9z"/>
<path d="M533.3 106.9L541.5 109.4L538.1 103.9L529.9 103.2z"/>
<path d="M604.4 223.8L612.5 221.2L609.0 219.6L600.9 222.1z"/>
<path d="M647.5 216.9L655.5 214.5L651.9 213.5L643.9 215.9z"/>
<path d="M548.2 129.6L556.3 137.5L553.0 122.3L544.8 117.6z"/>
<path d="M616.1 222.4L624.2 219.8L620.6 218.7L612.5 221.2z"/>
<path d="M573.0 223.5L581.2 223.1L577.7 216.4L569.6 215.0z"/>
<path d="M584.6 226.8L592.8 224.5L589.3 221.4L581.2 223.1z"/>
<path d="M627.8 220.8L635.8 218.3L632.2 217.3L624.2 219.8z"/>
<path d="M551.5 146.8L559.6 158.1L556.3 137.5L548.2 129.6z"/>
<path d="M554.8 168.8L562.9 181.2L559.6 158.1L551.5 146.8z"/>
<path d="M536.7 113.3L544.8 117.6L541.5 109.4L533.3 106.9z"/>
<path d="M596.3 226.3L604.4 223.8L600.9 222.1L592.8 224.5z"/>
<path d="M558.2 192.0L566.2 200.9L562.9 181.2L554.8 168.8z"/>
<path d="M525.1 104.4L533.3 106.9L529.9 103.2L521.7 102.5z"/>
<path d="M639.5 219.3L647.5 216.9L643.9 215.9L635.8 218.3z"/>
<path d="M561.5 209.6L569.6 215.0L566.2 200.9L558.2 192.0z"/>
<path d="M608.0 224.9L616.1 222.4L612.5 221.2L604.4 223.8z"/>
<path d="M576.5 228.3L584.6 226.8L581.2 223.1L573.0 223.5z"/>
<path d="M619.7 223.3L627.8 220.8L624.2 219.8L616.1 222.4z"/>
<path d="M540.0 122.4L548.2 129.6L544.8 117.6L536.7 113.3z"/>
<path d="M564.9 221.0L573.0 223.5L569.6 215.0L561.5 209.6z"/>
<path d="M588.2 228.8L596.3 226.3L592.8 224.5L584.6 226.8z"/>
<path d="M631.4 221.7L639.5 219.3L635.8 218.3L627.8 220.8z"/>
<path d="M528.4 109.6L536.7 113.3L533.3 106.9L525.1 104.4z"/>
<path d="M599.9 227.5L608.0 224.9L604.4 223.8L596.3 226.3z"/>
<path d="M543.4 135.8L551.5 146.8L548.2 129.6L540.0 122.4z"/>
<path d="M611.6 225.8L619.7 223.3L616.1 222.4L608.0 224.9z"/>
<path d="M546.7 154.5L554.8 168.8L551.5 146.8L543.4 135.8z"/>
<path d="M568.3 227.6L576.5 228.3L573.0 223.5L564.9 221.0z"/>
<path d="M550.1 176.8L558.2 192.0L554.8 168.8L546.7 154.5z"/>
<path d="M580.0 230.9L588.2 228.8L584.6 226.8L576.5 228.3z"/>
<path d="M553.4 198.0L561.5 209.6L558.2 192.0L550.1 176.8z"/>
<path d="M623.3 224.1L631.4 221.7L627.8 220.8L619.7 223.3z"/>
<path d="M531.8 116.5L540.0 122.4L536.7 113.3L528.4 109.6z"/>
<path d="M591.7 230.0L599.9 227.5L596.3 226.3L588.2 228.8z"/>
<path d="M556.7 214.4L564.9 221.0L561.5 209.6L553.4 198.0z"/>
<path d="M603.4 228.3L611.6 225.8L608.0 224.9L599.9 227.5z"/>
<path d="M571.8 231.4L580.0 230.9L576.5 228.3L568.3 227.6z"/>
<path d="M535.2 126.6L543.4 135.8L540.0 122.4L531.8 116.5z"/>
<path d="M615.2 226.5L623.3 224.1L619.7 223.3L611.6 225.8z"/>
<path d="M560.2 224.0L568.3 227.6L564.9 221.0L556.7 214.4z"/>
<path d="M583.5 232.3L591.7 230.0L588.2 228.8L580.0 230.9z"/>
<path d="M538.6 141.4L546.7 154.5L543.4 135.8L535.2 126.6z"/>
<path d="M595.3 230.8L603.4 228.3L599.9 227.5L591.7 230.0z"/>
<path d="M541.9 161.3L550.1 176.8L546.7 154.5L538.6 141.4z"/>
<path d="M545.2 183.0L553.4 198.0L550.1 176.8L541.9 161.3z"/>
<path d="M607.0 228.9L615.2 226.5L611.6 225.8L603.4 228.3z"/>
<path d="M563.6 229.8L571.8 231.4L568.3 227.6L560.2 224.0z"/>
<path d="M548.6 201.9L556.7 214.4L553.4 198.0L545.2 183.0z"/>
<path d="M575.3 233.6L583.5 232.3L580.0 230.9L571.8 231.4z"/>
<path d="M587.1 233.2L595.3 230.8L591.7 230.0L583.5 232.3z"/>
<path d="M552.0 215.6L560.2 224.0L556.7 214.4L548.6 201.9z"/>
<path d="M598.8 231.4L607.0 228.9L603.4 228.3L595.3 230.8z"/>
<path d="M567.1 233.6L575.3 233.6L571.8 231.4L563.6 229.8z"/>
<path d="M578.9 235.1L587.1 233.2L583.5 232.3L575.3 233.6z"/>
<path d="M555.4 225.0L563.6 229.8L560.2 224.0L552.0 215.6z"/>
<path d="M590.6 233.8L598.8 231.4L595.3 230.8L587.1 233.2z"/>
<path d="M558.9 231.4L567.1 233.6L563.6 229.8L555.4 225.0z"/>
<path d="M570.6 236.3L578.9 235.1L575.3 233.6L567.1 233.6z"/>
<path d="M582.4 236.2L590.6 233.8L587.1 233.2L578.9 235.1z"/>
<path d="M562.4 236.5L570.6 236.3L567.1 233.6L558.9 231.4z"/>
<path d="M574.1 238.5L582.4 236.2L578.9 235.1L570.6 236.3z"/>
<path d="M565.8 240.9L574.1 238.5L570.6 236.3L562.4 236.5z"/></g>
<g><path class="ax" d="M485.94 498.28L485.90 376.14"/>
<path class="ax2" d="M485.64 498.28L561.91 585.69L758.65 520.09"/>
<path class="tk" d="M485.9 471.0h-2.5M485.9 433.4h-2.5M485.9 395.4h-2.5M568.3 583.6l0.8 2M613.3 568.5l0.8 2M657.5 553.8l0.8 2M700.9 539.4l0.8 2M743.4 525.2l0.8 2M550.2 572.2l-2 0.6M533.6 553.3l-2 0.6M517.4 534.7l-2 0.6M501.6 516.5l-2 0.6M486.0 498.7l-2 0.6"/>
<text x="446.3" y="334.4" font-size="23">d)</text>
<text transform="translate(469.5 471.4) rotate(-90.0)" font-size="11.2" text-anchor="middle" dominant-baseline="central">0.120</text>
<text transform="translate(469.5 433.8) rotate(-90.0)" font-size="11.2" text-anchor="middle" dominant-baseline="central">0.240</text>
<text transform="translate(469.4 395.8) rotate(-90.0)" font-size="11.2" text-anchor="middle" dominant-baseline="central">0.360</text>
<text transform="translate(577.3 597.0) rotate(-18.4)" font-size="12.0" text-anchor="middle" dominant-baseline="central">16</text>
<text transform="translate(622.3 582.0) rotate(-18.4)" font-size="12.0" text-anchor="middle" dominant-baseline="central">24</text>
<text transform="translate(666.5 567.3) rotate(-18.4)" font-size="12.0" text-anchor="middle" dominant-baseline="central">32</text>
<text transform="translate(709.8 552.8) rotate(-18.4)" font-size="12.0" text-anchor="middle" dominant-baseline="central">40</text>
<text transform="translate(750.4 539.1) rotate(-18.4)" font-size="12.0" text-anchor="middle" dominant-baseline="central">48</text>
<text transform="translate(533.7 578.2) rotate(48.9)" font-size="12.0" text-anchor="middle" dominant-baseline="central">150</text>
<text transform="translate(519.2 562.1) rotate(48.9)" font-size="12.0" text-anchor="middle" dominant-baseline="central">165</text>
<text transform="translate(504.3 547.0) rotate(48.9)" font-size="12.0" text-anchor="middle" dominant-baseline="central">180</text>
<text transform="translate(488.4 527.2) rotate(48.9)" font-size="12.0" text-anchor="middle" dominant-baseline="central">195</text>
<text transform="translate(473.2 508.8) rotate(48.9)" font-size="12.0" text-anchor="middle" dominant-baseline="central">210</text>
<text transform="translate(444.2 439.1) rotate(-90.0)" font-size="14.3" font-weight="bold" text-anchor="middle" dominant-baseline="central">Predictive value</text>
<text transform="translate(478.4 544.5) rotate(48.9)" font-size="14.3" font-weight="bold" text-anchor="middle" dominant-baseline="central">Total Length</text>
<text transform="translate(669.5 587.6) rotate(-18.4)" font-size="14.8" font-weight="bold" text-anchor="middle" dominant-baseline="central">Number of tufts</text></g>
<g class="m"><path d="M683.1 434.0L690.0 443.6L686.9 430.0L680.2 412.3z"/>
<path d="M680.2 412.3L686.9 430.0L683.9 407.8L677.3 385.6z"/>
<path d="M677.3 385.6L683.9 407.8L681.2 379.8L674.4 361.7z"/>
<path d="M686.2 448.1L693.2 451.7L690.0 443.6L683.1 434.0z"/>
<path d="M674.4 361.7L681.2 379.8L678.3 354.8L671.4 345.4z"/>
<path d="M689.4 456.6L696.5 457.0L693.2 451.7L686.2 448.1z"/>
<path d="M676.3 418.5L683.1 434.0L680.2 412.3L673.4 393.0z"/>
<path d="M679.3 439.6L686.2 448.1L683.1 434.0L676.3 418.5z"/>
<path d="M667.5 353.0L674.4 361.7L671.4 345.4L664.3 342.6z"/>
<path d="M692.7 462.2L699.8 461.1L696.5 457.0L689.4 456.6z"/>
<path d="M673.4 393.0L680.2 412.3L677.3 385.6L670.5 369.6z"/>
<path d="M670.5 369.6L677.3 385.6L674.4 361.7L667.5 353.0z"/>
<path d="M682.4 453.4L689.4 456.6L686.2 448.1L679.3 439.6z"/>
<path d="M696.0 466.5L703.1 464.7L699.8 461.1L692.7 462.2z"/>
<path d="M685.6 461.9L692.7 462.2L689.4 456.6L682.4 453.4z"/>
<path d="M660.4 350.0L667.5 353.0L664.3 342.6L657.2 342.8z"/>
<path d="M672.4 427.2L679.3 439.6L676.3 418.5L669.5 402.1z"/>
<path d="M663.5 361.1L670.5 369.6L667.5 353.0L660.4 350.0z"/>
<path d="M675.4 446.6L682.4 453.4L679.3 439.6L672.4 427.2z"/>
<path d="M669.5 402.1L676.3 418.5L673.4 393.0L666.6 378.6z"/>
<path d="M688.9 467.6L696.0 466.5L692.7 462.2L685.6 461.9z"/>
<path d="M666.6 378.6L673.4 393.0L670.5 369.6L663.5 361.1z"/>
<path d="M699.4 470.2L706.5 468.2L703.1 464.7L696.0 466.5z"/>
<path d="M653.2 349.8L660.4 350.0L657.2 342.8L650.0 344.3z"/>
<path d="M678.5 459.4L685.6 461.9L682.4 453.4L675.4 446.6z"/>
<path d="M692.2 472.0L699.4 470.2L696.0 466.5L688.9 467.6z"/>
<path d="M681.8 467.6L688.9 467.6L685.6 461.9L678.5 459.4z"/>
<path d="M656.4 357.7L663.5 361.1L660.4 350.0L653.2 349.8z"/>
<path d="M702.7 473.8L709.9 471.6L706.5 468.2L699.4 470.2z"/>
<path d="M646.0 350.9L653.2 349.8L650.0 344.3L642.7 346.3z"/>
<path d="M668.4 437.6L675.4 446.6L672.4 427.2L665.5 414.3z"/>
<path d="M659.5 370.3L666.6 378.6L663.5 361.1L656.4 357.7z"/>
<path d="M665.5 414.3L672.4 427.2L669.5 402.1L662.6 389.4z"/>
<path d="M671.5 454.8L678.5 459.4L675.4 446.6L668.4 437.6z"/>
<path d="M662.6 389.4L669.5 402.1L666.6 378.6L659.5 370.3z"/>
<path d="M685.1 473.2L692.2 472.0L688.9 467.6L681.8 467.6z"/>
<path d="M695.6 475.8L702.7 473.8L699.4 470.2L692.2 472.0z"/>
<path d="M638.7 352.5L646.0 350.9L642.7 346.3L635.5 348.5z"/>
<path d="M649.2 357.0L656.4 357.7L653.2 349.8L646.0 350.9z"/>
<path d="M674.6 466.2L681.8 467.6L678.5 459.4L671.5 454.8z"/>
<path d="M706.2 476.2L713.3 473.9L709.9 471.6L702.7 473.8z"/>
<path d="M652.4 366.3L659.5 370.3L656.4 357.7L649.2 357.0z"/>
<path d="M688.4 477.6L695.6 475.8L692.2 472.0L685.1 473.2z"/>
<path d="M677.9 473.6L685.1 473.2L681.8 467.6L674.6 466.2z"/>
<path d="M631.4 354.2L638.7 352.5L635.5 348.5L628.2 350.6z"/>
<path d="M642.0 357.4L649.2 357.0L646.0 350.9L638.7 352.5z"/>
<path d="M664.4 449.1L671.5 454.8L668.4 437.6L661.4 428.4z"/>
<path d="M661.4 428.4L668.4 437.6L665.5 414.3L658.5 404.0z"/>
<path d="M699.0 478.4L706.2 476.2L702.7 473.8L695.6 475.8z"/>
<path d="M655.5 381.3L662.6 389.4L659.5 370.3L652.4 366.3z"/>
<path d="M658.5 404.0L665.5 414.3L662.6 389.4L655.5 381.3z"/>
<path d="M667.5 463.7L674.6 466.2L671.5 454.8L664.4 449.1z"/>
<path d="M709.6 477.4L716.8 475.1L713.3 473.9L706.2 476.2z"/>
<path d="M624.1 355.9L631.4 354.2L628.2 350.6L620.9 352.6z"/>
<path d="M681.2 479.0L688.4 477.6L685.1 473.2L677.9 473.6z"/>
<path d="M645.2 364.7L652.4 366.3L649.2 357.0L642.0 357.4z"/>
<path d="M634.7 358.2L642.0 357.4L638.7 352.5L631.4 354.2z"/>
<path d="M670.7 473.4L677.9 473.6L674.6 466.2L667.5 463.7z"/>
<path d="M691.8 480.5L699.0 478.4L695.6 475.8L688.4 477.6z"/>
<path d="M702.4 479.6L709.6 477.4L706.2 476.2L699.0 478.4z"/>
<path d="M648.3 376.4L655.5 381.3L652.4 366.3L645.2 364.7z"/>
<path d="M657.3 443.0L664.4 449.1L661.4 428.4L654.3 420.3z"/>
<path d="M713.1 478.5L720.3 476.3L716.8 475.1L709.6 477.4z"/>
<path d="M654.3 420.3L661.4 428.4L658.5 404.0L651.4 396.4z"/>
<path d="M660.3 460.5L667.5 463.7L664.4 449.1L657.3 443.0z"/>
<path d="M616.8 357.5L624.1 355.9L620.9 352.6L613.6 354.5z"/>
<path d="M651.4 396.4L658.5 404.0L655.5 381.3L648.3 376.4z"/>
<path d="M674.0 480.0L681.2 479.0L677.9 473.6L670.7 473.4z"/>
<path d="M627.4 359.0L634.7 358.2L631.4 354.2L624.1 355.9z"/>
<path d="M637.9 363.7L645.2 364.7L642.0 357.4L634.7 358.2z"/>
<path d="M684.6 482.5L691.8 480.5L688.4 477.6L681.2 479.0z"/>
<path d="M663.5 472.5L670.7 473.4L667.5 463.7L660.3 460.5z"/>
<path d="M695.2 481.8L702.4 479.6L699.0 478.4L691.8 480.5z"/>
<path d="M705.9 480.8L713.1 478.5L709.6 477.4L702.4 479.6z"/>
<path d="M609.5 359.4L616.8 357.5L613.6 354.5L606.2 356.5z"/>
<path d="M641.1 372.9L648.3 376.4L645.2 364.7L637.9 363.7z"/>
<path d="M620.1 360.0L627.4 359.0L624.1 355.9L616.8 357.5z"/>
<path d="M716.6 479.7L723.8 477.5L720.3 476.3L713.1 478.5z"/>
<path d="M677.3 484.2L684.6 482.5L681.2 479.0L674.0 480.0z"/>
<path d="M666.7 480.6L674.0 480.0L670.7 473.4L663.5 472.5z"/>
<path d="M630.7 363.0L637.9 363.7L634.7 358.2L627.4 359.0z"/>
<path d="M650.1 436.6L657.3 443.0L654.3 420.3L647.2 413.0z"/>
<path d="M653.2 456.6L660.3 460.5L657.3 443.0L650.1 436.6z"/>
<path d="M688.0 484.0L695.2 481.8L691.8 480.5L684.6 482.5z"/>
<path d="M644.2 390.4L651.4 396.4L648.3 376.4L641.1 372.9z"/>
<path d="M647.2 413.0L654.3 420.3L651.4 396.4L644.2 390.4z"/>
<path d="M656.3 471.0L663.5 472.5L660.3 460.5L653.2 456.6z"/>
<path d="M698.7 483.0L705.9 480.8L702.4 479.6L695.2 481.8z"/>
<path d="M602.1 361.4L609.5 359.4L606.2 356.5L598.9 358.5z"/>
<path d="M709.4 482.0L716.6 479.7L713.1 478.5L705.9 480.8z"/>
<path d="M612.7 361.7L620.1 360.0L616.8 357.5L609.5 359.4z"/>
<path d="M670.1 485.8L677.3 484.2L674.0 480.0L666.7 480.6z"/>
<path d="M633.9 369.9L641.1 372.9L637.9 363.7L630.7 363.0z"/>
<path d="M623.3 363.0L630.7 363.0L627.4 359.0L620.1 360.0z"/>
<path d="M659.5 480.7L666.7 480.6L663.5 472.5L656.3 471.0z"/>
<path d="M680.7 486.0L688.0 484.0L684.6 482.5L677.3 484.2z"/>
<path d="M720.1 480.9L727.3 478.7L723.8 477.5L716.6 479.7z"/>
<path d="M691.4 485.3L698.7 483.0L695.2 481.8L688.0 484.0z"/>
<path d="M646.0 451.7L653.2 456.6L650.1 436.6L643.0 429.8z"/>
<path d="M637.0 385.2L644.2 390.4L641.1 372.9L633.9 369.9z"/>
<path d="M643.0 429.8L650.1 436.6L647.2 413.0L640.0 406.1z"/>
<path d="M594.7 363.6L602.1 361.4L598.9 358.5L591.5 360.6z"/>
<path d="M640.0 406.1L647.2 413.0L644.2 390.4L637.0 385.2z"/>
<path d="M649.1 468.5L656.3 471.0L653.2 456.6L646.0 451.7z"/>
<path d="M702.1 484.2L709.4 482.0L705.9 480.8L698.7 483.0z"/>
<path d="M605.3 363.6L612.7 361.7L609.5 359.4L602.1 361.4z"/>
<path d="M662.8 487.2L670.1 485.8L666.7 480.6L659.5 480.7z"/>
<path d="M616.0 364.1L623.3 363.0L620.1 360.0L612.7 361.7z"/>
<path d="M673.4 488.0L680.7 486.0L677.3 484.2L670.1 485.8z"/>
<path d="M626.6 367.9L633.9 369.9L630.7 363.0L623.3 363.0z"/>
<path d="M712.8 483.1L720.1 480.9L716.6 479.7L709.4 482.0z"/>
<path d="M652.2 480.2L659.5 480.7L656.3 471.0L649.1 468.5z"/>
<path d="M684.1 487.5L691.4 485.3L688.0 484.0L680.7 486.0z"/>
<path d="M587.3 365.8L594.7 363.6L591.5 360.6L584.1 362.6z"/>
<path d="M723.6 482.1L730.8 479.9L727.3 478.7L720.1 480.9z"/>
<path d="M694.9 486.4L702.1 484.2L698.7 483.0L691.4 485.3z"/>
<path d="M597.9 366.1L605.3 363.6L602.1 361.4L594.7 363.6z"/>
<path d="M629.7 381.0L637.0 385.2L633.9 369.9L626.6 367.9z"/>
<path d="M638.8 446.2L646.0 451.7L643.0 429.8L635.8 423.1z"/>
<path d="M655.5 488.2L662.8 487.2L659.5 480.7L652.2 480.2z"/>
<path d="M641.8 465.3L649.1 468.5L646.0 451.7L638.8 446.2z"/>
<path d="M608.6 365.9L616.0 364.1L612.7 361.7L605.3 363.6z"/>
<path d="M666.1 489.9L673.4 488.0L670.1 485.8L662.8 487.2z"/>
<path d="M635.8 423.1L643.0 429.8L640.0 406.1L632.8 400.0z"/>
<path d="M632.8 400.0L640.0 406.1L637.0 385.2L629.7 381.0z"/>
<path d="M705.6 485.3L712.8 483.1L709.4 482.0L702.1 484.2z"/>
<path d="M619.2 368.0L626.6 367.9L623.3 363.0L616.0 364.1z"/>
<path d="M676.9 489.6L684.1 487.5L680.7 486.0L673.4 488.0z"/>
<path d="M645.0 479.1L652.2 480.2L649.1 468.5L641.8 465.3z"/>
<path d="M579.8 368.0L587.3 365.8L584.1 362.6L576.7 364.7z"/>
<path d="M716.3 484.3L723.6 482.1L720.1 480.9L712.8 483.1z"/>
<path d="M590.5 368.8L597.9 366.1L594.7 363.6L587.3 365.8z"/>
<path d="M687.6 488.7L694.9 486.4L691.4 485.3L684.1 487.5z"/>
<path d="M727.1 483.3L734.3 481.2L730.8 479.9L723.6 482.1z"/>
<path d="M601.2 368.7L608.6 365.9L605.3 363.6L597.9 366.1z"/>
<path d="M698.3 487.6L705.6 485.3L702.1 484.2L694.9 486.4z"/>
<path d="M622.4 378.1L629.7 381.0L626.6 367.9L619.2 368.0z"/>
<path d="M658.8 491.6L666.1 489.9L662.8 487.2L655.5 488.2z"/>
<path d="M648.2 488.6L655.5 488.2L652.2 480.2L645.0 479.1z"/>
<path d="M611.9 369.2L619.2 368.0L616.0 364.1L608.6 365.9z"/>
<path d="M669.5 491.7L676.9 489.6L673.4 488.0L666.1 489.9z"/>
<path d="M572.4 370.0L579.8 368.0L576.7 364.7L569.2 366.8z"/>
<path d="M709.1 486.5L716.3 484.3L712.8 483.1L705.6 485.3z"/>
<path d="M634.5 461.5L641.8 465.3L638.8 446.2L631.5 440.7z"/>
<path d="M631.5 440.7L638.8 446.2L635.8 423.1L628.5 417.1z"/>
<path d="M625.5 395.3L632.8 400.0L629.7 381.0L622.4 378.1z"/>
<path d="M628.5 417.1L635.8 423.1L632.8 400.0L625.5 395.3z"/>
<path d="M583.0 371.2L590.5 368.8L587.3 365.8L579.8 368.0z"/>
<path d="M680.3 490.9L687.6 488.7L684.1 487.5L676.9 489.6z"/>
<path d="M637.7 477.4L645.0 479.1L641.8 465.3L634.5 461.5z"/>
<path d="M719.9 485.5L727.1 483.3L723.6 482.1L716.3 484.3z"/>
<path d="M593.7 371.9L601.2 368.7L597.9 366.1L590.5 368.8z"/>
<path d="M691.0 489.8L698.3 487.6L694.9 486.4L687.6 488.7z"/>
<path d="M651.5 493.1L658.8 491.6L655.5 488.2L648.2 488.6z"/>
<path d="M730.7 484.5L737.9 482.4L734.3 481.2L727.1 483.3z"/>
<path d="M604.4 372.2L611.9 369.2L608.6 365.9L601.2 368.7z"/>
<path d="M615.1 376.8L622.4 378.1L619.2 368.0L611.9 369.2z"/>
<path d="M640.8 488.5L648.2 488.6L645.0 479.1L637.7 477.4z"/>
<path d="M662.2 493.8L669.5 491.7L666.1 489.9L658.8 491.6z"/>
<path d="M564.9 372.0L572.4 370.0L569.2 366.8L561.7 368.9z"/>
<path d="M701.8 488.7L709.1 486.5L705.6 485.3L698.3 487.6z"/>
<path d="M575.6 373.1L583.0 371.2L579.8 368.0L572.4 370.0z"/>
<path d="M673.0 493.1L680.3 490.9L676.9 489.6L669.5 491.7z"/>
<path d="M712.6 487.6L719.9 485.5L716.3 484.3L709.1 486.5z"/>
<path d="M618.2 392.0L625.5 395.3L622.4 378.1L615.1 376.8z"/>
<path d="M586.3 374.6L593.7 371.9L590.5 368.8L583.0 371.2z"/>
<path d="M627.2 457.5L634.5 461.5L631.5 440.7L624.2 435.4z"/>
<path d="M624.2 435.4L631.5 440.7L628.5 417.1L621.2 412.2z"/>
<path d="M621.2 412.2L628.5 417.1L625.5 395.3L618.2 392.0z"/>
<path d="M683.7 492.1L691.0 489.8L687.6 488.7L680.3 490.9z"/>
<path d="M630.3 475.2L637.7 477.4L634.5 461.5L627.2 457.5z"/>
<path d="M596.9 375.9L604.4 372.2L601.2 368.7L593.7 371.9z"/>
<path d="M723.4 486.6L730.7 484.5L727.1 483.3L719.9 485.5z"/>
<path d="M644.1 494.4L651.5 493.1L648.2 488.6L640.8 488.5z"/>
<path d="M607.6 378.1L615.1 376.8L611.9 369.2L604.4 372.2z"/>
<path d="M654.9 495.7L662.2 493.8L658.8 491.6L651.5 493.1z"/>
<path d="M557.4 374.0L564.9 372.0L561.7 368.9L554.2 371.0z"/>
<path d="M694.5 490.9L701.8 488.7L698.3 487.6L691.0 489.8z"/>
<path d="M633.5 488.0L640.8 488.5L637.7 477.4L630.3 475.2z"/>
<path d="M734.2 485.7L741.4 483.6L737.9 482.4L730.7 484.5z"/>
<path d="M568.1 374.9L575.6 373.1L572.4 370.0L564.9 372.0z"/>
<path d="M665.6 495.3L673.0 493.1L669.5 491.7L662.2 493.8z"/>
<path d="M705.3 489.8L712.6 487.6L709.1 486.5L701.8 488.7z"/>
<path d="M578.8 376.4L586.3 374.6L583.0 371.2L575.6 373.1z"/>
<path d="M610.8 391.3L618.2 392.0L615.1 376.8L607.6 378.1z"/>
<path d="M676.4 494.3L683.7 492.1L680.3 490.9L673.0 493.1z"/>
<path d="M589.5 378.8L596.9 375.9L593.7 371.9L586.3 374.6z"/>
<path d="M716.1 488.8L723.4 486.6L719.9 485.5L712.6 487.6z"/>
<path d="M600.2 381.7L607.6 378.1L604.4 372.2L596.9 375.9z"/>
<path d="M619.9 453.7L627.2 457.5L624.2 435.4L616.9 431.3z"/>
<path d="M636.8 495.4L644.1 494.4L640.8 488.5L633.5 488.0z"/>
<path d="M613.9 409.4L621.2 412.2L618.2 392.0L610.8 391.3z"/>
<path d="M616.9 431.3L624.2 435.4L621.2 412.2L613.9 409.4z"/>
<path d="M549.8 376.1L557.4 374.0L554.2 371.0L546.7 373.2z"/>
<path d="M623.0 472.8L630.3 475.2L627.2 457.5L619.9 453.7z"/>
<path d="M647.5 497.5L654.9 495.7L651.5 493.1L644.1 494.4z"/>
<path d="M687.2 493.2L694.5 490.9L691.0 489.8L683.7 492.1z"/>
<path d="M727.0 487.8L734.2 485.7L730.7 484.5L723.4 486.6z"/>
<path d="M560.6 376.6L568.1 374.9L564.9 372.0L557.4 374.0z"/>
<path d="M658.2 497.5L665.6 495.3L662.2 493.8L654.9 495.7z"/>
<path d="M626.1 487.1L633.5 488.0L630.3 475.2L623.0 472.8z"/>
<path d="M698.0 492.0L705.3 489.8L701.8 488.7L694.5 490.9z"/>
<path d="M571.3 377.7L578.8 376.4L575.6 373.1L568.1 374.9z"/>
<path d="M737.8 486.9L745.0 484.9L741.4 483.6L734.2 485.7z"/>
<path d="M582.0 380.2L589.5 378.8L586.3 374.6L578.8 376.4z"/>
<path d="M669.0 496.6L676.4 494.3L673.0 493.1L665.6 495.3z"/>
<path d="M603.3 392.4L610.8 391.3L607.6 378.1L600.2 381.7z"/>
<path d="M592.7 384.5L600.2 381.7L596.9 375.9L589.5 378.8z"/>
<path d="M708.8 490.9L716.1 488.8L712.6 487.6L705.3 489.8z"/>
<path d="M542.3 378.2L549.8 376.1L546.7 373.2L539.1 375.3z"/>
<path d="M679.9 495.4L687.2 493.2L683.7 492.1L676.4 494.3z"/>
<path d="M640.1 499.2L647.5 497.5L644.1 494.4L636.8 495.4z"/>
<path d="M629.4 496.2L636.8 495.4L633.5 488.0L626.1 487.1z"/>
<path d="M606.4 408.2L613.9 409.4L610.8 391.3L603.3 392.4z"/>
<path d="M719.7 489.9L727.0 487.8L723.4 486.6L716.1 488.8z"/>
<path d="M553.0 378.5L560.6 376.6L557.4 374.0L549.8 376.1z"/>
<path d="M650.9 499.6L658.2 497.5L654.9 495.7L647.5 497.5z"/>
<path d="M612.5 450.3L619.9 453.7L616.9 431.3L609.5 428.4z"/>
<path d="M609.5 428.4L616.9 431.3L613.9 409.4L606.4 408.2z"/>
<path d="M615.6 470.3L623.0 472.8L619.9 453.7L612.5 450.3z"/>
<path d="M690.7 494.2L698.0 492.0L694.5 490.9L687.2 493.2z"/>
<path d="M563.7 379.1L571.3 377.7L568.1 374.9L560.6 376.6z"/>
<path d="M730.5 489.0L737.8 486.9L734.2 485.7L727.0 487.8z"/>
<path d="M618.7 486.1L626.1 487.1L623.0 472.8L615.6 470.3z"/>
<path d="M661.7 498.8L669.0 496.6L665.6 495.3L658.2 497.5z"/>
<path d="M595.9 393.5L603.3 392.4L600.2 381.7L592.7 384.5z"/>
<path d="M574.5 380.9L582.0 380.2L578.8 376.4L571.3 377.7z"/>
<path d="M585.2 385.2L592.7 384.5L589.5 378.8L582.0 380.2z"/>
<path d="M701.5 493.1L708.8 490.9L705.3 489.8L698.0 492.0z"/>
<path d="M741.4 488.1L748.6 486.1L745.0 484.9L737.8 486.9z"/>
<path d="M534.7 380.5L542.3 378.2L539.1 375.3L531.6 377.5z"/>
<path d="M672.5 497.7L679.9 495.4L676.4 494.3L669.0 496.6z"/>
<path d="M632.7 500.8L640.1 499.2L636.8 495.4L629.4 496.2z"/>
<path d="M712.4 492.0L719.7 489.9L716.1 488.8L708.8 490.9z"/>
<path d="M621.9 496.9L629.4 496.2L626.1 487.1L618.7 486.1z"/>
<path d="M545.4 380.7L553.0 378.5L549.8 376.1L542.3 378.2z"/>
<path d="M599.0 407.3L606.4 408.2L603.3 392.4L595.9 393.5z"/>
<path d="M643.4 501.6L650.9 499.6L647.5 497.5L640.1 499.2z"/>
<path d="M683.3 496.5L690.7 494.2L687.2 493.2L679.9 495.4z"/>
<path d="M556.2 380.7L563.7 379.1L560.6 376.6L553.0 378.5z"/>
<path d="M723.2 491.1L730.5 489.0L727.0 487.8L719.7 489.9z"/>
<path d="M602.1 425.6L609.5 428.4L606.4 408.2L599.0 407.3z"/>
<path d="M654.3 501.0L661.7 498.8L658.2 497.5L650.9 499.6z"/>
<path d="M605.1 446.7L612.5 450.3L609.5 428.4L602.1 425.6z"/>
<path d="M608.2 467.3L615.6 470.3L612.5 450.3L605.1 446.7z"/>
<path d="M588.4 392.6L595.9 393.5L592.7 384.5L585.2 385.2z"/>
<path d="M566.9 381.6L574.5 380.9L571.3 377.7L563.7 379.1z"/>
<path d="M694.2 495.3L701.5 493.1L698.0 492.0L690.7 494.2z"/>
<path d="M577.7 384.9L585.2 385.2L582.0 380.2L574.5 380.9z"/>
<path d="M734.1 490.2L741.4 488.1L737.8 486.9L730.5 489.0z"/>
<path d="M611.3 484.5L618.7 486.1L615.6 470.3L608.2 467.3z"/>
<path d="M527.1 382.8L534.7 380.5L531.6 377.5L524.0 379.6z"/>
<path d="M665.1 499.9L672.5 497.7L669.0 496.6L661.7 498.8z"/>
<path d="M705.0 494.2L712.4 492.0L708.8 490.9L701.5 493.1z"/>
<path d="M625.2 502.3L632.7 500.8L629.4 496.2L621.9 496.9z"/>
<path d="M537.8 383.2L545.4 380.7L542.3 378.2L534.7 380.5z"/>
<path d="M745.0 489.4L752.2 487.4L748.6 486.1L741.4 488.1z"/>
<path d="M636.0 503.6L643.4 501.6L640.1 499.2L632.7 500.8z"/>
<path d="M675.9 498.7L683.3 496.5L679.9 495.4L672.5 497.7z"/>
<path d="M614.5 497.1L621.9 496.9L618.7 486.1L611.3 484.5z"/>
<path d="M591.5 404.8L599.0 407.3L595.9 393.5L588.4 392.6z"/>
<path d="M548.6 382.9L556.2 380.7L553.0 378.5L545.4 380.7z"/>
<path d="M715.9 493.2L723.2 491.1L719.7 489.9L712.4 492.0z"/>
<path d="M646.8 503.2L654.3 501.0L650.9 499.6L643.4 501.6z"/>
<path d="M686.8 497.5L694.2 495.3L690.7 494.2L683.3 496.5z"/>
<path d="M559.4 382.8L566.9 381.6L563.7 379.1L556.2 380.7z"/>
<path d="M594.7 421.5L602.1 425.6L599.0 407.3L591.5 404.8z"/>
<path d="M726.8 492.2L734.1 490.2L730.5 489.0L723.2 491.1z"/>
<path d="M580.9 390.7L588.4 392.6L585.2 385.2L577.7 384.9z"/>
<path d="M519.4 385.0L527.1 382.8L524.0 379.6L516.3 381.8z"/>
<path d="M570.2 384.7L577.7 384.9L574.5 380.9L566.9 381.6z"/>
<path d="M657.7 502.2L665.1 499.9L661.7 498.8L654.3 501.0z"/>
<path d="M597.7 441.9L605.1 446.7L602.1 425.6L594.7 421.5z"/>
<path d="M600.8 463.2L608.2 467.3L605.1 446.7L597.7 441.9z"/>
<path d="M697.7 496.3L705.0 494.2L701.5 493.1L694.2 495.3z"/>
<path d="M530.2 385.7L537.8 383.2L534.7 380.5L527.1 382.8z"/>
<path d="M603.9 481.9L611.3 484.5L608.2 467.3L600.8 463.2z"/>
<path d="M737.7 491.4L745.0 489.4L741.4 488.1L734.1 490.2z"/>
<path d="M617.8 503.6L625.2 502.3L621.9 496.9L614.5 497.1z"/>
<path d="M628.5 505.6L636.0 503.6L632.7 500.8L625.2 502.3z"/>
<path d="M668.5 501.0L675.9 498.7L672.5 497.7L665.1 499.9z"/>
<path d="M541.0 385.6L548.6 382.9L545.4 380.7L537.8 383.2z"/>
<path d="M708.6 495.3L715.9 493.2L712.4 492.0L705.0 494.2z"/>
<path d="M748.6 490.6L755.9 488.6L752.2 487.4L745.0 489.4z"/>
<path d="M607.0 496.2L614.5 497.1L611.3 484.5L603.9 481.9z"/>
<path d="M639.4 505.4L646.8 503.2L643.4 501.6L636.0 503.6z"/>
<path d="M584.1 401.2L591.5 404.8L588.4 392.6L580.9 390.7z"/>
<path d="M679.4 499.7L686.8 497.5L683.3 496.5L675.9 498.7z"/>
<path d="M551.8 384.9L559.4 382.8L556.2 380.7L548.6 382.9z"/>
<path d="M719.5 494.3L726.8 492.2L723.2 491.1L715.9 493.2z"/>
<path d="M511.8 387.2L519.4 385.0L516.3 381.8L508.7 384.0z"/>
<path d="M650.2 504.5L657.7 502.2L654.3 501.0L646.8 503.2z"/>
<path d="M562.6 385.2L570.2 384.7L566.9 381.6L559.4 382.8z"/>
<path d="M573.4 389.1L580.9 390.7L577.7 384.9L570.2 384.7z"/>
<path d="M690.3 498.5L697.7 496.3L694.2 495.3L686.8 497.5z"/>
<path d="M522.6 388.1L530.2 385.7L527.1 382.8L519.4 385.0z"/>
<path d="M730.4 493.4L737.7 491.4L734.1 490.2L726.8 492.2z"/>
<path d="M587.2 416.5L594.7 421.5L591.5 404.8L584.1 401.2z"/>
<path d="M661.1 503.2L668.5 501.0L665.1 499.9L657.7 502.2z"/>
<path d="M610.3 504.5L617.8 503.6L614.5 497.1L607.0 496.2z"/>
<path d="M621.1 507.4L628.5 505.6L625.2 502.3L617.8 503.6z"/>
<path d="M533.4 388.5L541.0 385.6L537.8 383.2L530.2 385.7z"/>
<path d="M590.3 436.1L597.7 441.9L594.7 421.5L587.2 416.5z"/>
<path d="M701.2 497.4L708.6 495.3L705.0 494.2L697.7 496.3z"/>
<path d="M593.3 457.8L600.8 463.2L597.7 441.9L590.3 436.1z"/>
<path d="M741.3 492.6L748.6 490.6L745.0 489.4L737.7 491.4z"/>
<path d="M631.9 507.6L639.4 505.4L636.0 503.6L628.5 505.6z"/>
<path d="M596.4 478.1L603.9 481.9L600.8 463.2L593.3 457.8z"/>
<path d="M672.0 501.9L679.4 499.7L675.9 498.7L668.5 501.0z"/>
<path d="M544.2 388.0L551.8 384.9L548.6 382.9L541.0 385.6z"/>
<path d="M712.1 496.4L719.5 494.3L715.9 493.2L708.6 495.3z"/>
<path d="M504.1 389.4L511.8 387.2L508.7 384.0L501.0 386.2z"/>
<path d="M599.6 494.4L607.0 496.2L603.9 481.9L596.4 478.1z"/>
<path d="M752.2 491.8L759.5 489.9L755.9 488.6L748.6 490.6z"/>
<path d="M642.8 506.7L650.2 504.5L646.8 503.2L639.4 505.4z"/>
<path d="M576.6 397.5L584.1 401.2L580.9 390.7L573.4 389.1z"/>
<path d="M555.0 387.1L562.6 385.2L559.4 382.8L551.8 384.9z"/>
<path d="M682.9 500.7L690.3 498.5L686.8 497.5L679.4 499.7z"/>
<path d="M514.9 390.3L522.6 388.1L519.4 385.0L511.8 387.2z"/>
<path d="M723.1 495.4L730.4 493.4L726.8 492.2L719.5 494.3z"/>
<path d="M565.8 388.7L573.4 389.1L570.2 384.7L562.6 385.2z"/>
<path d="M653.7 505.5L661.1 503.2L657.7 502.2L650.2 504.5z"/>
<path d="M525.7 391.1L533.4 388.5L530.2 385.7L522.6 388.1z"/>
<path d="M613.6 509.1L621.1 507.4L617.8 503.6L610.3 504.5z"/>
<path d="M693.8 499.5L701.2 497.4L697.7 496.3L690.3 498.5z"/>
<path d="M602.8 504.8L610.3 504.5L607.0 496.2L599.6 494.4z"/>
<path d="M734.0 494.6L741.3 492.6L737.7 491.4L730.4 493.4z"/>
<path d="M624.4 509.8L631.9 507.6L628.5 505.6L621.1 507.4z"/>
<path d="M579.7 411.4L587.2 416.5L584.1 401.2L576.6 397.5z"/>
<path d="M536.5 391.3L544.2 388.0L541.0 385.6L533.4 388.5z"/>
<path d="M664.6 504.2L672.0 501.9L668.5 501.0L661.1 503.2z"/>
<path d="M496.4 391.6L504.1 389.4L501.0 386.2L493.3 388.4z"/>
<path d="M704.8 498.5L712.1 496.4L708.6 495.3L701.2 497.4z"/>
<path d="M635.3 509.0L642.8 506.7L639.4 505.4L631.9 507.6z"/>
<path d="M744.9 493.8L752.2 491.8L748.6 490.6L741.3 492.6z"/>
<path d="M582.8 429.9L590.3 436.1L587.2 416.5L579.7 411.4z"/>
<path d="M547.4 390.4L555.0 387.1L551.8 384.9L544.2 388.0z"/>
<path d="M585.9 451.7L593.3 457.8L590.3 436.1L582.8 429.9z"/>
<path d="M589.0 473.4L596.4 478.1L593.3 457.8L585.9 451.7z"/>
<path d="M507.2 392.5L514.9 390.3L511.8 387.2L504.1 389.4z"/>
<path d="M675.5 502.9L682.9 500.7L679.4 499.7L672.0 501.9z"/>
<path d="M715.7 497.5L723.1 495.4L719.5 494.3L712.1 496.4z"/>
<path d="M592.1 491.7L599.6 494.4L596.4 478.1L589.0 473.4z"/>
<path d="M569.0 394.7L576.6 397.5L573.4 389.1L565.8 388.7z"/>
<path d="M558.2 390.0L565.8 388.7L562.6 385.2L555.0 387.1z"/>
<path d="M646.2 507.8L653.7 505.5L650.2 504.5L642.8 506.7z"/>
<path d="M518.0 393.4L525.7 391.1L522.6 388.1L514.9 390.3z"/>
<path d="M606.0 510.5L613.6 509.1L610.3 504.5L602.8 504.8z"/>
<path d="M686.4 501.7L693.8 499.5L690.3 498.5L682.9 500.7z"/>
<path d="M726.7 496.6L734.0 494.6L730.4 493.4L723.1 495.4z"/>
<path d="M528.9 394.2L536.5 391.3L533.4 388.5L525.7 391.1z"/>
<path d="M616.9 511.8L624.4 509.8L621.1 507.4L613.6 509.1z"/>
<path d="M657.1 506.4L664.6 504.2L661.1 503.2L653.7 505.5z"/>
<path d="M595.2 504.6L602.8 504.8L599.6 494.4L592.1 491.7z"/>
<path d="M488.7 393.8L496.4 391.6L493.3 388.4L485.6 390.7z"/>
<path d="M697.4 500.6L704.8 498.5L701.2 497.4L693.8 499.5z"/>
<path d="M539.7 394.2L547.4 390.4L544.2 388.0L536.5 391.3z"/>
<path d="M627.8 511.3L635.3 509.0L631.9 507.6L624.4 509.8z"/>
<path d="M737.6 495.7L744.9 493.8L741.3 492.6L734.0 494.6z"/>
<path d="M572.2 407.1L579.7 411.4L576.6 397.5L569.0 394.7z"/>
<path d="M499.5 394.6L507.2 392.5L504.1 389.4L496.4 391.6z"/>
<path d="M668.1 505.1L675.5 502.9L672.0 501.9L664.6 504.2z"/>
<path d="M708.3 499.5L715.7 497.5L712.1 496.4L704.8 498.5z"/>
<path d="M550.6 393.5L558.2 390.0L555.0 387.1L547.4 390.4z"/>
<path d="M638.7 510.1L646.2 507.8L642.8 506.7L635.3 509.0z"/>
<path d="M510.3 395.4L518.0 393.4L514.9 390.3L507.2 392.5z"/>
<path d="M561.4 394.6L569.0 394.7L565.8 388.7L558.2 390.0z"/>
<path d="M575.3 424.1L582.8 429.9L579.7 411.4L572.2 407.1z"/>
<path d="M679.0 503.8L686.4 501.7L682.9 500.7L675.5 502.9z"/>
<path d="M521.2 396.4L528.9 394.2L525.7 391.1L518.0 393.4z"/>
<path d="M598.5 511.5L606.0 510.5L602.8 504.8L595.2 504.6z"/>
<path d="M581.4 467.9L589.0 473.4L585.9 451.7L578.4 445.3z"/>
<path d="M578.4 445.3L585.9 451.7L582.8 429.9L575.3 424.1z"/>
<path d="M719.3 498.6L726.7 496.6L723.1 495.4L715.7 497.5z"/>
<path d="M609.4 513.8L616.9 511.8L613.6 509.1L606.0 510.5z"/>
<path d="M584.5 488.1L592.1 491.7L589.0 473.4L581.4 467.9z"/>
<path d="M649.6 508.7L657.1 506.4L653.7 505.5L646.2 507.8z"/>
<path d="M532.0 397.3L539.7 394.2L536.5 391.3L528.9 394.2z"/>
<path d="M690.0 502.7L697.4 500.6L693.8 499.5L686.4 501.7z"/>
<path d="M620.3 513.6L627.8 511.3L624.4 509.8L616.9 511.8z"/>
<path d="M730.3 497.7L737.6 495.7L734.0 494.6L726.7 496.6z"/>
<path d="M587.7 503.8L595.2 504.6L592.1 491.7L584.5 488.1z"/>
<path d="M491.8 396.6L499.5 394.6L496.4 391.6L488.7 393.8z"/>
<path d="M660.6 507.3L668.1 505.1L664.6 504.2L657.1 506.4z"/>
<path d="M542.9 397.6L550.6 393.5L547.4 390.4L539.7 394.2z"/>
<path d="M700.9 501.6L708.3 499.5L704.8 498.5L697.4 500.6z"/>
<path d="M631.2 512.4L638.7 510.1L635.3 509.0L627.8 511.3z"/>
<path d="M502.6 397.4L510.3 395.4L507.2 392.5L499.5 394.6z"/>
<path d="M564.6 404.8L572.2 407.1L569.0 394.7L561.4 394.6z"/>
<path d="M553.8 397.8L561.4 394.6L558.2 390.0L550.6 393.5z"/>
<path d="M671.5 506.0L679.0 503.8L675.5 502.9L668.1 505.1z"/>
<path d="M513.5 398.3L521.2 396.4L518.0 393.4L510.3 395.4z"/>
<path d="M711.9 500.6L719.3 498.6L715.7 497.5L708.3 499.5z"/>
<path d="M642.1 511.0L649.6 508.7L646.2 507.8L638.7 510.1z"/>
<path d="M601.8 515.5L609.4 513.8L606.0 510.5L598.5 511.5z"/>
<path d="M590.9 512.2L598.5 511.5L595.2 504.6L587.7 503.8z"/>
<path d="M524.3 399.5L532.0 397.3L528.9 394.2L521.2 396.4z"/>
<path d="M567.7 420.0L575.3 424.1L572.2 407.1L564.6 404.8z"/>
<path d="M682.5 504.8L690.0 502.7L686.4 501.7L679.0 503.8z"/>
<path d="M612.7 515.8L620.3 513.6L616.9 511.8L609.4 513.8z"/>
<path d="M722.9 499.7L730.3 497.7L726.7 496.6L719.3 498.6z"/>
<path d="M535.2 400.9L542.9 397.6L539.7 394.2L532.0 397.3z"/>
<path d="M653.1 509.6L660.6 507.3L657.1 506.4L649.6 508.7z"/>
<path d="M570.8 439.9L578.4 445.3L575.3 424.1L567.7 420.0z"/>
<path d="M573.9 462.4L581.4 467.9L578.4 445.3L570.8 439.9z"/>
<path d="M577.0 484.0L584.5 488.1L581.4 467.9L573.9 462.4z"/>
<path d="M693.5 503.7L700.9 501.6L697.4 500.6L690.0 502.7z"/>
<path d="M623.6 514.8L631.2 512.4L627.8 511.3L620.3 513.6z"/>
<path d="M580.1 501.6L587.7 503.8L584.5 488.1L577.0 484.0z"/>
<path d="M494.9 399.2L502.6 397.4L499.5 394.6L491.8 396.6z"/>
<path d="M546.1 402.0L553.8 397.8L550.6 393.5L542.9 397.6z"/>
<path d="M556.9 405.7L564.6 404.8L561.4 394.6L553.8 397.8z"/>
<path d="M664.1 508.2L671.5 506.0L668.1 505.1L660.6 507.3z"/>
<path d="M505.7 400.1L513.5 398.3L510.3 395.4L502.6 397.4z"/>
<path d="M704.5 502.6L711.9 500.6L708.3 499.5L700.9 501.6z"/>
<path d="M634.6 513.3L642.1 511.0L638.7 510.1L631.2 512.4z"/>
<path d="M594.2 517.1L601.8 515.5L598.5 511.5L590.9 512.2z"/>
<path d="M516.6 401.2L524.3 399.5L521.2 396.4L513.5 398.3z"/>
<path d="M675.0 506.9L682.5 504.8L679.0 503.8L671.5 506.0z"/>
<path d="M583.3 512.4L590.9 512.2L587.7 503.8L580.1 501.6z"/>
<path d="M605.1 517.9L612.7 515.8L609.4 513.8L601.8 515.5z"/>
<path d="M715.5 501.7L722.9 499.7L719.3 498.6L711.9 500.6z"/>
<path d="M527.5 402.8L535.2 400.9L532.0 397.3L524.3 399.5z"/>
<path d="M645.6 511.9L653.1 509.6L649.6 508.7L642.1 511.0z"/>
<path d="M560.1 418.8L567.7 420.0L564.6 404.8L556.9 405.7z"/>
<path d="M538.4 405.2L546.1 402.0L542.9 397.6L535.2 400.9z"/>
<path d="M686.0 505.7L693.5 503.7L690.0 502.7L682.5 504.8z"/>
<path d="M616.1 517.1L623.6 514.8L620.3 513.6L612.7 515.8z"/>
<path d="M549.3 408.4L556.9 405.7L553.8 397.8L546.1 402.0z"/>
<path d="M563.2 436.5L570.8 439.9L567.7 420.0L560.1 418.8z"/>
<path d="M656.6 510.4L664.1 508.2L660.6 507.3L653.1 509.6z"/>
<path d="M569.4 479.9L577.0 484.0L573.9 462.4L566.3 457.9z"/>
<path d="M566.3 457.9L573.9 462.4L570.8 439.9L563.2 436.5z"/>
<path d="M498.0 401.6L505.7 400.1L502.6 397.4L494.9 399.2z"/>
<path d="M697.0 504.6L704.5 502.6L700.9 501.6L693.5 503.7z"/>
<path d="M572.5 499.0L580.1 501.6L577.0 484.0L569.4 479.9z"/>
<path d="M627.0 515.7L634.6 513.3L631.2 512.4L623.6 514.8z"/>
<path d="M508.9 402.7L516.6 401.2L513.5 398.3L505.7 400.1z"/>
<path d="M586.6 518.5L594.2 517.1L590.9 512.2L583.3 512.4z"/>
<path d="M667.6 509.1L675.0 506.9L671.5 506.0L664.1 508.2z"/>
<path d="M597.5 520.0L605.1 517.9L601.8 515.5L594.2 517.1z"/>
<path d="M708.1 503.7L715.5 501.7L711.9 500.6L704.5 502.6z"/>
<path d="M519.8 404.3L527.5 402.8L524.3 399.5L516.6 401.2z"/>
<path d="M638.0 514.1L645.6 511.9L642.1 511.0L634.6 513.3z"/>
<path d="M575.7 512.4L583.3 512.4L580.1 501.6L572.5 499.0z"/>
<path d="M530.7 406.8L538.4 405.2L535.2 400.9L527.5 402.8z"/>
<path d="M552.4 419.4L560.1 418.8L556.9 405.7L549.3 408.4z"/>
<path d="M678.6 507.8L686.0 505.7L682.5 504.8L675.0 506.9z"/>
<path d="M608.5 519.4L616.1 517.1L612.7 515.8L605.1 517.9z"/>
<path d="M541.6 411.0L549.3 408.4L546.1 402.0L538.4 405.2z"/>
<path d="M649.0 512.6L656.6 510.4L653.1 509.6L645.6 511.9z"/>
<path d="M689.6 506.7L697.0 504.6L693.5 503.7L686.0 505.7z"/>
<path d="M619.5 518.0L627.0 515.7L623.6 514.8L616.1 517.1z"/>
<path d="M555.6 434.7L563.2 436.5L560.1 418.8L552.4 419.4z"/>
<path d="M501.1 403.9L508.9 402.7L505.7 400.1L498.0 401.6z"/>
<path d="M660.0 511.2L667.6 509.1L664.1 508.2L656.6 510.4z"/>
<path d="M558.7 454.3L566.3 457.9L563.2 436.5L555.6 434.7z"/>
<path d="M579.0 519.6L586.6 518.5L583.3 512.4L575.7 512.4z"/>
<path d="M561.8 475.9L569.4 479.9L566.3 457.9L558.7 454.3z"/>
<path d="M589.9 521.9L597.5 520.0L594.2 517.1L586.6 518.5z"/>
<path d="M700.6 505.6L708.1 503.7L704.5 502.6L697.0 504.6z"/>
<path d="M564.9 496.0L572.5 499.0L569.4 479.9L561.8 475.9z"/>
<path d="M512.0 405.4L519.8 404.3L516.6 401.2L508.9 402.7z"/>
<path d="M630.5 516.5L638.0 514.1L634.6 513.3L627.0 515.7z"/>
<path d="M544.7 420.1L552.4 419.4L549.3 408.4L541.6 411.0z"/>
<path d="M522.9 407.7L530.7 406.8L527.5 402.8L519.8 404.3z"/>
<path d="M671.1 509.9L678.6 507.8L675.0 506.9L667.6 509.1z"/>
<path d="M600.9 521.6L608.5 519.4L605.1 517.9L597.5 520.0z"/>
<path d="M533.8 411.9L541.6 411.0L538.4 405.2L530.7 406.8z"/>
<path d="M568.1 511.8L575.7 512.4L572.5 499.0L564.9 496.0z"/>
<path d="M641.5 514.9L649.0 512.6L645.6 511.9L638.0 514.1z"/>
<path d="M682.1 508.7L689.6 506.7L686.0 505.7L678.6 507.8z"/>
<path d="M611.9 520.4L619.5 518.0L616.1 517.1L608.5 519.4z"/>
<path d="M547.9 433.2L555.6 434.7L552.4 419.4L544.7 420.1z"/>
<path d="M652.5 513.4L660.0 511.2L656.6 510.4L649.0 512.6z"/>
<path d="M693.1 507.6L700.6 505.6L697.0 504.6L689.6 506.7z"/>
<path d="M582.2 523.8L589.9 521.9L586.6 518.5L579.0 519.6z"/>
<path d="M622.9 518.8L630.5 516.5L627.0 515.7L619.5 518.0z"/>
<path d="M571.3 520.5L579.0 519.6L575.7 512.4L568.1 511.8z"/>
<path d="M504.2 406.1L512.0 405.4L508.9 402.7L501.1 403.9z"/>
<path d="M551.0 450.7L558.7 454.3L555.6 434.7L547.9 433.2z"/>
<path d="M663.5 512.1L671.1 509.9L667.6 509.1L660.0 511.2z"/>
<path d="M593.2 523.9L600.9 521.6L597.5 520.0L589.9 521.9z"/>
<path d="M515.2 408.3L522.9 407.7L519.8 404.3L512.0 405.4z"/>
<path d="M537.0 419.3L544.7 420.1L541.6 411.0L533.8 411.9z"/>
<path d="M554.2 471.3L561.8 475.9L558.7 454.3L551.0 450.7z"/>
<path d="M526.1 412.0L533.8 411.9L530.7 406.8L522.9 407.7z"/>
<path d="M557.3 492.0L564.9 496.0L561.8 475.9L554.2 471.3z"/>
<path d="M633.9 517.2L641.5 514.9L638.0 514.1L630.5 516.5z"/>
<path d="M604.2 522.7L611.9 520.4L608.5 519.4L600.9 521.6z"/>
<path d="M674.6 510.8L682.1 508.7L678.6 507.8L671.1 509.9z"/>
<path d="M560.4 509.7L568.1 511.8L564.9 496.0L557.3 492.0z"/>
<path d="M644.9 515.6L652.5 513.4L649.0 512.6L641.5 514.9z"/>
<path d="M685.7 509.7L693.1 507.6L689.6 506.7L682.1 508.7z"/>
<path d="M615.2 521.1L622.9 518.8L619.5 518.0L611.9 520.4z"/>
<path d="M540.2 430.5L547.9 433.2L544.7 420.1L537.0 419.3z"/>
<path d="M574.6 525.5L582.2 523.8L579.0 519.6L571.3 520.5z"/>
<path d="M563.6 520.6L571.3 520.5L568.1 511.8L560.4 509.7z"/>
<path d="M656.0 514.2L663.5 512.1L660.0 511.2L652.5 513.4z"/>
<path d="M585.5 526.1L593.2 523.9L589.9 521.9L582.2 523.8z"/>
<path d="M507.4 408.4L515.2 408.3L512.0 405.4L504.2 406.1z"/>
<path d="M529.3 417.7L537.0 419.3L533.8 411.9L526.1 412.0z"/>
<path d="M626.3 519.4L633.9 517.2L630.5 516.5L622.9 518.8z"/>
<path d="M518.3 411.6L526.1 412.0L522.9 407.7L515.2 408.3z"/>
<path d="M543.3 445.8L551.0 450.7L547.9 433.2L540.2 430.5z"/>
<path d="M596.6 525.1L604.2 522.7L600.9 521.6L593.2 523.9z"/>
<path d="M667.1 512.9L674.6 510.8L671.1 509.9L663.5 512.1z"/>
<path d="M546.5 464.9L554.2 471.3L551.0 450.7L543.3 445.8z"/>
<path d="M637.3 517.8L644.9 515.6L641.5 514.9L633.9 517.2z"/>
<path d="M549.6 485.6L557.3 492.0L554.2 471.3L546.5 464.9z"/>
<path d="M607.6 523.5L615.2 521.1L611.9 520.4L604.2 522.7z"/>
<path d="M678.1 511.7L685.7 509.7L682.1 508.7L674.6 510.8z"/>
<path d="M552.7 504.5L560.4 509.7L557.3 492.0L549.6 485.6z"/>
<path d="M566.9 526.8L574.6 525.5L571.3 520.5L563.6 520.6z"/>
<path d="M648.4 516.3L656.0 514.2L652.5 513.4L644.9 515.6z"/>
<path d="M577.9 528.3L585.5 526.1L582.2 523.8L574.6 525.5z"/>
<path d="M532.5 427.1L540.2 430.5L537.0 419.3L529.3 417.7z"/>
<path d="M618.7 521.7L626.3 519.4L622.9 518.8L615.2 521.1z"/>
<path d="M555.9 518.9L563.6 520.6L560.4 509.7L552.7 504.5z"/>
<path d="M588.9 527.4L596.6 525.1L593.2 523.9L585.5 526.1z"/>
<path d="M510.5 410.9L518.3 411.6L515.2 408.3L507.4 408.4z"/>
<path d="M521.5 416.1L529.3 417.7L526.1 412.0L518.3 411.6z"/>
<path d="M659.5 514.9L667.1 512.9L663.5 512.1L656.0 514.2z"/>
<path d="M629.7 520.1L637.3 517.8L633.9 517.2L626.3 519.4z"/>
<path d="M535.6 439.9L543.3 445.8L540.2 430.5L532.5 427.1z"/>
<path d="M599.9 525.9L607.6 523.5L604.2 522.7L596.6 525.1z"/>
<path d="M670.6 513.7L678.1 511.7L674.6 510.8L667.1 512.9z"/>
<path d="M640.8 518.5L648.4 516.3L644.9 515.6L637.3 517.8z"/>
<path d="M559.1 526.6L566.9 526.8L563.6 520.6L555.9 518.9z"/>
<path d="M570.1 530.2L577.9 528.3L574.6 525.5L566.9 526.8z"/>
<path d="M538.8 456.6L546.5 464.9L543.3 445.8L535.6 439.9z"/>
<path d="M611.0 524.1L618.7 521.7L615.2 521.1L607.6 523.5z"/>
<path d="M541.9 475.8L549.6 485.6L546.5 464.9L538.8 456.6z"/>
<path d="M581.2 529.8L588.9 527.4L585.5 526.1L577.9 528.3z"/>
<path d="M524.7 423.4L532.5 427.1L529.3 417.7L521.5 416.1z"/>
<path d="M651.9 517.0L659.5 514.9L656.0 514.2L648.4 516.3z"/>
<path d="M545.1 494.8L552.7 504.5L549.6 485.6L541.9 475.8z"/>
<path d="M513.7 414.2L521.5 416.1L518.3 411.6L510.5 410.9z"/>
<path d="M622.1 522.3L629.7 520.1L626.3 519.4L618.7 521.7z"/>
<path d="M592.2 528.2L599.9 525.9L596.6 525.1L588.9 527.4z"/>
<path d="M663.0 515.7L670.6 513.7L667.1 512.9L659.5 514.9z"/>
<path d="M548.2 511.0L555.9 518.9L552.7 504.5L545.1 494.8z"/>
<path d="M633.2 520.7L640.8 518.5L637.3 517.8L629.7 520.1z"/>
<path d="M527.9 434.0L535.6 439.9L532.5 427.1L524.7 423.4z"/>
<path d="M562.4 531.1L570.1 530.2L566.9 526.8L559.1 526.6z"/>
<path d="M603.3 526.4L611.0 524.1L607.6 523.5L599.9 525.9z"/>
<path d="M573.5 532.1L581.2 529.8L577.9 528.3L570.1 530.2z"/>
<path d="M644.3 519.1L651.9 517.0L648.4 516.3L640.8 518.5z"/>
<path d="M551.4 522.9L559.1 526.6L555.9 518.9L548.2 511.0z"/>
<path d="M614.4 524.6L622.1 522.3L618.7 521.7L611.0 524.1z"/>
<path d="M516.9 419.5L524.7 423.4L521.5 416.1L513.7 414.2z"/>
<path d="M531.0 448.1L538.8 456.6L535.6 439.9L527.9 434.0z"/>
<path d="M584.5 530.7L592.2 528.2L588.9 527.4L581.2 529.8z"/>
<path d="M655.4 517.7L663.0 515.7L659.5 514.9L651.9 517.0z"/>
<path d="M625.5 522.8L633.2 520.7L629.7 520.1L622.1 522.3z"/>
<path d="M534.2 465.1L541.9 475.8L538.8 456.6L531.0 448.1z"/>
<path d="M595.6 528.8L603.3 526.4L599.9 525.9L592.2 528.2z"/>
<path d="M537.3 483.3L545.1 494.8L541.9 475.8L534.2 465.1z"/>
<path d="M554.7 529.0L562.4 531.1L559.1 526.6L551.4 522.9z"/>
<path d="M565.7 533.5L573.5 532.1L570.1 530.2L562.4 531.1z"/>
<path d="M636.7 521.2L644.3 519.1L640.8 518.5L633.2 520.7z"/>
<path d="M606.7 526.9L614.4 524.6L611.0 524.1L603.3 526.4z"/>
<path d="M520.1 428.3L527.9 434.0L524.7 423.4L516.9 419.5z"/>
<path d="M540.5 499.9L548.2 511.0L545.1 494.8L537.3 483.3z"/>
<path d="M576.8 533.1L584.5 530.7L581.2 529.8L573.5 532.1z"/>
<path d="M647.8 519.8L655.4 517.7L651.9 517.0L644.3 519.1z"/>
<path d="M617.9 525.0L625.5 522.8L622.1 522.3L614.4 524.6z"/>
<path d="M543.7 513.3L551.4 522.9L548.2 511.0L540.5 499.9z"/>
<path d="M587.9 531.2L595.6 528.8L592.2 528.2L584.5 530.7z"/>
<path d="M523.2 440.1L531.0 448.1L527.9 434.0L520.1 428.3z"/>
<path d="M629.0 523.4L636.7 521.2L633.2 520.7L625.5 522.8z"/>
<path d="M558.0 532.5L565.7 533.5L562.4 531.1L554.7 529.0z"/>
<path d="M599.0 529.2L606.7 526.9L603.3 526.4L595.6 528.8z"/>
<path d="M569.0 534.8L576.8 533.1L573.5 532.1L565.7 533.5z"/>
<path d="M526.4 455.0L534.2 465.1L531.0 448.1L523.2 440.1z"/>
<path d="M640.1 521.8L647.8 519.8L644.3 519.1L636.7 521.2z"/>
<path d="M546.9 523.4L554.7 529.0L551.4 522.9L543.7 513.3z"/>
<path d="M610.2 527.3L617.9 525.0L614.4 524.6L606.7 526.9z"/>
<path d="M580.1 533.6L587.9 531.2L584.5 530.7L576.8 533.1z"/>
<path d="M529.6 471.9L537.3 483.3L534.2 465.1L526.4 455.0z"/>
<path d="M621.3 525.5L629.0 523.4L625.5 522.8L617.9 525.0z"/>
<path d="M532.8 488.5L540.5 499.9L537.3 483.3L529.6 471.9z"/>
<path d="M591.3 531.5L599.0 529.2L595.6 528.8L587.9 531.2z"/>
<path d="M632.5 523.9L640.1 521.8L636.7 521.2L629.0 523.4z"/>
<path d="M561.3 534.6L569.0 534.8L565.7 533.5L558.0 532.5z"/>
<path d="M550.2 529.0L558.0 532.5L554.7 529.0L546.9 523.4z"/>
<path d="M535.9 502.8L543.7 513.3L540.5 499.9L532.8 488.5z"/>
<path d="M602.4 529.5L610.2 527.3L606.7 526.9L599.0 529.2z"/>
<path d="M572.4 535.5L580.1 533.6L576.8 533.1L569.0 534.8z"/>
<path d="M613.6 527.6L621.3 525.5L617.9 525.0L610.2 527.3z"/>
<path d="M583.5 533.9L591.3 531.5L587.9 531.2L580.1 533.6z"/>
<path d="M539.2 514.0L546.9 523.4L543.7 513.3L535.9 502.8z"/>
<path d="M624.8 525.9L632.5 523.9L629.0 523.4L621.3 525.5z"/>
<path d="M594.7 531.8L602.4 529.5L599.0 529.2L591.3 531.5z"/>
<path d="M553.5 532.4L561.3 534.6L558.0 532.5L550.2 529.0z"/>
<path d="M564.6 535.9L572.4 535.5L569.0 534.8L561.3 534.6z"/>
<path d="M605.9 529.8L613.6 527.6L610.2 527.3L602.4 529.5z"/>
<path d="M542.4 522.5L550.2 529.0L546.9 523.4L539.2 514.0z"/>
<path d="M575.7 535.9L583.5 533.9L580.1 533.6L572.4 535.5z"/>
<path d="M617.1 528.0L624.8 525.9L621.3 525.5L613.6 527.6z"/>
<path d="M586.9 534.0L594.7 531.8L591.3 531.5L583.5 533.9z"/>
<path d="M556.8 534.7L564.6 535.9L561.3 534.6L553.5 532.4z"/>
<path d="M598.1 532.0L605.9 529.8L602.4 529.5L594.7 531.8z"/>
<path d="M545.7 528.4L553.5 532.4L550.2 529.0L542.4 522.5z"/>
<path d="M567.9 536.8L575.7 535.9L572.4 535.5L564.6 535.9z"/>
<path d="M609.3 530.1L617.1 528.0L613.6 527.6L605.9 529.8z"/>
<path d="M579.1 536.1L586.9 534.0L583.5 533.9L575.7 535.9z"/>
<path d="M590.3 534.2L598.1 532.0L594.7 531.8L586.9 534.0z"/>
<path d="M548.9 532.1L556.8 534.7L553.5 532.4L545.7 528.4z"/>
<path d="M560.1 536.5L567.9 536.8L564.6 535.9L556.8 534.7z"/>
<path d="M601.5 532.2L609.3 530.1L605.9 529.8L598.1 532.0z"/>
<path d="M571.3 537.4L579.1 536.1L575.7 535.9L567.9 536.8z"/>
<path d="M582.5 536.2L590.3 534.2L586.9 534.0L579.1 536.1z"/>
<path d="M593.7 534.2L601.5 532.2L598.1 532.0L590.3 534.2z"/>
<path d="M552.2 535.2L560.1 536.5L556.8 534.7L548.9 532.1z"/>
<path d="M563.4 538.0L571.3 537.4L567.9 536.8L560.1 536.5z"/>
<path d="M574.7 537.9L582.5 536.2L579.1 536.1L571.3 537.4z"/>
<path d="M585.9 536.3L593.7 534.2L590.3 534.2L582.5 536.2z"/>
<path d="M555.6 537.8L563.4 538.0L560.1 536.5L552.2 535.2z"/>
<path d="M566.8 539.3L574.7 537.9L571.3 537.4L563.4 538.0z"/>
<path d="M578.0 538.4L585.9 536.3L582.5 536.2L574.7 537.9z"/>
<path d="M558.9 540.2L566.8 539.3L563.4 538.0L555.6 537.8z"/>
<path d="M570.2 540.5L578.0 538.4L574.7 537.9L566.8 539.3z"/>
<path d="M562.3 542.5L570.2 540.5L566.8 539.3L558.9 540.2z"/></g>
</svg></body></html>
